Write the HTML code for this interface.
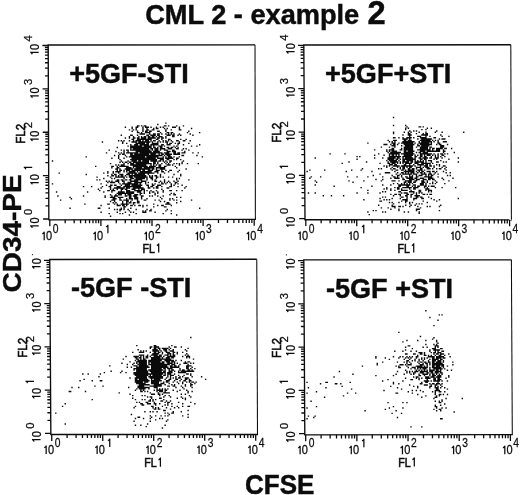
<!DOCTYPE html>
<html><head><meta charset="utf-8"><title>CML 2 - example 2</title>
<style>
html,body{margin:0;padding:0;background:#fff;}
body{width:520px;height:495px;overflow:hidden;font-family:"Liberation Sans",sans-serif;}
svg{display:block;filter:grayscale(1);}
text{font-family:"Liberation Sans",sans-serif;fill:#0c0c0c;}
.b{font-weight:bold;stroke:#0c0c0c;stroke-width:0.45px;}
.t{font-size:12px;text-anchor:middle;stroke:#0c0c0c;stroke-width:0.25px;}
.e{font-size:13.2px;text-anchor:middle;stroke:#0c0c0c;stroke-width:0.25px;}
.a{font-size:13px;stroke:#0c0c0c;stroke-width:0.6px;}
.ey{font-size:11.2px;text-anchor:middle;stroke:#0c0c0c;stroke-width:0.25px;}
.one{fill:none;stroke:#0c0c0c;stroke-width:1.25;}
</style></head><body>
<svg width="520" height="495" viewBox="0 0 520 495">
<defs>
<path id="one" class="one" d="M0 0V-8.5M0.3 -8.3C-0.2 -7.3 -1.0 -6.7 -1.9 -6.4"/>
</defs>
<rect width="520" height="495" fill="#fff"/>
<text class="b" x="145.2" y="23.8" font-size="27.2">CML 2 - example <tspan font-size="32.6" dx="0.6">2</tspan></text>
<text class="b" font-size="27.95" transform="translate(21.2,292.4) rotate(-90) scale(1,0.955)">CD34-PE</text>
<text class="b" font-size="26" transform="translate(245.0,493.7) scale(1,1.04)">CFSE</text>
<path d="M48.85 219.8L48.2 45.0L255.0 44.8" fill="none" stroke="#0c0c0c" stroke-width="1.35" stroke-linejoin="miter"/>
<path d="M255.0 44.8L255.4 219.4" fill="none" stroke="#0c0c0c" stroke-width="1.05"/>
<path d="M48.25 219.8L255.9 219.4" fill="none" stroke="#0c0c0c" stroke-width="1.35"/>
<path d="M49.80 219.80v6.4M48.85 219.00h-5.8M65.18 219.77v3.6M48.80 205.94h-3.3M74.18 219.75v3.6M48.77 198.30h-3.3M80.57 219.74v3.6M48.75 192.89h-3.3M85.52 219.73v3.6M48.73 188.68h-3.3M89.56 219.72v3.6M48.72 185.25h-3.3M92.98 219.71v3.6M48.71 182.34h-3.3M95.95 219.71v3.6M48.70 179.83h-3.3M98.56 219.70v3.6M48.69 177.61h-3.3M100.90 219.70v6.4M48.69 175.62h-5.8M116.28 219.67v3.6M48.64 162.57h-3.3M125.28 219.65v3.6M48.61 154.93h-3.3M131.67 219.64v3.6M48.59 149.51h-3.3M136.62 219.63v3.6M48.57 145.31h-3.3M140.66 219.62v3.6M48.56 141.87h-3.3M144.08 219.62v3.6M48.55 138.97h-3.3M147.05 219.61v3.6M48.54 136.45h-3.3M149.66 219.60v3.6M48.53 134.23h-3.3M152.00 219.60v6.4M48.52 132.25h-5.8M167.38 219.57v3.6M48.48 119.19h-3.3M176.38 219.55v3.6M48.45 111.55h-3.3M182.77 219.54v3.6M48.43 106.14h-3.3M187.72 219.53v3.6M48.41 101.93h-3.3M191.76 219.52v3.6M48.40 98.50h-3.3M195.18 219.52v3.6M48.39 95.59h-3.3M198.15 219.51v3.6M48.38 93.08h-3.3M200.76 219.51v3.6M48.37 90.86h-3.3M203.10 219.50v6.4M48.36 88.88h-5.8M218.48 219.47v3.6M48.31 75.82h-3.3M227.48 219.45v3.6M48.29 68.18h-3.3M233.87 219.44v3.6M48.27 62.76h-3.3M238.82 219.43v3.6M48.25 58.56h-3.3M242.86 219.42v3.6M48.24 55.12h-3.3M246.28 219.42v3.6M48.23 52.22h-3.3M249.25 219.41v3.6M48.22 49.70h-3.3M251.86 219.41v3.6M48.21 47.48h-3.3M254.20 219.40v6.4M48.20 45.50h-5.8" stroke="#0c0c0c" stroke-width="1.3" fill="none"/>
<use href="#one" x="44.20" y="240.20"/><g transform="translate(49.00,240.20)"><text class="t" transform="scale(0.92,1)">0</text></g><g transform="translate(55.60,233.30)"><text class="e" transform="scale(0.78,1)">0</text></g>
<g transform="translate(38.73,219.00) rotate(-90)"><use href="#one" x="-6.9"/><g transform="translate(-1.5,0)"><text class="t" transform="scale(0.92,1)">0</text></g><g transform="translate(7.1,-6.5)"><text class="ey" transform="scale(1.0,1)">0</text></g></g>
<use href="#one" x="95.30" y="240.20"/><g transform="translate(100.10,240.20)"><text class="t" transform="scale(0.92,1)">0</text></g><g transform="translate(106.70,233.30)"><use href="#one" x="1.2"/></g>
<g transform="translate(38.73,175.62) rotate(-90)"><use href="#one" x="-6.9"/><g transform="translate(-1.5,0)"><text class="t" transform="scale(0.92,1)">0</text></g><g transform="translate(7.1,-6.5)"><use href="#one" x="1.2"/></g></g>
<use href="#one" x="146.40" y="240.20"/><g transform="translate(151.20,240.20)"><text class="t" transform="scale(0.92,1)">0</text></g><g transform="translate(157.80,233.30)"><text class="e" transform="scale(0.78,1)">2</text></g>
<g transform="translate(38.73,132.25) rotate(-90)"><use href="#one" x="-6.9"/><g transform="translate(-1.5,0)"><text class="t" transform="scale(0.92,1)">0</text></g><g transform="translate(7.1,-6.5)"><text class="ey" transform="scale(1.0,1)">2</text></g></g>
<use href="#one" x="197.50" y="240.20"/><g transform="translate(202.30,240.20)"><text class="t" transform="scale(0.92,1)">0</text></g><g transform="translate(208.90,233.30)"><text class="e" transform="scale(0.78,1)">3</text></g>
<g transform="translate(38.73,88.88) rotate(-90)"><use href="#one" x="-6.9"/><g transform="translate(-1.5,0)"><text class="t" transform="scale(0.92,1)">0</text></g><g transform="translate(7.1,-6.5)"><text class="ey" transform="scale(1.0,1)">3</text></g></g>
<use href="#one" x="248.60" y="240.20"/><g transform="translate(253.40,240.20)"><text class="t" transform="scale(0.92,1)">0</text></g><g transform="translate(260.00,233.30)"><text class="e" transform="scale(0.78,1)">4</text></g>
<g transform="translate(38.73,45.50) rotate(-90)"><use href="#one" x="-6.9"/><g transform="translate(-1.5,0)"><text class="t" transform="scale(0.92,1)">0</text></g><g transform="translate(7.1,-6.5)"><text class="ey" transform="scale(1.0,1)">4</text></g></g>
<g transform="translate(142.6,252.6)"><text class="a" transform="scale(0.82,1)">FL</text><use href="#one" x="16.1" y="0" transform="scale(1,1.08)" style="stroke-width:1.5"/></g>
<g transform="translate(24.9,143.7) rotate(-90)"><text class="a" style="font-size:12.2px" transform="scale(0.95,1)">FL2</text></g>
<text class="b" font-size="27.2" transform="translate(69.19999999999999,83.2) scale(0.995,1.03)" xml:space="preserve">+5GF-STI</text>
<path d="M51.80 160.25h1.4v1.4h-1.4zM51.80 183.20h1.4v1.4h-1.4zM55.85 191.30h1.4v1.4h-1.4zM57.20 195.35h1.4v1.4h-1.4zM58.55 172.40h1.4v1.4h-1.4zM59.90 199.40h1.4v1.4h-1.4zM69.35 196.70h1.4v1.4h-1.4zM69.35 207.50h1.4v1.4h-1.4zM70.70 198.05h1.4v1.4h-1.4zM82.85 185.90h1.4v1.4h-1.4zM82.85 195.35h1.4v1.4h-1.4zM84.20 203.45h1.4v1.4h-1.4zM85.55 156.20h1.4v1.4h-1.4zM85.55 173.75h1.4v1.4h-1.4zM86.90 191.30h1.4v1.4h-1.4zM90.95 185.90h1.4v1.4h-1.4zM95.00 165.65h1.4v1.4h-1.4zM96.35 176.45h1.4v1.4h-1.4zM96.35 179.15h1.4v1.4h-1.4zM97.70 188.60h1.4v1.4h-1.4zM97.70 207.50h1.4v1.4h-1.4zM99.05 179.15h1.4v1.4h-1.4zM99.05 189.95h1.4v1.4h-1.4zM99.05 207.50h1.4v1.4h-1.4zM100.40 183.20h1.4v1.4h-1.4zM100.40 187.25h1.4v1.4h-1.4zM100.40 204.80h1.4v1.4h-1.4zM100.40 211.55h1.4v1.4h-1.4zM101.75 141.35h1.4v1.4h-1.4zM101.75 185.90h1.4v1.4h-1.4zM103.10 172.40h1.4v1.4h-1.4zM103.10 177.80h1.4v1.4h-1.4zM103.10 191.30h1.4v1.4h-1.4zM104.45 195.35h1.4v1.4h-1.4zM104.45 196.70h1.4v1.4h-1.4zM105.80 152.15h1.4v1.4h-1.4zM105.80 180.50h1.4v1.4h-1.4zM105.80 184.55h1.4v1.4h-1.4zM107.15 171.05h1.4v1.4h-1.4zM107.15 172.40h1.4v1.4h-1.4zM107.15 175.10h1.4v1.4h-1.4zM107.15 181.85h1.4v1.4h-1.4zM107.15 189.95h1.4v1.4h-1.4zM107.15 203.45h1.4v1.4h-1.4zM108.50 149.45h1.4v1.4h-1.4zM108.50 180.50h1.4v1.4h-1.4zM108.50 185.90h1.4v1.4h-1.4zM108.50 189.95h1.4v1.4h-1.4zM108.50 203.45h1.4v1.4h-1.4zM108.50 207.50h1.4v1.4h-1.4zM108.50 212.90h1.4v1.4h-1.4zM109.85 162.95h1.4v1.4h-1.4zM109.85 176.45h1.4v1.4h-1.4zM109.85 181.85h1.4v1.4h-1.4zM109.85 184.55h1.4v1.4h-1.4zM109.85 185.90h1.4v1.4h-1.4zM109.85 187.25h1.4v1.4h-1.4zM109.85 188.60h1.4v1.4h-1.4zM109.85 194.00h1.4v1.4h-1.4zM109.85 196.70h1.4v1.4h-1.4zM109.85 200.75h1.4v1.4h-1.4zM109.85 215.60h1.4v1.4h-1.4zM111.20 157.55h1.4v1.4h-1.4zM111.20 165.65h1.4v1.4h-1.4zM111.20 167.00h1.4v1.4h-1.4zM111.20 173.75h1.4v1.4h-1.4zM111.20 175.10h1.4v1.4h-1.4zM111.20 177.80h1.4v1.4h-1.4zM111.20 180.50h1.4v1.4h-1.4zM111.20 181.85h1.4v1.4h-1.4zM111.20 184.55h1.4v1.4h-1.4zM111.20 189.95h1.4v1.4h-1.4zM111.20 191.30h1.4v1.4h-1.4zM111.20 195.35h1.4v1.4h-1.4zM111.20 196.70h1.4v1.4h-1.4zM111.20 199.40h1.4v1.4h-1.4zM112.55 165.65h1.4v1.4h-1.4zM112.55 171.05h1.4v1.4h-1.4zM112.55 172.40h1.4v1.4h-1.4zM112.55 175.10h1.4v1.4h-1.4zM112.55 181.85h1.4v1.4h-1.4zM112.55 188.60h1.4v1.4h-1.4zM112.55 189.95h1.4v1.4h-1.4zM112.55 196.70h1.4v1.4h-1.4zM112.55 198.05h1.4v1.4h-1.4zM112.55 199.40h1.4v1.4h-1.4zM112.55 202.10h1.4v1.4h-1.4zM113.90 154.85h1.4v1.4h-1.4zM113.90 173.75h1.4v1.4h-1.4zM113.90 177.80h1.4v1.4h-1.4zM113.90 181.85h1.4v1.4h-1.4zM113.90 184.55h1.4v1.4h-1.4zM113.90 187.25h1.4v1.4h-1.4zM113.90 189.95h1.4v1.4h-1.4zM113.90 195.35h1.4v1.4h-1.4zM113.90 196.70h1.4v1.4h-1.4zM113.90 198.05h1.4v1.4h-1.4zM113.90 199.40h1.4v1.4h-1.4zM113.90 200.75h1.4v1.4h-1.4zM113.90 203.45h1.4v1.4h-1.4zM113.90 208.85h1.4v1.4h-1.4zM115.25 150.80h1.4v1.4h-1.4zM115.25 164.30h1.4v1.4h-1.4zM115.25 168.35h1.4v1.4h-1.4zM115.25 171.05h1.4v1.4h-1.4zM115.25 173.75h1.4v1.4h-1.4zM115.25 175.10h1.4v1.4h-1.4zM115.25 176.45h1.4v1.4h-1.4zM115.25 180.50h1.4v1.4h-1.4zM115.25 184.55h1.4v1.4h-1.4zM115.25 187.25h1.4v1.4h-1.4zM115.25 194.00h1.4v1.4h-1.4zM115.25 195.35h1.4v1.4h-1.4zM115.25 198.05h1.4v1.4h-1.4zM115.25 202.10h1.4v1.4h-1.4zM116.60 146.75h1.4v1.4h-1.4zM116.60 165.65h1.4v1.4h-1.4zM116.60 167.00h1.4v1.4h-1.4zM116.60 168.35h1.4v1.4h-1.4zM116.60 169.70h1.4v1.4h-1.4zM116.60 171.05h1.4v1.4h-1.4zM116.60 176.45h1.4v1.4h-1.4zM116.60 179.15h1.4v1.4h-1.4zM116.60 180.50h1.4v1.4h-1.4zM116.60 185.90h1.4v1.4h-1.4zM116.60 187.25h1.4v1.4h-1.4zM116.60 188.60h1.4v1.4h-1.4zM116.60 192.65h1.4v1.4h-1.4zM116.60 195.35h1.4v1.4h-1.4zM116.60 203.45h1.4v1.4h-1.4zM116.60 204.80h1.4v1.4h-1.4zM116.60 208.85h1.4v1.4h-1.4zM116.60 211.55h1.4v1.4h-1.4zM117.95 140.00h1.4v1.4h-1.4zM117.95 152.15h1.4v1.4h-1.4zM117.95 154.85h1.4v1.4h-1.4zM117.95 156.20h1.4v1.4h-1.4zM117.95 157.55h1.4v1.4h-1.4zM117.95 164.30h1.4v1.4h-1.4zM117.95 167.00h1.4v1.4h-1.4zM117.95 171.05h1.4v1.4h-1.4zM117.95 172.40h1.4v1.4h-1.4zM117.95 175.10h1.4v1.4h-1.4zM117.95 176.45h1.4v1.4h-1.4zM117.95 179.15h1.4v1.4h-1.4zM117.95 180.50h1.4v1.4h-1.4zM117.95 181.85h1.4v1.4h-1.4zM117.95 185.90h1.4v1.4h-1.4zM117.95 187.25h1.4v1.4h-1.4zM117.95 191.30h1.4v1.4h-1.4zM117.95 192.65h1.4v1.4h-1.4zM117.95 194.00h1.4v1.4h-1.4zM117.95 196.70h1.4v1.4h-1.4zM117.95 204.80h1.4v1.4h-1.4zM119.30 153.50h1.4v1.4h-1.4zM119.30 158.90h1.4v1.4h-1.4zM119.30 161.60h1.4v1.4h-1.4zM119.30 165.65h1.4v1.4h-1.4zM119.30 168.35h1.4v1.4h-1.4zM119.30 169.70h1.4v1.4h-1.4zM119.30 171.05h1.4v1.4h-1.4zM119.30 173.75h1.4v1.4h-1.4zM119.30 176.45h1.4v1.4h-1.4zM119.30 183.20h1.4v1.4h-1.4zM119.30 185.90h1.4v1.4h-1.4zM119.30 187.25h1.4v1.4h-1.4zM119.30 191.30h1.4v1.4h-1.4zM119.30 192.65h1.4v1.4h-1.4zM119.30 194.00h1.4v1.4h-1.4zM119.30 196.70h1.4v1.4h-1.4zM119.30 198.05h1.4v1.4h-1.4zM119.30 199.40h1.4v1.4h-1.4zM119.30 204.80h1.4v1.4h-1.4zM119.30 208.85h1.4v1.4h-1.4zM119.30 210.20h1.4v1.4h-1.4zM119.30 212.90h1.4v1.4h-1.4zM120.65 134.60h1.4v1.4h-1.4zM120.65 140.00h1.4v1.4h-1.4zM120.65 149.45h1.4v1.4h-1.4zM120.65 152.15h1.4v1.4h-1.4zM120.65 160.25h1.4v1.4h-1.4zM120.65 164.30h1.4v1.4h-1.4zM120.65 165.65h1.4v1.4h-1.4zM120.65 169.70h1.4v1.4h-1.4zM120.65 173.75h1.4v1.4h-1.4zM120.65 175.10h1.4v1.4h-1.4zM120.65 176.45h1.4v1.4h-1.4zM120.65 179.15h1.4v1.4h-1.4zM120.65 184.55h1.4v1.4h-1.4zM120.65 187.25h1.4v1.4h-1.4zM120.65 188.60h1.4v1.4h-1.4zM120.65 189.95h1.4v1.4h-1.4zM120.65 191.30h1.4v1.4h-1.4zM120.65 192.65h1.4v1.4h-1.4zM120.65 194.00h1.4v1.4h-1.4zM120.65 196.70h1.4v1.4h-1.4zM120.65 199.40h1.4v1.4h-1.4zM120.65 203.45h1.4v1.4h-1.4zM120.65 207.50h1.4v1.4h-1.4zM120.65 208.85h1.4v1.4h-1.4zM122.00 141.35h1.4v1.4h-1.4zM122.00 142.70h1.4v1.4h-1.4zM122.00 153.50h1.4v1.4h-1.4zM122.00 161.60h1.4v1.4h-1.4zM122.00 164.30h1.4v1.4h-1.4zM122.00 165.65h1.4v1.4h-1.4zM122.00 173.75h1.4v1.4h-1.4zM122.00 175.10h1.4v1.4h-1.4zM122.00 176.45h1.4v1.4h-1.4zM122.00 179.15h1.4v1.4h-1.4zM122.00 180.50h1.4v1.4h-1.4zM122.00 183.20h1.4v1.4h-1.4zM122.00 187.25h1.4v1.4h-1.4zM122.00 188.60h1.4v1.4h-1.4zM122.00 191.30h1.4v1.4h-1.4zM122.00 192.65h1.4v1.4h-1.4zM122.00 196.70h1.4v1.4h-1.4zM122.00 200.75h1.4v1.4h-1.4zM122.00 202.10h1.4v1.4h-1.4zM122.00 203.45h1.4v1.4h-1.4zM122.00 204.80h1.4v1.4h-1.4zM122.00 212.90h1.4v1.4h-1.4zM123.35 140.00h1.4v1.4h-1.4zM123.35 149.45h1.4v1.4h-1.4zM123.35 150.80h1.4v1.4h-1.4zM123.35 152.15h1.4v1.4h-1.4zM123.35 153.50h1.4v1.4h-1.4zM123.35 157.55h1.4v1.4h-1.4zM123.35 162.95h1.4v1.4h-1.4zM123.35 164.30h1.4v1.4h-1.4zM123.35 165.65h1.4v1.4h-1.4zM123.35 169.70h1.4v1.4h-1.4zM123.35 171.05h1.4v1.4h-1.4zM123.35 176.45h1.4v1.4h-1.4zM123.35 177.80h1.4v1.4h-1.4zM123.35 180.50h1.4v1.4h-1.4zM123.35 181.85h1.4v1.4h-1.4zM123.35 183.20h1.4v1.4h-1.4zM123.35 185.90h1.4v1.4h-1.4zM123.35 187.25h1.4v1.4h-1.4zM123.35 191.30h1.4v1.4h-1.4zM123.35 192.65h1.4v1.4h-1.4zM123.35 199.40h1.4v1.4h-1.4zM123.35 203.45h1.4v1.4h-1.4zM123.35 204.80h1.4v1.4h-1.4zM123.35 206.15h1.4v1.4h-1.4zM123.35 207.50h1.4v1.4h-1.4zM123.35 208.85h1.4v1.4h-1.4zM124.70 126.50h1.4v1.4h-1.4zM124.70 137.30h1.4v1.4h-1.4zM124.70 154.85h1.4v1.4h-1.4zM124.70 161.60h1.4v1.4h-1.4zM124.70 165.65h1.4v1.4h-1.4zM124.70 168.35h1.4v1.4h-1.4zM124.70 175.10h1.4v1.4h-1.4zM124.70 179.15h1.4v1.4h-1.4zM124.70 183.20h1.4v1.4h-1.4zM124.70 184.55h1.4v1.4h-1.4zM124.70 185.90h1.4v1.4h-1.4zM124.70 188.60h1.4v1.4h-1.4zM124.70 192.65h1.4v1.4h-1.4zM124.70 194.00h1.4v1.4h-1.4zM124.70 195.35h1.4v1.4h-1.4zM124.70 199.40h1.4v1.4h-1.4zM124.70 203.45h1.4v1.4h-1.4zM124.70 206.15h1.4v1.4h-1.4zM124.70 211.55h1.4v1.4h-1.4zM126.05 142.70h1.4v1.4h-1.4zM126.05 149.45h1.4v1.4h-1.4zM126.05 152.15h1.4v1.4h-1.4zM126.05 156.20h1.4v1.4h-1.4zM126.05 161.60h1.4v1.4h-1.4zM126.05 165.65h1.4v1.4h-1.4zM126.05 167.00h1.4v1.4h-1.4zM126.05 168.35h1.4v1.4h-1.4zM126.05 169.70h1.4v1.4h-1.4zM126.05 171.05h1.4v1.4h-1.4zM126.05 173.75h1.4v1.4h-1.4zM126.05 176.45h1.4v1.4h-1.4zM126.05 179.15h1.4v1.4h-1.4zM126.05 183.20h1.4v1.4h-1.4zM126.05 184.55h1.4v1.4h-1.4zM126.05 185.90h1.4v1.4h-1.4zM126.05 187.25h1.4v1.4h-1.4zM126.05 188.60h1.4v1.4h-1.4zM126.05 189.95h1.4v1.4h-1.4zM126.05 191.30h1.4v1.4h-1.4zM126.05 192.65h1.4v1.4h-1.4zM126.05 195.35h1.4v1.4h-1.4zM126.05 198.05h1.4v1.4h-1.4zM126.05 199.40h1.4v1.4h-1.4zM126.05 200.75h1.4v1.4h-1.4zM126.05 202.10h1.4v1.4h-1.4zM126.05 203.45h1.4v1.4h-1.4zM126.05 204.80h1.4v1.4h-1.4zM127.40 145.40h1.4v1.4h-1.4zM127.40 149.45h1.4v1.4h-1.4zM127.40 150.80h1.4v1.4h-1.4zM127.40 152.15h1.4v1.4h-1.4zM127.40 160.25h1.4v1.4h-1.4zM127.40 162.95h1.4v1.4h-1.4zM127.40 165.65h1.4v1.4h-1.4zM127.40 167.00h1.4v1.4h-1.4zM127.40 168.35h1.4v1.4h-1.4zM127.40 169.70h1.4v1.4h-1.4zM127.40 172.40h1.4v1.4h-1.4zM127.40 173.75h1.4v1.4h-1.4zM127.40 181.85h1.4v1.4h-1.4zM127.40 183.20h1.4v1.4h-1.4zM127.40 184.55h1.4v1.4h-1.4zM127.40 185.90h1.4v1.4h-1.4zM127.40 187.25h1.4v1.4h-1.4zM127.40 189.95h1.4v1.4h-1.4zM127.40 191.30h1.4v1.4h-1.4zM127.40 192.65h1.4v1.4h-1.4zM127.40 194.00h1.4v1.4h-1.4zM127.40 199.40h1.4v1.4h-1.4zM127.40 200.75h1.4v1.4h-1.4zM127.40 203.45h1.4v1.4h-1.4zM127.40 208.85h1.4v1.4h-1.4zM128.75 129.20h1.4v1.4h-1.4zM128.75 135.95h1.4v1.4h-1.4zM128.75 137.30h1.4v1.4h-1.4zM128.75 140.00h1.4v1.4h-1.4zM128.75 152.15h1.4v1.4h-1.4zM128.75 156.20h1.4v1.4h-1.4zM128.75 161.60h1.4v1.4h-1.4zM128.75 167.00h1.4v1.4h-1.4zM128.75 168.35h1.4v1.4h-1.4zM128.75 169.70h1.4v1.4h-1.4zM128.75 171.05h1.4v1.4h-1.4zM128.75 172.40h1.4v1.4h-1.4zM128.75 173.75h1.4v1.4h-1.4zM128.75 175.10h1.4v1.4h-1.4zM128.75 176.45h1.4v1.4h-1.4zM128.75 179.15h1.4v1.4h-1.4zM128.75 181.85h1.4v1.4h-1.4zM128.75 183.20h1.4v1.4h-1.4zM128.75 184.55h1.4v1.4h-1.4zM128.75 185.90h1.4v1.4h-1.4zM128.75 187.25h1.4v1.4h-1.4zM128.75 189.95h1.4v1.4h-1.4zM128.75 191.30h1.4v1.4h-1.4zM128.75 192.65h1.4v1.4h-1.4zM128.75 194.00h1.4v1.4h-1.4zM128.75 195.35h1.4v1.4h-1.4zM128.75 196.70h1.4v1.4h-1.4zM128.75 198.05h1.4v1.4h-1.4zM128.75 202.10h1.4v1.4h-1.4zM128.75 210.20h1.4v1.4h-1.4zM128.75 214.25h1.4v1.4h-1.4zM130.10 134.60h1.4v1.4h-1.4zM130.10 144.05h1.4v1.4h-1.4zM130.10 145.40h1.4v1.4h-1.4zM130.10 146.75h1.4v1.4h-1.4zM130.10 148.10h1.4v1.4h-1.4zM130.10 149.45h1.4v1.4h-1.4zM130.10 152.15h1.4v1.4h-1.4zM130.10 153.50h1.4v1.4h-1.4zM130.10 154.85h1.4v1.4h-1.4zM130.10 156.20h1.4v1.4h-1.4zM130.10 158.90h1.4v1.4h-1.4zM130.10 161.60h1.4v1.4h-1.4zM130.10 162.95h1.4v1.4h-1.4zM130.10 164.30h1.4v1.4h-1.4zM130.10 167.00h1.4v1.4h-1.4zM130.10 168.35h1.4v1.4h-1.4zM130.10 171.05h1.4v1.4h-1.4zM130.10 172.40h1.4v1.4h-1.4zM130.10 175.10h1.4v1.4h-1.4zM130.10 176.45h1.4v1.4h-1.4zM130.10 177.80h1.4v1.4h-1.4zM130.10 179.15h1.4v1.4h-1.4zM130.10 180.50h1.4v1.4h-1.4zM130.10 181.85h1.4v1.4h-1.4zM130.10 183.20h1.4v1.4h-1.4zM130.10 185.90h1.4v1.4h-1.4zM130.10 191.30h1.4v1.4h-1.4zM130.10 192.65h1.4v1.4h-1.4zM130.10 194.00h1.4v1.4h-1.4zM130.10 195.35h1.4v1.4h-1.4zM130.10 196.70h1.4v1.4h-1.4zM130.10 198.05h1.4v1.4h-1.4zM130.10 200.75h1.4v1.4h-1.4zM130.10 202.10h1.4v1.4h-1.4zM130.10 204.80h1.4v1.4h-1.4zM130.10 207.50h1.4v1.4h-1.4zM130.10 211.55h1.4v1.4h-1.4zM131.45 126.50h1.4v1.4h-1.4zM131.45 127.85h1.4v1.4h-1.4zM131.45 130.55h1.4v1.4h-1.4zM131.45 134.60h1.4v1.4h-1.4zM131.45 138.65h1.4v1.4h-1.4zM131.45 141.35h1.4v1.4h-1.4zM131.45 145.40h1.4v1.4h-1.4zM131.45 146.75h1.4v1.4h-1.4zM131.45 149.45h1.4v1.4h-1.4zM131.45 152.15h1.4v1.4h-1.4zM131.45 153.50h1.4v1.4h-1.4zM131.45 154.85h1.4v1.4h-1.4zM131.45 156.20h1.4v1.4h-1.4zM131.45 157.55h1.4v1.4h-1.4zM131.45 158.90h1.4v1.4h-1.4zM131.45 160.25h1.4v1.4h-1.4zM131.45 162.95h1.4v1.4h-1.4zM131.45 164.30h1.4v1.4h-1.4zM131.45 168.35h1.4v1.4h-1.4zM131.45 169.70h1.4v1.4h-1.4zM131.45 171.05h1.4v1.4h-1.4zM131.45 172.40h1.4v1.4h-1.4zM131.45 173.75h1.4v1.4h-1.4zM131.45 175.10h1.4v1.4h-1.4zM131.45 176.45h1.4v1.4h-1.4zM131.45 177.80h1.4v1.4h-1.4zM131.45 180.50h1.4v1.4h-1.4zM131.45 183.20h1.4v1.4h-1.4zM131.45 184.55h1.4v1.4h-1.4zM131.45 185.90h1.4v1.4h-1.4zM131.45 188.60h1.4v1.4h-1.4zM131.45 191.30h1.4v1.4h-1.4zM131.45 192.65h1.4v1.4h-1.4zM131.45 198.05h1.4v1.4h-1.4zM131.45 199.40h1.4v1.4h-1.4zM131.45 204.80h1.4v1.4h-1.4zM132.80 129.20h1.4v1.4h-1.4zM132.80 135.95h1.4v1.4h-1.4zM132.80 137.30h1.4v1.4h-1.4zM132.80 138.65h1.4v1.4h-1.4zM132.80 140.00h1.4v1.4h-1.4zM132.80 141.35h1.4v1.4h-1.4zM132.80 145.40h1.4v1.4h-1.4zM132.80 146.75h1.4v1.4h-1.4zM132.80 148.10h1.4v1.4h-1.4zM132.80 149.45h1.4v1.4h-1.4zM132.80 152.15h1.4v1.4h-1.4zM132.80 154.85h1.4v1.4h-1.4zM132.80 156.20h1.4v1.4h-1.4zM132.80 157.55h1.4v1.4h-1.4zM132.80 158.90h1.4v1.4h-1.4zM132.80 160.25h1.4v1.4h-1.4zM132.80 161.60h1.4v1.4h-1.4zM132.80 162.95h1.4v1.4h-1.4zM132.80 164.30h1.4v1.4h-1.4zM132.80 165.65h1.4v1.4h-1.4zM132.80 167.00h1.4v1.4h-1.4zM132.80 169.70h1.4v1.4h-1.4zM132.80 171.05h1.4v1.4h-1.4zM132.80 172.40h1.4v1.4h-1.4zM132.80 175.10h1.4v1.4h-1.4zM132.80 177.80h1.4v1.4h-1.4zM132.80 180.50h1.4v1.4h-1.4zM132.80 183.20h1.4v1.4h-1.4zM132.80 184.55h1.4v1.4h-1.4zM132.80 185.90h1.4v1.4h-1.4zM132.80 187.25h1.4v1.4h-1.4zM132.80 188.60h1.4v1.4h-1.4zM132.80 191.30h1.4v1.4h-1.4zM132.80 192.65h1.4v1.4h-1.4zM132.80 195.35h1.4v1.4h-1.4zM132.80 202.10h1.4v1.4h-1.4zM132.80 203.45h1.4v1.4h-1.4zM132.80 211.55h1.4v1.4h-1.4zM134.15 137.30h1.4v1.4h-1.4zM134.15 141.35h1.4v1.4h-1.4zM134.15 144.05h1.4v1.4h-1.4zM134.15 145.40h1.4v1.4h-1.4zM134.15 146.75h1.4v1.4h-1.4zM134.15 148.10h1.4v1.4h-1.4zM134.15 149.45h1.4v1.4h-1.4zM134.15 152.15h1.4v1.4h-1.4zM134.15 153.50h1.4v1.4h-1.4zM134.15 154.85h1.4v1.4h-1.4zM134.15 156.20h1.4v1.4h-1.4zM134.15 157.55h1.4v1.4h-1.4zM134.15 158.90h1.4v1.4h-1.4zM134.15 160.25h1.4v1.4h-1.4zM134.15 161.60h1.4v1.4h-1.4zM134.15 164.30h1.4v1.4h-1.4zM134.15 165.65h1.4v1.4h-1.4zM134.15 168.35h1.4v1.4h-1.4zM134.15 169.70h1.4v1.4h-1.4zM134.15 171.05h1.4v1.4h-1.4zM134.15 172.40h1.4v1.4h-1.4zM134.15 173.75h1.4v1.4h-1.4zM134.15 175.10h1.4v1.4h-1.4zM134.15 176.45h1.4v1.4h-1.4zM134.15 179.15h1.4v1.4h-1.4zM134.15 180.50h1.4v1.4h-1.4zM134.15 181.85h1.4v1.4h-1.4zM134.15 183.20h1.4v1.4h-1.4zM134.15 184.55h1.4v1.4h-1.4zM134.15 185.90h1.4v1.4h-1.4zM134.15 187.25h1.4v1.4h-1.4zM134.15 188.60h1.4v1.4h-1.4zM134.15 189.95h1.4v1.4h-1.4zM134.15 194.00h1.4v1.4h-1.4zM134.15 195.35h1.4v1.4h-1.4zM134.15 196.70h1.4v1.4h-1.4zM134.15 198.05h1.4v1.4h-1.4zM134.15 202.10h1.4v1.4h-1.4zM134.15 204.80h1.4v1.4h-1.4zM135.50 126.50h1.4v1.4h-1.4zM135.50 127.85h1.4v1.4h-1.4zM135.50 129.20h1.4v1.4h-1.4zM135.50 140.00h1.4v1.4h-1.4zM135.50 141.35h1.4v1.4h-1.4zM135.50 142.70h1.4v1.4h-1.4zM135.50 144.05h1.4v1.4h-1.4zM135.50 145.40h1.4v1.4h-1.4zM135.50 146.75h1.4v1.4h-1.4zM135.50 148.10h1.4v1.4h-1.4zM135.50 149.45h1.4v1.4h-1.4zM135.50 150.80h1.4v1.4h-1.4zM135.50 152.15h1.4v1.4h-1.4zM135.50 153.50h1.4v1.4h-1.4zM135.50 154.85h1.4v1.4h-1.4zM135.50 156.20h1.4v1.4h-1.4zM135.50 157.55h1.4v1.4h-1.4zM135.50 158.90h1.4v1.4h-1.4zM135.50 160.25h1.4v1.4h-1.4zM135.50 161.60h1.4v1.4h-1.4zM135.50 162.95h1.4v1.4h-1.4zM135.50 164.30h1.4v1.4h-1.4zM135.50 165.65h1.4v1.4h-1.4zM135.50 167.00h1.4v1.4h-1.4zM135.50 168.35h1.4v1.4h-1.4zM135.50 169.70h1.4v1.4h-1.4zM135.50 172.40h1.4v1.4h-1.4zM135.50 173.75h1.4v1.4h-1.4zM135.50 175.10h1.4v1.4h-1.4zM135.50 176.45h1.4v1.4h-1.4zM135.50 177.80h1.4v1.4h-1.4zM135.50 179.15h1.4v1.4h-1.4zM135.50 180.50h1.4v1.4h-1.4zM135.50 181.85h1.4v1.4h-1.4zM135.50 183.20h1.4v1.4h-1.4zM135.50 184.55h1.4v1.4h-1.4zM135.50 185.90h1.4v1.4h-1.4zM135.50 187.25h1.4v1.4h-1.4zM135.50 189.95h1.4v1.4h-1.4zM135.50 194.00h1.4v1.4h-1.4zM135.50 195.35h1.4v1.4h-1.4zM135.50 196.70h1.4v1.4h-1.4zM135.50 198.05h1.4v1.4h-1.4zM135.50 208.85h1.4v1.4h-1.4zM135.50 212.90h1.4v1.4h-1.4zM136.85 125.15h1.4v1.4h-1.4zM136.85 126.50h1.4v1.4h-1.4zM136.85 130.55h1.4v1.4h-1.4zM136.85 131.90h1.4v1.4h-1.4zM136.85 134.60h1.4v1.4h-1.4zM136.85 137.30h1.4v1.4h-1.4zM136.85 138.65h1.4v1.4h-1.4zM136.85 140.00h1.4v1.4h-1.4zM136.85 142.70h1.4v1.4h-1.4zM136.85 144.05h1.4v1.4h-1.4zM136.85 145.40h1.4v1.4h-1.4zM136.85 146.75h1.4v1.4h-1.4zM136.85 148.10h1.4v1.4h-1.4zM136.85 149.45h1.4v1.4h-1.4zM136.85 150.80h1.4v1.4h-1.4zM136.85 152.15h1.4v1.4h-1.4zM136.85 153.50h1.4v1.4h-1.4zM136.85 154.85h1.4v1.4h-1.4zM136.85 156.20h1.4v1.4h-1.4zM136.85 157.55h1.4v1.4h-1.4zM136.85 158.90h1.4v1.4h-1.4zM136.85 161.60h1.4v1.4h-1.4zM136.85 162.95h1.4v1.4h-1.4zM136.85 164.30h1.4v1.4h-1.4zM136.85 165.65h1.4v1.4h-1.4zM136.85 167.00h1.4v1.4h-1.4zM136.85 168.35h1.4v1.4h-1.4zM136.85 169.70h1.4v1.4h-1.4zM136.85 171.05h1.4v1.4h-1.4zM136.85 173.75h1.4v1.4h-1.4zM136.85 175.10h1.4v1.4h-1.4zM136.85 176.45h1.4v1.4h-1.4zM136.85 177.80h1.4v1.4h-1.4zM136.85 179.15h1.4v1.4h-1.4zM136.85 180.50h1.4v1.4h-1.4zM136.85 181.85h1.4v1.4h-1.4zM136.85 183.20h1.4v1.4h-1.4zM136.85 184.55h1.4v1.4h-1.4zM136.85 185.90h1.4v1.4h-1.4zM136.85 187.25h1.4v1.4h-1.4zM136.85 189.95h1.4v1.4h-1.4zM136.85 191.30h1.4v1.4h-1.4zM136.85 194.00h1.4v1.4h-1.4zM136.85 196.70h1.4v1.4h-1.4zM136.85 198.05h1.4v1.4h-1.4zM136.85 199.40h1.4v1.4h-1.4zM136.85 200.75h1.4v1.4h-1.4zM136.85 202.10h1.4v1.4h-1.4zM138.20 125.15h1.4v1.4h-1.4zM138.20 131.90h1.4v1.4h-1.4zM138.20 135.95h1.4v1.4h-1.4zM138.20 137.30h1.4v1.4h-1.4zM138.20 138.65h1.4v1.4h-1.4zM138.20 140.00h1.4v1.4h-1.4zM138.20 141.35h1.4v1.4h-1.4zM138.20 142.70h1.4v1.4h-1.4zM138.20 145.40h1.4v1.4h-1.4zM138.20 146.75h1.4v1.4h-1.4zM138.20 148.10h1.4v1.4h-1.4zM138.20 149.45h1.4v1.4h-1.4zM138.20 150.80h1.4v1.4h-1.4zM138.20 153.50h1.4v1.4h-1.4zM138.20 154.85h1.4v1.4h-1.4zM138.20 156.20h1.4v1.4h-1.4zM138.20 157.55h1.4v1.4h-1.4zM138.20 158.90h1.4v1.4h-1.4zM138.20 160.25h1.4v1.4h-1.4zM138.20 161.60h1.4v1.4h-1.4zM138.20 162.95h1.4v1.4h-1.4zM138.20 164.30h1.4v1.4h-1.4zM138.20 165.65h1.4v1.4h-1.4zM138.20 167.00h1.4v1.4h-1.4zM138.20 168.35h1.4v1.4h-1.4zM138.20 169.70h1.4v1.4h-1.4zM138.20 172.40h1.4v1.4h-1.4zM138.20 173.75h1.4v1.4h-1.4zM138.20 175.10h1.4v1.4h-1.4zM138.20 176.45h1.4v1.4h-1.4zM138.20 177.80h1.4v1.4h-1.4zM138.20 179.15h1.4v1.4h-1.4zM138.20 181.85h1.4v1.4h-1.4zM138.20 184.55h1.4v1.4h-1.4zM138.20 185.90h1.4v1.4h-1.4zM138.20 187.25h1.4v1.4h-1.4zM138.20 188.60h1.4v1.4h-1.4zM138.20 189.95h1.4v1.4h-1.4zM138.20 191.30h1.4v1.4h-1.4zM138.20 200.75h1.4v1.4h-1.4zM138.20 202.10h1.4v1.4h-1.4zM138.20 204.80h1.4v1.4h-1.4zM139.55 133.25h1.4v1.4h-1.4zM139.55 138.65h1.4v1.4h-1.4zM139.55 140.00h1.4v1.4h-1.4zM139.55 141.35h1.4v1.4h-1.4zM139.55 142.70h1.4v1.4h-1.4zM139.55 144.05h1.4v1.4h-1.4zM139.55 145.40h1.4v1.4h-1.4zM139.55 146.75h1.4v1.4h-1.4zM139.55 148.10h1.4v1.4h-1.4zM139.55 149.45h1.4v1.4h-1.4zM139.55 150.80h1.4v1.4h-1.4zM139.55 152.15h1.4v1.4h-1.4zM139.55 153.50h1.4v1.4h-1.4zM139.55 154.85h1.4v1.4h-1.4zM139.55 156.20h1.4v1.4h-1.4zM139.55 157.55h1.4v1.4h-1.4zM139.55 158.90h1.4v1.4h-1.4zM139.55 160.25h1.4v1.4h-1.4zM139.55 161.60h1.4v1.4h-1.4zM139.55 162.95h1.4v1.4h-1.4zM139.55 164.30h1.4v1.4h-1.4zM139.55 165.65h1.4v1.4h-1.4zM139.55 167.00h1.4v1.4h-1.4zM139.55 168.35h1.4v1.4h-1.4zM139.55 169.70h1.4v1.4h-1.4zM139.55 171.05h1.4v1.4h-1.4zM139.55 172.40h1.4v1.4h-1.4zM139.55 173.75h1.4v1.4h-1.4zM139.55 175.10h1.4v1.4h-1.4zM139.55 176.45h1.4v1.4h-1.4zM139.55 177.80h1.4v1.4h-1.4zM139.55 179.15h1.4v1.4h-1.4zM139.55 181.85h1.4v1.4h-1.4zM139.55 183.20h1.4v1.4h-1.4zM139.55 184.55h1.4v1.4h-1.4zM139.55 185.90h1.4v1.4h-1.4zM139.55 187.25h1.4v1.4h-1.4zM139.55 189.95h1.4v1.4h-1.4zM139.55 191.30h1.4v1.4h-1.4zM139.55 192.65h1.4v1.4h-1.4zM139.55 194.00h1.4v1.4h-1.4zM139.55 204.80h1.4v1.4h-1.4zM140.90 125.15h1.4v1.4h-1.4zM140.90 131.90h1.4v1.4h-1.4zM140.90 133.25h1.4v1.4h-1.4zM140.90 135.95h1.4v1.4h-1.4zM140.90 137.30h1.4v1.4h-1.4zM140.90 138.65h1.4v1.4h-1.4zM140.90 141.35h1.4v1.4h-1.4zM140.90 142.70h1.4v1.4h-1.4zM140.90 144.05h1.4v1.4h-1.4zM140.90 145.40h1.4v1.4h-1.4zM140.90 146.75h1.4v1.4h-1.4zM140.90 148.10h1.4v1.4h-1.4zM140.90 149.45h1.4v1.4h-1.4zM140.90 150.80h1.4v1.4h-1.4zM140.90 152.15h1.4v1.4h-1.4zM140.90 153.50h1.4v1.4h-1.4zM140.90 154.85h1.4v1.4h-1.4zM140.90 156.20h1.4v1.4h-1.4zM140.90 157.55h1.4v1.4h-1.4zM140.90 158.90h1.4v1.4h-1.4zM140.90 161.60h1.4v1.4h-1.4zM140.90 162.95h1.4v1.4h-1.4zM140.90 164.30h1.4v1.4h-1.4zM140.90 165.65h1.4v1.4h-1.4zM140.90 167.00h1.4v1.4h-1.4zM140.90 168.35h1.4v1.4h-1.4zM140.90 171.05h1.4v1.4h-1.4zM140.90 172.40h1.4v1.4h-1.4zM140.90 173.75h1.4v1.4h-1.4zM140.90 175.10h1.4v1.4h-1.4zM140.90 176.45h1.4v1.4h-1.4zM140.90 177.80h1.4v1.4h-1.4zM140.90 179.15h1.4v1.4h-1.4zM140.90 180.50h1.4v1.4h-1.4zM140.90 181.85h1.4v1.4h-1.4zM140.90 184.55h1.4v1.4h-1.4zM140.90 187.25h1.4v1.4h-1.4zM140.90 188.60h1.4v1.4h-1.4zM140.90 189.95h1.4v1.4h-1.4zM140.90 192.65h1.4v1.4h-1.4zM140.90 195.35h1.4v1.4h-1.4zM140.90 196.70h1.4v1.4h-1.4zM140.90 198.05h1.4v1.4h-1.4zM142.25 126.50h1.4v1.4h-1.4zM142.25 127.85h1.4v1.4h-1.4zM142.25 129.20h1.4v1.4h-1.4zM142.25 130.55h1.4v1.4h-1.4zM142.25 133.25h1.4v1.4h-1.4zM142.25 137.30h1.4v1.4h-1.4zM142.25 138.65h1.4v1.4h-1.4zM142.25 140.00h1.4v1.4h-1.4zM142.25 141.35h1.4v1.4h-1.4zM142.25 142.70h1.4v1.4h-1.4zM142.25 144.05h1.4v1.4h-1.4zM142.25 146.75h1.4v1.4h-1.4zM142.25 148.10h1.4v1.4h-1.4zM142.25 149.45h1.4v1.4h-1.4zM142.25 150.80h1.4v1.4h-1.4zM142.25 152.15h1.4v1.4h-1.4zM142.25 153.50h1.4v1.4h-1.4zM142.25 154.85h1.4v1.4h-1.4zM142.25 156.20h1.4v1.4h-1.4zM142.25 157.55h1.4v1.4h-1.4zM142.25 158.90h1.4v1.4h-1.4zM142.25 160.25h1.4v1.4h-1.4zM142.25 161.60h1.4v1.4h-1.4zM142.25 162.95h1.4v1.4h-1.4zM142.25 164.30h1.4v1.4h-1.4zM142.25 165.65h1.4v1.4h-1.4zM142.25 168.35h1.4v1.4h-1.4zM142.25 169.70h1.4v1.4h-1.4zM142.25 171.05h1.4v1.4h-1.4zM142.25 172.40h1.4v1.4h-1.4zM142.25 173.75h1.4v1.4h-1.4zM142.25 175.10h1.4v1.4h-1.4zM142.25 176.45h1.4v1.4h-1.4zM142.25 177.80h1.4v1.4h-1.4zM142.25 180.50h1.4v1.4h-1.4zM142.25 187.25h1.4v1.4h-1.4zM142.25 188.60h1.4v1.4h-1.4zM142.25 195.35h1.4v1.4h-1.4zM142.25 204.80h1.4v1.4h-1.4zM142.25 206.15h1.4v1.4h-1.4zM142.25 210.20h1.4v1.4h-1.4zM142.25 211.55h1.4v1.4h-1.4zM143.60 125.15h1.4v1.4h-1.4zM143.60 133.25h1.4v1.4h-1.4zM143.60 135.95h1.4v1.4h-1.4zM143.60 137.30h1.4v1.4h-1.4zM143.60 138.65h1.4v1.4h-1.4zM143.60 141.35h1.4v1.4h-1.4zM143.60 142.70h1.4v1.4h-1.4zM143.60 144.05h1.4v1.4h-1.4zM143.60 145.40h1.4v1.4h-1.4zM143.60 146.75h1.4v1.4h-1.4zM143.60 148.10h1.4v1.4h-1.4zM143.60 149.45h1.4v1.4h-1.4zM143.60 150.80h1.4v1.4h-1.4zM143.60 152.15h1.4v1.4h-1.4zM143.60 153.50h1.4v1.4h-1.4zM143.60 154.85h1.4v1.4h-1.4zM143.60 156.20h1.4v1.4h-1.4zM143.60 157.55h1.4v1.4h-1.4zM143.60 158.90h1.4v1.4h-1.4zM143.60 160.25h1.4v1.4h-1.4zM143.60 161.60h1.4v1.4h-1.4zM143.60 162.95h1.4v1.4h-1.4zM143.60 164.30h1.4v1.4h-1.4zM143.60 165.65h1.4v1.4h-1.4zM143.60 167.00h1.4v1.4h-1.4zM143.60 168.35h1.4v1.4h-1.4zM143.60 169.70h1.4v1.4h-1.4zM143.60 171.05h1.4v1.4h-1.4zM143.60 172.40h1.4v1.4h-1.4zM143.60 173.75h1.4v1.4h-1.4zM143.60 175.10h1.4v1.4h-1.4zM143.60 176.45h1.4v1.4h-1.4zM143.60 177.80h1.4v1.4h-1.4zM143.60 180.50h1.4v1.4h-1.4zM143.60 188.60h1.4v1.4h-1.4zM143.60 189.95h1.4v1.4h-1.4zM143.60 191.30h1.4v1.4h-1.4zM143.60 192.65h1.4v1.4h-1.4zM143.60 199.40h1.4v1.4h-1.4zM143.60 211.55h1.4v1.4h-1.4zM144.95 125.15h1.4v1.4h-1.4zM144.95 126.50h1.4v1.4h-1.4zM144.95 130.55h1.4v1.4h-1.4zM144.95 131.90h1.4v1.4h-1.4zM144.95 135.95h1.4v1.4h-1.4zM144.95 137.30h1.4v1.4h-1.4zM144.95 138.65h1.4v1.4h-1.4zM144.95 140.00h1.4v1.4h-1.4zM144.95 141.35h1.4v1.4h-1.4zM144.95 144.05h1.4v1.4h-1.4zM144.95 145.40h1.4v1.4h-1.4zM144.95 146.75h1.4v1.4h-1.4zM144.95 148.10h1.4v1.4h-1.4zM144.95 149.45h1.4v1.4h-1.4zM144.95 150.80h1.4v1.4h-1.4zM144.95 152.15h1.4v1.4h-1.4zM144.95 153.50h1.4v1.4h-1.4zM144.95 154.85h1.4v1.4h-1.4zM144.95 157.55h1.4v1.4h-1.4zM144.95 158.90h1.4v1.4h-1.4zM144.95 160.25h1.4v1.4h-1.4zM144.95 161.60h1.4v1.4h-1.4zM144.95 162.95h1.4v1.4h-1.4zM144.95 164.30h1.4v1.4h-1.4zM144.95 165.65h1.4v1.4h-1.4zM144.95 167.00h1.4v1.4h-1.4zM144.95 168.35h1.4v1.4h-1.4zM144.95 171.05h1.4v1.4h-1.4zM144.95 172.40h1.4v1.4h-1.4zM144.95 175.10h1.4v1.4h-1.4zM144.95 176.45h1.4v1.4h-1.4zM144.95 180.50h1.4v1.4h-1.4zM144.95 181.85h1.4v1.4h-1.4zM144.95 183.20h1.4v1.4h-1.4zM144.95 199.40h1.4v1.4h-1.4zM144.95 210.20h1.4v1.4h-1.4zM144.95 211.55h1.4v1.4h-1.4zM146.30 126.50h1.4v1.4h-1.4zM146.30 127.85h1.4v1.4h-1.4zM146.30 129.20h1.4v1.4h-1.4zM146.30 130.55h1.4v1.4h-1.4zM146.30 131.90h1.4v1.4h-1.4zM146.30 134.60h1.4v1.4h-1.4zM146.30 138.65h1.4v1.4h-1.4zM146.30 140.00h1.4v1.4h-1.4zM146.30 141.35h1.4v1.4h-1.4zM146.30 142.70h1.4v1.4h-1.4zM146.30 144.05h1.4v1.4h-1.4zM146.30 145.40h1.4v1.4h-1.4zM146.30 146.75h1.4v1.4h-1.4zM146.30 148.10h1.4v1.4h-1.4zM146.30 149.45h1.4v1.4h-1.4zM146.30 150.80h1.4v1.4h-1.4zM146.30 152.15h1.4v1.4h-1.4zM146.30 153.50h1.4v1.4h-1.4zM146.30 154.85h1.4v1.4h-1.4zM146.30 156.20h1.4v1.4h-1.4zM146.30 157.55h1.4v1.4h-1.4zM146.30 158.90h1.4v1.4h-1.4zM146.30 160.25h1.4v1.4h-1.4zM146.30 161.60h1.4v1.4h-1.4zM146.30 162.95h1.4v1.4h-1.4zM146.30 165.65h1.4v1.4h-1.4zM146.30 167.00h1.4v1.4h-1.4zM146.30 168.35h1.4v1.4h-1.4zM146.30 171.05h1.4v1.4h-1.4zM146.30 172.40h1.4v1.4h-1.4zM146.30 176.45h1.4v1.4h-1.4zM146.30 177.80h1.4v1.4h-1.4zM146.30 179.15h1.4v1.4h-1.4zM146.30 184.55h1.4v1.4h-1.4zM146.30 189.95h1.4v1.4h-1.4zM146.30 198.05h1.4v1.4h-1.4zM146.30 204.80h1.4v1.4h-1.4zM146.30 208.85h1.4v1.4h-1.4zM147.65 126.50h1.4v1.4h-1.4zM147.65 129.20h1.4v1.4h-1.4zM147.65 131.90h1.4v1.4h-1.4zM147.65 134.60h1.4v1.4h-1.4zM147.65 135.95h1.4v1.4h-1.4zM147.65 137.30h1.4v1.4h-1.4zM147.65 138.65h1.4v1.4h-1.4zM147.65 140.00h1.4v1.4h-1.4zM147.65 141.35h1.4v1.4h-1.4zM147.65 142.70h1.4v1.4h-1.4zM147.65 144.05h1.4v1.4h-1.4zM147.65 145.40h1.4v1.4h-1.4zM147.65 146.75h1.4v1.4h-1.4zM147.65 148.10h1.4v1.4h-1.4zM147.65 149.45h1.4v1.4h-1.4zM147.65 150.80h1.4v1.4h-1.4zM147.65 152.15h1.4v1.4h-1.4zM147.65 153.50h1.4v1.4h-1.4zM147.65 154.85h1.4v1.4h-1.4zM147.65 156.20h1.4v1.4h-1.4zM147.65 157.55h1.4v1.4h-1.4zM147.65 158.90h1.4v1.4h-1.4zM147.65 160.25h1.4v1.4h-1.4zM147.65 161.60h1.4v1.4h-1.4zM147.65 162.95h1.4v1.4h-1.4zM147.65 167.00h1.4v1.4h-1.4zM147.65 168.35h1.4v1.4h-1.4zM147.65 169.70h1.4v1.4h-1.4zM147.65 171.05h1.4v1.4h-1.4zM147.65 172.40h1.4v1.4h-1.4zM147.65 173.75h1.4v1.4h-1.4zM147.65 181.85h1.4v1.4h-1.4zM147.65 184.55h1.4v1.4h-1.4zM147.65 185.90h1.4v1.4h-1.4zM147.65 187.25h1.4v1.4h-1.4zM149.00 130.55h1.4v1.4h-1.4zM149.00 131.90h1.4v1.4h-1.4zM149.00 133.25h1.4v1.4h-1.4zM149.00 135.95h1.4v1.4h-1.4zM149.00 137.30h1.4v1.4h-1.4zM149.00 138.65h1.4v1.4h-1.4zM149.00 141.35h1.4v1.4h-1.4zM149.00 145.40h1.4v1.4h-1.4zM149.00 146.75h1.4v1.4h-1.4zM149.00 149.45h1.4v1.4h-1.4zM149.00 150.80h1.4v1.4h-1.4zM149.00 152.15h1.4v1.4h-1.4zM149.00 154.85h1.4v1.4h-1.4zM149.00 156.20h1.4v1.4h-1.4zM149.00 157.55h1.4v1.4h-1.4zM149.00 158.90h1.4v1.4h-1.4zM149.00 162.95h1.4v1.4h-1.4zM149.00 165.65h1.4v1.4h-1.4zM149.00 167.00h1.4v1.4h-1.4zM149.00 168.35h1.4v1.4h-1.4zM149.00 169.70h1.4v1.4h-1.4zM149.00 171.05h1.4v1.4h-1.4zM149.00 172.40h1.4v1.4h-1.4zM149.00 175.10h1.4v1.4h-1.4zM149.00 176.45h1.4v1.4h-1.4zM149.00 187.25h1.4v1.4h-1.4zM149.00 191.30h1.4v1.4h-1.4zM149.00 192.65h1.4v1.4h-1.4zM149.00 195.35h1.4v1.4h-1.4zM149.00 210.20h1.4v1.4h-1.4zM150.35 126.50h1.4v1.4h-1.4zM150.35 130.55h1.4v1.4h-1.4zM150.35 134.60h1.4v1.4h-1.4zM150.35 137.30h1.4v1.4h-1.4zM150.35 138.65h1.4v1.4h-1.4zM150.35 140.00h1.4v1.4h-1.4zM150.35 144.05h1.4v1.4h-1.4zM150.35 145.40h1.4v1.4h-1.4zM150.35 146.75h1.4v1.4h-1.4zM150.35 148.10h1.4v1.4h-1.4zM150.35 150.80h1.4v1.4h-1.4zM150.35 152.15h1.4v1.4h-1.4zM150.35 153.50h1.4v1.4h-1.4zM150.35 154.85h1.4v1.4h-1.4zM150.35 156.20h1.4v1.4h-1.4zM150.35 157.55h1.4v1.4h-1.4zM150.35 158.90h1.4v1.4h-1.4zM150.35 160.25h1.4v1.4h-1.4zM150.35 162.95h1.4v1.4h-1.4zM150.35 164.30h1.4v1.4h-1.4zM150.35 165.65h1.4v1.4h-1.4zM150.35 167.00h1.4v1.4h-1.4zM150.35 169.70h1.4v1.4h-1.4zM150.35 171.05h1.4v1.4h-1.4zM150.35 172.40h1.4v1.4h-1.4zM150.35 176.45h1.4v1.4h-1.4zM150.35 177.80h1.4v1.4h-1.4zM150.35 185.90h1.4v1.4h-1.4zM150.35 189.95h1.4v1.4h-1.4zM150.35 208.85h1.4v1.4h-1.4zM150.35 210.20h1.4v1.4h-1.4zM151.70 129.20h1.4v1.4h-1.4zM151.70 134.60h1.4v1.4h-1.4zM151.70 135.95h1.4v1.4h-1.4zM151.70 137.30h1.4v1.4h-1.4zM151.70 141.35h1.4v1.4h-1.4zM151.70 142.70h1.4v1.4h-1.4zM151.70 144.05h1.4v1.4h-1.4zM151.70 148.10h1.4v1.4h-1.4zM151.70 149.45h1.4v1.4h-1.4zM151.70 152.15h1.4v1.4h-1.4zM151.70 153.50h1.4v1.4h-1.4zM151.70 154.85h1.4v1.4h-1.4zM151.70 156.20h1.4v1.4h-1.4zM151.70 157.55h1.4v1.4h-1.4zM151.70 158.90h1.4v1.4h-1.4zM151.70 160.25h1.4v1.4h-1.4zM151.70 165.65h1.4v1.4h-1.4zM151.70 167.00h1.4v1.4h-1.4zM151.70 168.35h1.4v1.4h-1.4zM151.70 169.70h1.4v1.4h-1.4zM151.70 172.40h1.4v1.4h-1.4zM151.70 175.10h1.4v1.4h-1.4zM151.70 176.45h1.4v1.4h-1.4zM151.70 177.80h1.4v1.4h-1.4zM151.70 179.15h1.4v1.4h-1.4zM151.70 183.20h1.4v1.4h-1.4zM151.70 184.55h1.4v1.4h-1.4zM151.70 185.90h1.4v1.4h-1.4zM151.70 191.30h1.4v1.4h-1.4zM151.70 195.35h1.4v1.4h-1.4zM153.05 127.85h1.4v1.4h-1.4zM153.05 129.20h1.4v1.4h-1.4zM153.05 133.25h1.4v1.4h-1.4zM153.05 134.60h1.4v1.4h-1.4zM153.05 135.95h1.4v1.4h-1.4zM153.05 137.30h1.4v1.4h-1.4zM153.05 140.00h1.4v1.4h-1.4zM153.05 142.70h1.4v1.4h-1.4zM153.05 144.05h1.4v1.4h-1.4zM153.05 145.40h1.4v1.4h-1.4zM153.05 146.75h1.4v1.4h-1.4zM153.05 150.80h1.4v1.4h-1.4zM153.05 152.15h1.4v1.4h-1.4zM153.05 153.50h1.4v1.4h-1.4zM153.05 154.85h1.4v1.4h-1.4zM153.05 156.20h1.4v1.4h-1.4zM153.05 157.55h1.4v1.4h-1.4zM153.05 158.90h1.4v1.4h-1.4zM153.05 160.25h1.4v1.4h-1.4zM153.05 161.60h1.4v1.4h-1.4zM153.05 162.95h1.4v1.4h-1.4zM153.05 164.30h1.4v1.4h-1.4zM153.05 165.65h1.4v1.4h-1.4zM153.05 167.00h1.4v1.4h-1.4zM153.05 168.35h1.4v1.4h-1.4zM153.05 172.40h1.4v1.4h-1.4zM153.05 184.55h1.4v1.4h-1.4zM153.05 187.25h1.4v1.4h-1.4zM153.05 191.30h1.4v1.4h-1.4zM153.05 203.45h1.4v1.4h-1.4zM153.05 206.15h1.4v1.4h-1.4zM154.40 133.25h1.4v1.4h-1.4zM154.40 134.60h1.4v1.4h-1.4zM154.40 137.30h1.4v1.4h-1.4zM154.40 140.00h1.4v1.4h-1.4zM154.40 142.70h1.4v1.4h-1.4zM154.40 144.05h1.4v1.4h-1.4zM154.40 146.75h1.4v1.4h-1.4zM154.40 148.10h1.4v1.4h-1.4zM154.40 149.45h1.4v1.4h-1.4zM154.40 150.80h1.4v1.4h-1.4zM154.40 152.15h1.4v1.4h-1.4zM154.40 153.50h1.4v1.4h-1.4zM154.40 154.85h1.4v1.4h-1.4zM154.40 156.20h1.4v1.4h-1.4zM154.40 157.55h1.4v1.4h-1.4zM154.40 158.90h1.4v1.4h-1.4zM154.40 160.25h1.4v1.4h-1.4zM154.40 161.60h1.4v1.4h-1.4zM154.40 162.95h1.4v1.4h-1.4zM154.40 165.65h1.4v1.4h-1.4zM154.40 171.05h1.4v1.4h-1.4zM154.40 175.10h1.4v1.4h-1.4zM154.40 179.15h1.4v1.4h-1.4zM154.40 180.50h1.4v1.4h-1.4zM154.40 183.20h1.4v1.4h-1.4zM154.40 192.65h1.4v1.4h-1.4zM154.40 194.00h1.4v1.4h-1.4zM154.40 199.40h1.4v1.4h-1.4zM154.40 211.55h1.4v1.4h-1.4zM155.75 126.50h1.4v1.4h-1.4zM155.75 127.85h1.4v1.4h-1.4zM155.75 135.95h1.4v1.4h-1.4zM155.75 138.65h1.4v1.4h-1.4zM155.75 142.70h1.4v1.4h-1.4zM155.75 144.05h1.4v1.4h-1.4zM155.75 148.10h1.4v1.4h-1.4zM155.75 149.45h1.4v1.4h-1.4zM155.75 150.80h1.4v1.4h-1.4zM155.75 152.15h1.4v1.4h-1.4zM155.75 154.85h1.4v1.4h-1.4zM155.75 156.20h1.4v1.4h-1.4zM155.75 158.90h1.4v1.4h-1.4zM155.75 160.25h1.4v1.4h-1.4zM155.75 164.30h1.4v1.4h-1.4zM155.75 167.00h1.4v1.4h-1.4zM155.75 168.35h1.4v1.4h-1.4zM155.75 169.70h1.4v1.4h-1.4zM155.75 171.05h1.4v1.4h-1.4zM155.75 175.10h1.4v1.4h-1.4zM155.75 176.45h1.4v1.4h-1.4zM155.75 177.80h1.4v1.4h-1.4zM155.75 180.50h1.4v1.4h-1.4zM155.75 185.90h1.4v1.4h-1.4zM155.75 187.25h1.4v1.4h-1.4zM155.75 189.95h1.4v1.4h-1.4zM157.10 123.80h1.4v1.4h-1.4zM157.10 127.85h1.4v1.4h-1.4zM157.10 130.55h1.4v1.4h-1.4zM157.10 133.25h1.4v1.4h-1.4zM157.10 134.60h1.4v1.4h-1.4zM157.10 137.30h1.4v1.4h-1.4zM157.10 138.65h1.4v1.4h-1.4zM157.10 141.35h1.4v1.4h-1.4zM157.10 142.70h1.4v1.4h-1.4zM157.10 144.05h1.4v1.4h-1.4zM157.10 146.75h1.4v1.4h-1.4zM157.10 148.10h1.4v1.4h-1.4zM157.10 149.45h1.4v1.4h-1.4zM157.10 150.80h1.4v1.4h-1.4zM157.10 152.15h1.4v1.4h-1.4zM157.10 154.85h1.4v1.4h-1.4zM157.10 156.20h1.4v1.4h-1.4zM157.10 157.55h1.4v1.4h-1.4zM157.10 161.60h1.4v1.4h-1.4zM157.10 162.95h1.4v1.4h-1.4zM157.10 167.00h1.4v1.4h-1.4zM157.10 169.70h1.4v1.4h-1.4zM157.10 171.05h1.4v1.4h-1.4zM157.10 172.40h1.4v1.4h-1.4zM157.10 176.45h1.4v1.4h-1.4zM157.10 184.55h1.4v1.4h-1.4zM157.10 185.90h1.4v1.4h-1.4zM157.10 187.25h1.4v1.4h-1.4zM157.10 191.30h1.4v1.4h-1.4zM157.10 192.65h1.4v1.4h-1.4zM157.10 195.35h1.4v1.4h-1.4zM157.10 204.80h1.4v1.4h-1.4zM158.45 130.55h1.4v1.4h-1.4zM158.45 133.25h1.4v1.4h-1.4zM158.45 134.60h1.4v1.4h-1.4zM158.45 135.95h1.4v1.4h-1.4zM158.45 137.30h1.4v1.4h-1.4zM158.45 140.00h1.4v1.4h-1.4zM158.45 145.40h1.4v1.4h-1.4zM158.45 150.80h1.4v1.4h-1.4zM158.45 152.15h1.4v1.4h-1.4zM158.45 153.50h1.4v1.4h-1.4zM158.45 154.85h1.4v1.4h-1.4zM158.45 157.55h1.4v1.4h-1.4zM158.45 160.25h1.4v1.4h-1.4zM158.45 164.30h1.4v1.4h-1.4zM158.45 165.65h1.4v1.4h-1.4zM158.45 167.00h1.4v1.4h-1.4zM158.45 169.70h1.4v1.4h-1.4zM158.45 181.85h1.4v1.4h-1.4zM158.45 184.55h1.4v1.4h-1.4zM158.45 199.40h1.4v1.4h-1.4zM159.80 126.50h1.4v1.4h-1.4zM159.80 131.90h1.4v1.4h-1.4zM159.80 135.95h1.4v1.4h-1.4zM159.80 141.35h1.4v1.4h-1.4zM159.80 145.40h1.4v1.4h-1.4zM159.80 146.75h1.4v1.4h-1.4zM159.80 148.10h1.4v1.4h-1.4zM159.80 149.45h1.4v1.4h-1.4zM159.80 152.15h1.4v1.4h-1.4zM159.80 154.85h1.4v1.4h-1.4zM159.80 157.55h1.4v1.4h-1.4zM159.80 158.90h1.4v1.4h-1.4zM159.80 160.25h1.4v1.4h-1.4zM159.80 164.30h1.4v1.4h-1.4zM159.80 165.65h1.4v1.4h-1.4zM159.80 167.00h1.4v1.4h-1.4zM159.80 168.35h1.4v1.4h-1.4zM159.80 173.75h1.4v1.4h-1.4zM159.80 175.10h1.4v1.4h-1.4zM159.80 176.45h1.4v1.4h-1.4zM159.80 180.50h1.4v1.4h-1.4zM159.80 184.55h1.4v1.4h-1.4zM159.80 196.70h1.4v1.4h-1.4zM159.80 200.75h1.4v1.4h-1.4zM161.15 133.25h1.4v1.4h-1.4zM161.15 135.95h1.4v1.4h-1.4zM161.15 137.30h1.4v1.4h-1.4zM161.15 138.65h1.4v1.4h-1.4zM161.15 144.05h1.4v1.4h-1.4zM161.15 145.40h1.4v1.4h-1.4zM161.15 146.75h1.4v1.4h-1.4zM161.15 148.10h1.4v1.4h-1.4zM161.15 152.15h1.4v1.4h-1.4zM161.15 153.50h1.4v1.4h-1.4zM161.15 154.85h1.4v1.4h-1.4zM161.15 157.55h1.4v1.4h-1.4zM161.15 158.90h1.4v1.4h-1.4zM161.15 162.95h1.4v1.4h-1.4zM161.15 167.00h1.4v1.4h-1.4zM161.15 168.35h1.4v1.4h-1.4zM161.15 169.70h1.4v1.4h-1.4zM161.15 171.05h1.4v1.4h-1.4zM161.15 181.85h1.4v1.4h-1.4zM161.15 183.20h1.4v1.4h-1.4zM161.15 185.90h1.4v1.4h-1.4zM161.15 188.60h1.4v1.4h-1.4zM161.15 198.05h1.4v1.4h-1.4zM161.15 204.80h1.4v1.4h-1.4zM162.50 126.50h1.4v1.4h-1.4zM162.50 137.30h1.4v1.4h-1.4zM162.50 140.00h1.4v1.4h-1.4zM162.50 141.35h1.4v1.4h-1.4zM162.50 144.05h1.4v1.4h-1.4zM162.50 148.10h1.4v1.4h-1.4zM162.50 153.50h1.4v1.4h-1.4zM162.50 156.20h1.4v1.4h-1.4zM162.50 157.55h1.4v1.4h-1.4zM162.50 158.90h1.4v1.4h-1.4zM162.50 160.25h1.4v1.4h-1.4zM162.50 167.00h1.4v1.4h-1.4zM162.50 168.35h1.4v1.4h-1.4zM162.50 171.05h1.4v1.4h-1.4zM162.50 176.45h1.4v1.4h-1.4zM162.50 183.20h1.4v1.4h-1.4zM162.50 189.95h1.4v1.4h-1.4zM162.50 191.30h1.4v1.4h-1.4zM162.50 195.35h1.4v1.4h-1.4zM162.50 204.80h1.4v1.4h-1.4zM162.50 212.90h1.4v1.4h-1.4zM163.85 125.15h1.4v1.4h-1.4zM163.85 127.85h1.4v1.4h-1.4zM163.85 145.40h1.4v1.4h-1.4zM163.85 148.10h1.4v1.4h-1.4zM163.85 149.45h1.4v1.4h-1.4zM163.85 152.15h1.4v1.4h-1.4zM163.85 154.85h1.4v1.4h-1.4zM163.85 161.60h1.4v1.4h-1.4zM163.85 165.65h1.4v1.4h-1.4zM163.85 167.00h1.4v1.4h-1.4zM163.85 168.35h1.4v1.4h-1.4zM163.85 172.40h1.4v1.4h-1.4zM163.85 179.15h1.4v1.4h-1.4zM163.85 180.50h1.4v1.4h-1.4zM163.85 181.85h1.4v1.4h-1.4zM163.85 200.75h1.4v1.4h-1.4zM163.85 206.15h1.4v1.4h-1.4zM165.20 122.45h1.4v1.4h-1.4zM165.20 125.15h1.4v1.4h-1.4zM165.20 129.20h1.4v1.4h-1.4zM165.20 130.55h1.4v1.4h-1.4zM165.20 133.25h1.4v1.4h-1.4zM165.20 135.95h1.4v1.4h-1.4zM165.20 137.30h1.4v1.4h-1.4zM165.20 140.00h1.4v1.4h-1.4zM165.20 141.35h1.4v1.4h-1.4zM165.20 149.45h1.4v1.4h-1.4zM165.20 152.15h1.4v1.4h-1.4zM165.20 153.50h1.4v1.4h-1.4zM165.20 156.20h1.4v1.4h-1.4zM165.20 157.55h1.4v1.4h-1.4zM165.20 160.25h1.4v1.4h-1.4zM165.20 162.95h1.4v1.4h-1.4zM165.20 165.65h1.4v1.4h-1.4zM165.20 169.70h1.4v1.4h-1.4zM165.20 183.20h1.4v1.4h-1.4zM165.20 203.45h1.4v1.4h-1.4zM165.20 206.15h1.4v1.4h-1.4zM165.20 210.20h1.4v1.4h-1.4zM166.55 127.85h1.4v1.4h-1.4zM166.55 131.90h1.4v1.4h-1.4zM166.55 134.60h1.4v1.4h-1.4zM166.55 141.35h1.4v1.4h-1.4zM166.55 142.70h1.4v1.4h-1.4zM166.55 144.05h1.4v1.4h-1.4zM166.55 146.75h1.4v1.4h-1.4zM166.55 149.45h1.4v1.4h-1.4zM166.55 150.80h1.4v1.4h-1.4zM166.55 152.15h1.4v1.4h-1.4zM166.55 153.50h1.4v1.4h-1.4zM166.55 154.85h1.4v1.4h-1.4zM166.55 157.55h1.4v1.4h-1.4zM166.55 158.90h1.4v1.4h-1.4zM166.55 161.60h1.4v1.4h-1.4zM166.55 164.30h1.4v1.4h-1.4zM166.55 181.85h1.4v1.4h-1.4zM166.55 187.25h1.4v1.4h-1.4zM166.55 202.10h1.4v1.4h-1.4zM166.55 203.45h1.4v1.4h-1.4zM166.55 208.85h1.4v1.4h-1.4zM167.90 125.15h1.4v1.4h-1.4zM167.90 131.90h1.4v1.4h-1.4zM167.90 133.25h1.4v1.4h-1.4zM167.90 134.60h1.4v1.4h-1.4zM167.90 138.65h1.4v1.4h-1.4zM167.90 140.00h1.4v1.4h-1.4zM167.90 144.05h1.4v1.4h-1.4zM167.90 146.75h1.4v1.4h-1.4zM167.90 148.10h1.4v1.4h-1.4zM167.90 150.80h1.4v1.4h-1.4zM167.90 152.15h1.4v1.4h-1.4zM167.90 153.50h1.4v1.4h-1.4zM167.90 154.85h1.4v1.4h-1.4zM167.90 156.20h1.4v1.4h-1.4zM167.90 157.55h1.4v1.4h-1.4zM167.90 158.90h1.4v1.4h-1.4zM167.90 162.95h1.4v1.4h-1.4zM167.90 164.30h1.4v1.4h-1.4zM167.90 171.05h1.4v1.4h-1.4zM167.90 176.45h1.4v1.4h-1.4zM167.90 180.50h1.4v1.4h-1.4zM167.90 187.25h1.4v1.4h-1.4zM167.90 202.10h1.4v1.4h-1.4zM167.90 203.45h1.4v1.4h-1.4zM169.25 134.60h1.4v1.4h-1.4zM169.25 138.65h1.4v1.4h-1.4zM169.25 142.70h1.4v1.4h-1.4zM169.25 144.05h1.4v1.4h-1.4zM169.25 148.10h1.4v1.4h-1.4zM169.25 150.80h1.4v1.4h-1.4zM169.25 153.50h1.4v1.4h-1.4zM169.25 154.85h1.4v1.4h-1.4zM169.25 156.20h1.4v1.4h-1.4zM169.25 157.55h1.4v1.4h-1.4zM169.25 160.25h1.4v1.4h-1.4zM169.25 161.60h1.4v1.4h-1.4zM169.25 164.30h1.4v1.4h-1.4zM169.25 169.70h1.4v1.4h-1.4zM169.25 181.85h1.4v1.4h-1.4zM169.25 185.90h1.4v1.4h-1.4zM169.25 189.95h1.4v1.4h-1.4zM169.25 194.00h1.4v1.4h-1.4zM169.25 198.05h1.4v1.4h-1.4zM169.25 199.40h1.4v1.4h-1.4zM169.25 203.45h1.4v1.4h-1.4zM170.60 129.20h1.4v1.4h-1.4zM170.60 131.90h1.4v1.4h-1.4zM170.60 133.25h1.4v1.4h-1.4zM170.60 140.00h1.4v1.4h-1.4zM170.60 142.70h1.4v1.4h-1.4zM170.60 146.75h1.4v1.4h-1.4zM170.60 148.10h1.4v1.4h-1.4zM170.60 153.50h1.4v1.4h-1.4zM170.60 156.20h1.4v1.4h-1.4zM170.60 157.55h1.4v1.4h-1.4zM170.60 160.25h1.4v1.4h-1.4zM170.60 169.70h1.4v1.4h-1.4zM170.60 183.20h1.4v1.4h-1.4zM170.60 184.55h1.4v1.4h-1.4zM170.60 185.90h1.4v1.4h-1.4zM170.60 189.95h1.4v1.4h-1.4zM170.60 192.65h1.4v1.4h-1.4zM170.60 204.80h1.4v1.4h-1.4zM170.60 210.20h1.4v1.4h-1.4zM170.60 212.90h1.4v1.4h-1.4zM171.95 126.50h1.4v1.4h-1.4zM171.95 131.90h1.4v1.4h-1.4zM171.95 134.60h1.4v1.4h-1.4zM171.95 135.95h1.4v1.4h-1.4zM171.95 141.35h1.4v1.4h-1.4zM171.95 146.75h1.4v1.4h-1.4zM171.95 149.45h1.4v1.4h-1.4zM171.95 150.80h1.4v1.4h-1.4zM171.95 157.55h1.4v1.4h-1.4zM171.95 164.30h1.4v1.4h-1.4zM171.95 176.45h1.4v1.4h-1.4zM171.95 198.05h1.4v1.4h-1.4zM173.30 126.50h1.4v1.4h-1.4zM173.30 133.25h1.4v1.4h-1.4zM173.30 134.60h1.4v1.4h-1.4zM173.30 135.95h1.4v1.4h-1.4zM173.30 145.40h1.4v1.4h-1.4zM173.30 149.45h1.4v1.4h-1.4zM173.30 150.80h1.4v1.4h-1.4zM173.30 152.15h1.4v1.4h-1.4zM173.30 153.50h1.4v1.4h-1.4zM173.30 156.20h1.4v1.4h-1.4zM173.30 158.90h1.4v1.4h-1.4zM173.30 162.95h1.4v1.4h-1.4zM173.30 173.75h1.4v1.4h-1.4zM173.30 180.50h1.4v1.4h-1.4zM173.30 184.55h1.4v1.4h-1.4zM173.30 192.65h1.4v1.4h-1.4zM173.30 194.00h1.4v1.4h-1.4zM173.30 199.40h1.4v1.4h-1.4zM174.65 126.50h1.4v1.4h-1.4zM174.65 142.70h1.4v1.4h-1.4zM174.65 146.75h1.4v1.4h-1.4zM174.65 150.80h1.4v1.4h-1.4zM174.65 152.15h1.4v1.4h-1.4zM174.65 153.50h1.4v1.4h-1.4zM174.65 165.65h1.4v1.4h-1.4zM174.65 181.85h1.4v1.4h-1.4zM174.65 183.20h1.4v1.4h-1.4zM174.65 194.00h1.4v1.4h-1.4zM176.00 125.15h1.4v1.4h-1.4zM176.00 140.00h1.4v1.4h-1.4zM176.00 145.40h1.4v1.4h-1.4zM176.00 148.10h1.4v1.4h-1.4zM176.00 153.50h1.4v1.4h-1.4zM176.00 157.55h1.4v1.4h-1.4zM176.00 158.90h1.4v1.4h-1.4zM176.00 162.95h1.4v1.4h-1.4zM176.00 167.00h1.4v1.4h-1.4zM176.00 177.80h1.4v1.4h-1.4zM176.00 179.15h1.4v1.4h-1.4zM176.00 181.85h1.4v1.4h-1.4zM176.00 189.95h1.4v1.4h-1.4zM176.00 196.70h1.4v1.4h-1.4zM176.00 199.40h1.4v1.4h-1.4zM176.00 202.10h1.4v1.4h-1.4zM176.00 214.25h1.4v1.4h-1.4zM177.35 134.60h1.4v1.4h-1.4zM177.35 140.00h1.4v1.4h-1.4zM177.35 142.70h1.4v1.4h-1.4zM177.35 144.05h1.4v1.4h-1.4zM177.35 146.75h1.4v1.4h-1.4zM177.35 148.10h1.4v1.4h-1.4zM177.35 152.15h1.4v1.4h-1.4zM177.35 153.50h1.4v1.4h-1.4zM177.35 157.55h1.4v1.4h-1.4zM177.35 171.05h1.4v1.4h-1.4zM177.35 180.50h1.4v1.4h-1.4zM177.35 183.20h1.4v1.4h-1.4zM177.35 185.90h1.4v1.4h-1.4zM178.70 126.50h1.4v1.4h-1.4zM178.70 127.85h1.4v1.4h-1.4zM178.70 129.20h1.4v1.4h-1.4zM178.70 133.25h1.4v1.4h-1.4zM178.70 141.35h1.4v1.4h-1.4zM178.70 142.70h1.4v1.4h-1.4zM178.70 152.15h1.4v1.4h-1.4zM178.70 153.50h1.4v1.4h-1.4zM178.70 156.20h1.4v1.4h-1.4zM178.70 162.95h1.4v1.4h-1.4zM178.70 164.30h1.4v1.4h-1.4zM178.70 169.70h1.4v1.4h-1.4zM178.70 177.80h1.4v1.4h-1.4zM180.05 129.20h1.4v1.4h-1.4zM180.05 134.60h1.4v1.4h-1.4zM180.05 138.65h1.4v1.4h-1.4zM180.05 158.90h1.4v1.4h-1.4zM180.05 173.75h1.4v1.4h-1.4zM180.05 175.10h1.4v1.4h-1.4zM180.05 196.70h1.4v1.4h-1.4zM180.05 200.75h1.4v1.4h-1.4zM181.40 149.45h1.4v1.4h-1.4zM181.40 152.15h1.4v1.4h-1.4zM181.40 154.85h1.4v1.4h-1.4zM181.40 161.60h1.4v1.4h-1.4zM181.40 162.95h1.4v1.4h-1.4zM181.40 184.55h1.4v1.4h-1.4zM181.40 189.95h1.4v1.4h-1.4zM182.75 125.15h1.4v1.4h-1.4zM182.75 140.00h1.4v1.4h-1.4zM182.75 144.05h1.4v1.4h-1.4zM182.75 148.10h1.4v1.4h-1.4zM182.75 152.15h1.4v1.4h-1.4zM182.75 154.85h1.4v1.4h-1.4zM182.75 160.25h1.4v1.4h-1.4zM184.10 140.00h1.4v1.4h-1.4zM184.10 150.80h1.4v1.4h-1.4zM184.10 152.15h1.4v1.4h-1.4zM184.10 187.25h1.4v1.4h-1.4zM185.45 138.65h1.4v1.4h-1.4zM185.45 148.10h1.4v1.4h-1.4zM185.45 168.35h1.4v1.4h-1.4zM185.45 185.90h1.4v1.4h-1.4zM186.80 131.90h1.4v1.4h-1.4zM186.80 162.95h1.4v1.4h-1.4zM188.15 130.55h1.4v1.4h-1.4zM188.15 142.70h1.4v1.4h-1.4zM188.15 149.45h1.4v1.4h-1.4zM188.15 179.15h1.4v1.4h-1.4zM189.50 133.25h1.4v1.4h-1.4zM189.50 140.00h1.4v1.4h-1.4zM190.85 127.85h1.4v1.4h-1.4zM190.85 145.40h1.4v1.4h-1.4zM190.85 199.40h1.4v1.4h-1.4zM192.20 134.60h1.4v1.4h-1.4zM192.20 152.15h1.4v1.4h-1.4zM196.25 145.40h1.4v1.4h-1.4zM196.25 154.85h1.4v1.4h-1.4zM197.60 152.15h1.4v1.4h-1.4zM197.60 162.95h1.4v1.4h-1.4zM198.95 131.90h1.4v1.4h-1.4zM198.95 144.05h1.4v1.4h-1.4zM198.95 207.50h1.4v1.4h-1.4zM201.65 156.20h1.4v1.4h-1.4z" fill="#0a0a0a"/>
<path d="M305.0 219.7L303.8 45.0L510.8 44.7" fill="none" stroke="#0c0c0c" stroke-width="1.35" stroke-linejoin="miter"/>
<path d="M510.8 44.7L511.4 219.85" fill="none" stroke="#0c0c0c" stroke-width="1.05"/>
<path d="M304.4 219.7L511.9 219.85" fill="none" stroke="#0c0c0c" stroke-width="1.35"/>
<path d="M305.80 219.70v6.4M304.99 218.70h-5.8M321.14 219.71v3.6M304.90 205.66h-3.3M330.11 219.72v3.6M304.85 198.03h-3.3M336.47 219.72v3.6M304.81 192.62h-3.3M341.41 219.73v3.6M304.79 188.42h-3.3M345.45 219.73v3.6M304.76 184.99h-3.3M348.86 219.73v3.6M304.74 182.09h-3.3M351.81 219.73v3.6M304.72 179.57h-3.3M354.42 219.74v3.6M304.71 177.36h-3.3M356.75 219.74v6.4M304.70 175.38h-5.8M372.09 219.75v3.6M304.61 162.33h-3.3M381.06 219.76v3.6M304.55 154.70h-3.3M387.42 219.76v3.6M304.52 149.29h-3.3M392.36 219.76v3.6M304.49 145.09h-3.3M396.40 219.77v3.6M304.46 141.66h-3.3M399.81 219.77v3.6M304.44 138.76h-3.3M402.76 219.77v3.6M304.43 136.25h-3.3M405.37 219.77v3.6M304.41 134.03h-3.3M407.70 219.77v6.4M304.40 132.05h-5.8M423.04 219.79v3.6M304.31 119.01h-3.3M432.01 219.79v3.6M304.26 111.38h-3.3M438.37 219.80v3.6M304.22 105.97h-3.3M443.31 219.80v3.6M304.19 101.77h-3.3M447.35 219.80v3.6M304.17 98.34h-3.3M450.76 219.81v3.6M304.15 95.44h-3.3M453.71 219.81v3.6M304.13 92.92h-3.3M456.32 219.81v3.6M304.11 90.71h-3.3M458.65 219.81v6.4M304.10 88.72h-5.8M473.99 219.82v3.6M304.01 75.68h-3.3M482.96 219.83v3.6M303.96 68.05h-3.3M489.32 219.83v3.6M303.92 62.64h-3.3M494.26 219.84v3.6M303.89 58.44h-3.3M498.30 219.84v3.6M303.87 55.01h-3.3M501.71 219.84v3.6M303.85 52.11h-3.3M504.66 219.85v3.6M303.83 49.60h-3.3M507.27 219.85v3.6M303.82 47.38h-3.3M509.60 219.85v6.4M303.80 45.40h-5.8" stroke="#0c0c0c" stroke-width="1.3" fill="none"/>
<use href="#one" x="300.20" y="240.10"/><g transform="translate(305.00,240.10)"><text class="t" transform="scale(0.92,1)">0</text></g><g transform="translate(311.60,233.20)"><text class="e" transform="scale(0.78,1)">0</text></g>
<g transform="translate(294.60,218.10) rotate(-90)"><use href="#one" x="-6.9"/><g transform="translate(-1.5,0)"><text class="t" transform="scale(0.92,1)">0</text></g><g transform="translate(7.1,-6.5)"><text class="ey" transform="scale(1.0,1)">0</text></g></g>
<use href="#one" x="351.15" y="240.10"/><g transform="translate(355.95,240.10)"><text class="t" transform="scale(0.92,1)">0</text></g><g transform="translate(362.55,233.20)"><use href="#one" x="1.2"/></g>
<g transform="translate(294.60,174.78) rotate(-90)"><use href="#one" x="-6.9"/><g transform="translate(-1.5,0)"><text class="t" transform="scale(0.92,1)">0</text></g><g transform="translate(7.1,-6.5)"><use href="#one" x="1.2"/></g></g>
<use href="#one" x="402.10" y="240.10"/><g transform="translate(406.90,240.10)"><text class="t" transform="scale(0.92,1)">0</text></g><g transform="translate(413.50,233.20)"><text class="e" transform="scale(0.78,1)">2</text></g>
<g transform="translate(294.60,131.45) rotate(-90)"><use href="#one" x="-6.9"/><g transform="translate(-1.5,0)"><text class="t" transform="scale(0.92,1)">0</text></g><g transform="translate(7.1,-6.5)"><text class="ey" transform="scale(1.0,1)">2</text></g></g>
<use href="#one" x="453.05" y="240.10"/><g transform="translate(457.85,240.10)"><text class="t" transform="scale(0.92,1)">0</text></g><g transform="translate(464.45,233.20)"><text class="e" transform="scale(0.78,1)">3</text></g>
<g transform="translate(294.60,88.12) rotate(-90)"><use href="#one" x="-6.9"/><g transform="translate(-1.5,0)"><text class="t" transform="scale(0.92,1)">0</text></g><g transform="translate(7.1,-6.5)"><text class="ey" transform="scale(1.0,1)">3</text></g></g>
<use href="#one" x="504.00" y="240.10"/><g transform="translate(508.80,240.10)"><text class="t" transform="scale(0.92,1)">0</text></g><g transform="translate(515.40,233.20)"><text class="e" transform="scale(0.78,1)">4</text></g>
<g transform="translate(294.60,44.80) rotate(-90)"><use href="#one" x="-6.9"/><g transform="translate(-1.5,0)"><text class="t" transform="scale(0.92,1)">0</text></g><g transform="translate(7.1,-6.5)"><text class="ey" transform="scale(1.0,1)">4</text></g></g>
<g transform="translate(397.6,252.5)"><text class="a" transform="scale(0.82,1)">FL</text><use href="#one" x="16.1" y="0" transform="scale(1,1.08)" style="stroke-width:1.5"/></g>
<g transform="translate(280.8,142.8) rotate(-90)"><text class="a" style="font-size:12.2px" transform="scale(0.95,1)">FL2</text></g>
<text class="b" font-size="27.2" transform="translate(325.0,83.2) scale(0.995,1.03)" xml:space="preserve">+5GF+STI</text>
<path d="M306.45 170.75h1.4v1.4h-1.4zM307.80 192.35h1.4v1.4h-1.4zM309.15 169.40h1.4v1.4h-1.4zM309.15 177.50h1.4v1.4h-1.4zM310.50 176.15h1.4v1.4h-1.4zM314.55 157.25h1.4v1.4h-1.4zM314.55 180.20h1.4v1.4h-1.4zM314.55 184.25h1.4v1.4h-1.4zM314.55 192.35h1.4v1.4h-1.4zM315.90 181.55h1.4v1.4h-1.4zM319.95 176.15h1.4v1.4h-1.4zM322.65 195.05h1.4v1.4h-1.4zM324.00 169.40h1.4v1.4h-1.4zM329.40 153.20h1.4v1.4h-1.4zM330.75 195.05h1.4v1.4h-1.4zM333.45 185.60h1.4v1.4h-1.4zM341.55 162.65h1.4v1.4h-1.4zM342.90 195.05h1.4v1.4h-1.4zM344.25 153.20h1.4v1.4h-1.4zM345.60 170.75h1.4v1.4h-1.4zM346.95 176.15h1.4v1.4h-1.4zM348.30 161.30h1.4v1.4h-1.4zM348.30 180.20h1.4v1.4h-1.4zM351.00 169.40h1.4v1.4h-1.4zM352.35 181.55h1.4v1.4h-1.4zM356.40 155.90h1.4v1.4h-1.4zM356.40 158.60h1.4v1.4h-1.4zM356.40 176.15h1.4v1.4h-1.4zM356.40 192.35h1.4v1.4h-1.4zM359.10 155.90h1.4v1.4h-1.4zM360.45 169.40h1.4v1.4h-1.4zM360.45 186.95h1.4v1.4h-1.4zM361.80 168.05h1.4v1.4h-1.4zM363.15 180.20h1.4v1.4h-1.4zM363.15 199.10h1.4v1.4h-1.4zM365.85 161.30h1.4v1.4h-1.4zM367.20 142.40h1.4v1.4h-1.4zM367.20 176.15h1.4v1.4h-1.4zM367.20 189.65h1.4v1.4h-1.4zM367.20 192.35h1.4v1.4h-1.4zM367.20 211.25h1.4v1.4h-1.4zM368.55 213.95h1.4v1.4h-1.4zM371.25 170.75h1.4v1.4h-1.4zM371.25 185.60h1.4v1.4h-1.4zM372.60 174.80h1.4v1.4h-1.4zM372.60 209.90h1.4v1.4h-1.4zM373.95 149.15h1.4v1.4h-1.4zM373.95 154.55h1.4v1.4h-1.4zM373.95 157.25h1.4v1.4h-1.4zM375.30 178.85h1.4v1.4h-1.4zM375.30 209.90h1.4v1.4h-1.4zM378.00 153.20h1.4v1.4h-1.4zM378.00 168.05h1.4v1.4h-1.4zM378.00 204.50h1.4v1.4h-1.4zM379.35 162.65h1.4v1.4h-1.4zM379.35 173.45h1.4v1.4h-1.4zM379.35 192.35h1.4v1.4h-1.4zM379.35 197.75h1.4v1.4h-1.4zM379.35 200.45h1.4v1.4h-1.4zM380.70 146.45h1.4v1.4h-1.4zM380.70 168.05h1.4v1.4h-1.4zM380.70 180.20h1.4v1.4h-1.4zM380.70 200.45h1.4v1.4h-1.4zM380.70 207.20h1.4v1.4h-1.4zM382.05 157.25h1.4v1.4h-1.4zM382.05 176.15h1.4v1.4h-1.4zM382.05 178.85h1.4v1.4h-1.4zM382.05 184.25h1.4v1.4h-1.4zM382.05 191.00h1.4v1.4h-1.4zM382.05 196.40h1.4v1.4h-1.4zM382.05 211.25h1.4v1.4h-1.4zM383.40 143.75h1.4v1.4h-1.4zM383.40 154.55h1.4v1.4h-1.4zM383.40 165.35h1.4v1.4h-1.4zM383.40 188.30h1.4v1.4h-1.4zM383.40 199.10h1.4v1.4h-1.4zM384.75 143.75h1.4v1.4h-1.4zM384.75 172.10h1.4v1.4h-1.4zM384.75 191.00h1.4v1.4h-1.4zM384.75 196.40h1.4v1.4h-1.4zM384.75 211.25h1.4v1.4h-1.4zM386.10 143.75h1.4v1.4h-1.4zM386.10 149.15h1.4v1.4h-1.4zM386.10 150.50h1.4v1.4h-1.4zM386.10 159.95h1.4v1.4h-1.4zM386.10 165.35h1.4v1.4h-1.4zM386.10 166.70h1.4v1.4h-1.4zM386.10 172.10h1.4v1.4h-1.4zM386.10 186.95h1.4v1.4h-1.4zM386.10 188.30h1.4v1.4h-1.4zM386.10 199.10h1.4v1.4h-1.4zM387.45 139.70h1.4v1.4h-1.4zM387.45 151.85h1.4v1.4h-1.4zM387.45 157.25h1.4v1.4h-1.4zM387.45 158.60h1.4v1.4h-1.4zM387.45 161.30h1.4v1.4h-1.4zM387.45 162.65h1.4v1.4h-1.4zM387.45 172.10h1.4v1.4h-1.4zM387.45 207.20h1.4v1.4h-1.4zM388.80 141.05h1.4v1.4h-1.4zM388.80 146.45h1.4v1.4h-1.4zM388.80 149.15h1.4v1.4h-1.4zM388.80 150.50h1.4v1.4h-1.4zM388.80 153.20h1.4v1.4h-1.4zM388.80 154.55h1.4v1.4h-1.4zM388.80 155.90h1.4v1.4h-1.4zM388.80 157.25h1.4v1.4h-1.4zM388.80 158.60h1.4v1.4h-1.4zM388.80 159.95h1.4v1.4h-1.4zM388.80 162.65h1.4v1.4h-1.4zM388.80 164.00h1.4v1.4h-1.4zM388.80 165.35h1.4v1.4h-1.4zM388.80 172.10h1.4v1.4h-1.4zM388.80 199.10h1.4v1.4h-1.4zM388.80 201.80h1.4v1.4h-1.4zM390.15 143.75h1.4v1.4h-1.4zM390.15 149.15h1.4v1.4h-1.4zM390.15 151.85h1.4v1.4h-1.4zM390.15 153.20h1.4v1.4h-1.4zM390.15 155.90h1.4v1.4h-1.4zM390.15 157.25h1.4v1.4h-1.4zM390.15 158.60h1.4v1.4h-1.4zM390.15 159.95h1.4v1.4h-1.4zM390.15 161.30h1.4v1.4h-1.4zM390.15 164.00h1.4v1.4h-1.4zM390.15 168.05h1.4v1.4h-1.4zM390.15 177.50h1.4v1.4h-1.4zM390.15 184.25h1.4v1.4h-1.4zM390.15 188.30h1.4v1.4h-1.4zM390.15 189.65h1.4v1.4h-1.4zM390.15 193.70h1.4v1.4h-1.4zM390.15 208.55h1.4v1.4h-1.4zM391.50 141.05h1.4v1.4h-1.4zM391.50 142.40h1.4v1.4h-1.4zM391.50 145.10h1.4v1.4h-1.4zM391.50 147.80h1.4v1.4h-1.4zM391.50 149.15h1.4v1.4h-1.4zM391.50 150.50h1.4v1.4h-1.4zM391.50 151.85h1.4v1.4h-1.4zM391.50 153.20h1.4v1.4h-1.4zM391.50 154.55h1.4v1.4h-1.4zM391.50 155.90h1.4v1.4h-1.4zM391.50 157.25h1.4v1.4h-1.4zM391.50 158.60h1.4v1.4h-1.4zM391.50 159.95h1.4v1.4h-1.4zM391.50 161.30h1.4v1.4h-1.4zM391.50 162.65h1.4v1.4h-1.4zM391.50 164.00h1.4v1.4h-1.4zM391.50 166.70h1.4v1.4h-1.4zM391.50 169.40h1.4v1.4h-1.4zM391.50 174.80h1.4v1.4h-1.4zM391.50 180.20h1.4v1.4h-1.4zM391.50 197.75h1.4v1.4h-1.4zM391.50 201.80h1.4v1.4h-1.4zM391.50 204.50h1.4v1.4h-1.4zM391.50 205.85h1.4v1.4h-1.4zM392.85 116.75h1.4v1.4h-1.4zM392.85 124.85h1.4v1.4h-1.4zM392.85 131.60h1.4v1.4h-1.4zM392.85 132.95h1.4v1.4h-1.4zM392.85 137.00h1.4v1.4h-1.4zM392.85 139.70h1.4v1.4h-1.4zM392.85 142.40h1.4v1.4h-1.4zM392.85 143.75h1.4v1.4h-1.4zM392.85 145.10h1.4v1.4h-1.4zM392.85 147.80h1.4v1.4h-1.4zM392.85 149.15h1.4v1.4h-1.4zM392.85 150.50h1.4v1.4h-1.4zM392.85 151.85h1.4v1.4h-1.4zM392.85 153.20h1.4v1.4h-1.4zM392.85 154.55h1.4v1.4h-1.4zM392.85 155.90h1.4v1.4h-1.4zM392.85 157.25h1.4v1.4h-1.4zM392.85 158.60h1.4v1.4h-1.4zM392.85 159.95h1.4v1.4h-1.4zM392.85 161.30h1.4v1.4h-1.4zM392.85 162.65h1.4v1.4h-1.4zM392.85 165.35h1.4v1.4h-1.4zM392.85 168.05h1.4v1.4h-1.4zM392.85 176.15h1.4v1.4h-1.4zM392.85 180.20h1.4v1.4h-1.4zM392.85 182.90h1.4v1.4h-1.4zM392.85 195.05h1.4v1.4h-1.4zM392.85 203.15h1.4v1.4h-1.4zM392.85 205.85h1.4v1.4h-1.4zM394.20 137.00h1.4v1.4h-1.4zM394.20 139.70h1.4v1.4h-1.4zM394.20 141.05h1.4v1.4h-1.4zM394.20 142.40h1.4v1.4h-1.4zM394.20 143.75h1.4v1.4h-1.4zM394.20 145.10h1.4v1.4h-1.4zM394.20 146.45h1.4v1.4h-1.4zM394.20 150.50h1.4v1.4h-1.4zM394.20 151.85h1.4v1.4h-1.4zM394.20 153.20h1.4v1.4h-1.4zM394.20 155.90h1.4v1.4h-1.4zM394.20 157.25h1.4v1.4h-1.4zM394.20 159.95h1.4v1.4h-1.4zM394.20 161.30h1.4v1.4h-1.4zM394.20 162.65h1.4v1.4h-1.4zM394.20 164.00h1.4v1.4h-1.4zM394.20 165.35h1.4v1.4h-1.4zM394.20 168.05h1.4v1.4h-1.4zM394.20 170.75h1.4v1.4h-1.4zM394.20 176.15h1.4v1.4h-1.4zM394.20 177.50h1.4v1.4h-1.4zM394.20 180.20h1.4v1.4h-1.4zM394.20 186.95h1.4v1.4h-1.4zM394.20 189.65h1.4v1.4h-1.4zM394.20 193.70h1.4v1.4h-1.4zM394.20 205.85h1.4v1.4h-1.4zM394.20 207.20h1.4v1.4h-1.4zM395.55 139.70h1.4v1.4h-1.4zM395.55 150.50h1.4v1.4h-1.4zM395.55 151.85h1.4v1.4h-1.4zM395.55 153.20h1.4v1.4h-1.4zM395.55 154.55h1.4v1.4h-1.4zM395.55 155.90h1.4v1.4h-1.4zM395.55 158.60h1.4v1.4h-1.4zM395.55 159.95h1.4v1.4h-1.4zM395.55 161.30h1.4v1.4h-1.4zM395.55 164.00h1.4v1.4h-1.4zM395.55 165.35h1.4v1.4h-1.4zM395.55 169.40h1.4v1.4h-1.4zM395.55 173.45h1.4v1.4h-1.4zM395.55 177.50h1.4v1.4h-1.4zM395.55 193.70h1.4v1.4h-1.4zM396.90 143.75h1.4v1.4h-1.4zM396.90 151.85h1.4v1.4h-1.4zM396.90 153.20h1.4v1.4h-1.4zM396.90 155.90h1.4v1.4h-1.4zM396.90 157.25h1.4v1.4h-1.4zM396.90 158.60h1.4v1.4h-1.4zM396.90 161.30h1.4v1.4h-1.4zM396.90 162.65h1.4v1.4h-1.4zM396.90 165.35h1.4v1.4h-1.4zM396.90 166.70h1.4v1.4h-1.4zM396.90 169.40h1.4v1.4h-1.4zM396.90 172.10h1.4v1.4h-1.4zM396.90 174.80h1.4v1.4h-1.4zM396.90 176.15h1.4v1.4h-1.4zM396.90 177.50h1.4v1.4h-1.4zM396.90 182.90h1.4v1.4h-1.4zM396.90 186.95h1.4v1.4h-1.4zM396.90 188.30h1.4v1.4h-1.4zM398.25 137.00h1.4v1.4h-1.4zM398.25 142.40h1.4v1.4h-1.4zM398.25 151.85h1.4v1.4h-1.4zM398.25 153.20h1.4v1.4h-1.4zM398.25 154.55h1.4v1.4h-1.4zM398.25 155.90h1.4v1.4h-1.4zM398.25 157.25h1.4v1.4h-1.4zM398.25 159.95h1.4v1.4h-1.4zM398.25 165.35h1.4v1.4h-1.4zM398.25 174.80h1.4v1.4h-1.4zM398.25 177.50h1.4v1.4h-1.4zM398.25 180.20h1.4v1.4h-1.4zM398.25 184.25h1.4v1.4h-1.4zM398.25 185.60h1.4v1.4h-1.4zM398.25 186.95h1.4v1.4h-1.4zM398.25 188.30h1.4v1.4h-1.4zM398.25 191.00h1.4v1.4h-1.4zM398.25 193.70h1.4v1.4h-1.4zM398.25 201.80h1.4v1.4h-1.4zM398.25 205.85h1.4v1.4h-1.4zM398.25 208.55h1.4v1.4h-1.4zM398.25 209.90h1.4v1.4h-1.4zM399.60 149.15h1.4v1.4h-1.4zM399.60 151.85h1.4v1.4h-1.4zM399.60 155.90h1.4v1.4h-1.4zM399.60 158.60h1.4v1.4h-1.4zM399.60 161.30h1.4v1.4h-1.4zM399.60 162.65h1.4v1.4h-1.4zM399.60 166.70h1.4v1.4h-1.4zM399.60 168.05h1.4v1.4h-1.4zM399.60 173.45h1.4v1.4h-1.4zM399.60 184.25h1.4v1.4h-1.4zM399.60 185.60h1.4v1.4h-1.4zM399.60 191.00h1.4v1.4h-1.4zM399.60 193.70h1.4v1.4h-1.4zM399.60 195.05h1.4v1.4h-1.4zM399.60 197.75h1.4v1.4h-1.4zM399.60 205.85h1.4v1.4h-1.4zM400.95 142.40h1.4v1.4h-1.4zM400.95 145.10h1.4v1.4h-1.4zM400.95 147.80h1.4v1.4h-1.4zM400.95 149.15h1.4v1.4h-1.4zM400.95 153.20h1.4v1.4h-1.4zM400.95 165.35h1.4v1.4h-1.4zM400.95 169.40h1.4v1.4h-1.4zM400.95 172.10h1.4v1.4h-1.4zM400.95 174.80h1.4v1.4h-1.4zM400.95 176.15h1.4v1.4h-1.4zM400.95 182.90h1.4v1.4h-1.4zM400.95 184.25h1.4v1.4h-1.4zM400.95 188.30h1.4v1.4h-1.4zM400.95 189.65h1.4v1.4h-1.4zM400.95 192.35h1.4v1.4h-1.4zM400.95 196.40h1.4v1.4h-1.4zM400.95 200.45h1.4v1.4h-1.4zM402.30 134.30h1.4v1.4h-1.4zM402.30 137.00h1.4v1.4h-1.4zM402.30 138.35h1.4v1.4h-1.4zM402.30 141.05h1.4v1.4h-1.4zM402.30 142.40h1.4v1.4h-1.4zM402.30 153.20h1.4v1.4h-1.4zM402.30 155.90h1.4v1.4h-1.4zM402.30 157.25h1.4v1.4h-1.4zM402.30 158.60h1.4v1.4h-1.4zM402.30 159.95h1.4v1.4h-1.4zM402.30 161.30h1.4v1.4h-1.4zM402.30 162.65h1.4v1.4h-1.4zM402.30 165.35h1.4v1.4h-1.4zM402.30 166.70h1.4v1.4h-1.4zM402.30 168.05h1.4v1.4h-1.4zM402.30 169.40h1.4v1.4h-1.4zM402.30 172.10h1.4v1.4h-1.4zM402.30 173.45h1.4v1.4h-1.4zM402.30 177.50h1.4v1.4h-1.4zM402.30 178.85h1.4v1.4h-1.4zM402.30 184.25h1.4v1.4h-1.4zM402.30 186.95h1.4v1.4h-1.4zM402.30 189.65h1.4v1.4h-1.4zM402.30 196.40h1.4v1.4h-1.4zM402.30 199.10h1.4v1.4h-1.4zM402.30 205.85h1.4v1.4h-1.4zM403.65 131.60h1.4v1.4h-1.4zM403.65 138.35h1.4v1.4h-1.4zM403.65 139.70h1.4v1.4h-1.4zM403.65 141.05h1.4v1.4h-1.4zM403.65 142.40h1.4v1.4h-1.4zM403.65 143.75h1.4v1.4h-1.4zM403.65 146.45h1.4v1.4h-1.4zM403.65 147.80h1.4v1.4h-1.4zM403.65 149.15h1.4v1.4h-1.4zM403.65 150.50h1.4v1.4h-1.4zM403.65 151.85h1.4v1.4h-1.4zM403.65 153.20h1.4v1.4h-1.4zM403.65 154.55h1.4v1.4h-1.4zM403.65 155.90h1.4v1.4h-1.4zM403.65 158.60h1.4v1.4h-1.4zM403.65 159.95h1.4v1.4h-1.4zM403.65 161.30h1.4v1.4h-1.4zM403.65 164.00h1.4v1.4h-1.4zM403.65 165.35h1.4v1.4h-1.4zM403.65 166.70h1.4v1.4h-1.4zM403.65 168.05h1.4v1.4h-1.4zM403.65 170.75h1.4v1.4h-1.4zM403.65 173.45h1.4v1.4h-1.4zM403.65 178.85h1.4v1.4h-1.4zM403.65 181.55h1.4v1.4h-1.4zM403.65 182.90h1.4v1.4h-1.4zM403.65 184.25h1.4v1.4h-1.4zM403.65 186.95h1.4v1.4h-1.4zM403.65 189.65h1.4v1.4h-1.4zM403.65 192.35h1.4v1.4h-1.4zM403.65 199.10h1.4v1.4h-1.4zM403.65 211.25h1.4v1.4h-1.4zM405.00 124.85h1.4v1.4h-1.4zM405.00 127.55h1.4v1.4h-1.4zM405.00 128.90h1.4v1.4h-1.4zM405.00 138.35h1.4v1.4h-1.4zM405.00 139.70h1.4v1.4h-1.4zM405.00 141.05h1.4v1.4h-1.4zM405.00 142.40h1.4v1.4h-1.4zM405.00 143.75h1.4v1.4h-1.4zM405.00 145.10h1.4v1.4h-1.4zM405.00 146.45h1.4v1.4h-1.4zM405.00 147.80h1.4v1.4h-1.4zM405.00 149.15h1.4v1.4h-1.4zM405.00 150.50h1.4v1.4h-1.4zM405.00 151.85h1.4v1.4h-1.4zM405.00 153.20h1.4v1.4h-1.4zM405.00 154.55h1.4v1.4h-1.4zM405.00 155.90h1.4v1.4h-1.4zM405.00 157.25h1.4v1.4h-1.4zM405.00 158.60h1.4v1.4h-1.4zM405.00 161.30h1.4v1.4h-1.4zM405.00 162.65h1.4v1.4h-1.4zM405.00 164.00h1.4v1.4h-1.4zM405.00 165.35h1.4v1.4h-1.4zM405.00 169.40h1.4v1.4h-1.4zM405.00 170.75h1.4v1.4h-1.4zM405.00 172.10h1.4v1.4h-1.4zM405.00 173.45h1.4v1.4h-1.4zM405.00 176.15h1.4v1.4h-1.4zM405.00 180.20h1.4v1.4h-1.4zM405.00 181.55h1.4v1.4h-1.4zM405.00 184.25h1.4v1.4h-1.4zM405.00 186.95h1.4v1.4h-1.4zM405.00 189.65h1.4v1.4h-1.4zM405.00 192.35h1.4v1.4h-1.4zM405.00 195.05h1.4v1.4h-1.4zM405.00 199.10h1.4v1.4h-1.4zM405.00 200.45h1.4v1.4h-1.4zM405.00 201.80h1.4v1.4h-1.4zM405.00 204.50h1.4v1.4h-1.4zM406.35 126.20h1.4v1.4h-1.4zM406.35 137.00h1.4v1.4h-1.4zM406.35 138.35h1.4v1.4h-1.4zM406.35 141.05h1.4v1.4h-1.4zM406.35 142.40h1.4v1.4h-1.4zM406.35 143.75h1.4v1.4h-1.4zM406.35 145.10h1.4v1.4h-1.4zM406.35 146.45h1.4v1.4h-1.4zM406.35 147.80h1.4v1.4h-1.4zM406.35 149.15h1.4v1.4h-1.4zM406.35 151.85h1.4v1.4h-1.4zM406.35 153.20h1.4v1.4h-1.4zM406.35 154.55h1.4v1.4h-1.4zM406.35 155.90h1.4v1.4h-1.4zM406.35 157.25h1.4v1.4h-1.4zM406.35 158.60h1.4v1.4h-1.4zM406.35 159.95h1.4v1.4h-1.4zM406.35 161.30h1.4v1.4h-1.4zM406.35 162.65h1.4v1.4h-1.4zM406.35 165.35h1.4v1.4h-1.4zM406.35 166.70h1.4v1.4h-1.4zM406.35 170.75h1.4v1.4h-1.4zM406.35 173.45h1.4v1.4h-1.4zM406.35 176.15h1.4v1.4h-1.4zM406.35 177.50h1.4v1.4h-1.4zM406.35 180.20h1.4v1.4h-1.4zM406.35 182.90h1.4v1.4h-1.4zM406.35 184.25h1.4v1.4h-1.4zM406.35 185.60h1.4v1.4h-1.4zM406.35 186.95h1.4v1.4h-1.4zM406.35 189.65h1.4v1.4h-1.4zM406.35 192.35h1.4v1.4h-1.4zM406.35 193.70h1.4v1.4h-1.4zM406.35 195.05h1.4v1.4h-1.4zM406.35 196.40h1.4v1.4h-1.4zM406.35 197.75h1.4v1.4h-1.4zM406.35 199.10h1.4v1.4h-1.4zM406.35 200.45h1.4v1.4h-1.4zM407.70 127.55h1.4v1.4h-1.4zM407.70 131.60h1.4v1.4h-1.4zM407.70 132.95h1.4v1.4h-1.4zM407.70 134.30h1.4v1.4h-1.4zM407.70 137.00h1.4v1.4h-1.4zM407.70 139.70h1.4v1.4h-1.4zM407.70 141.05h1.4v1.4h-1.4zM407.70 142.40h1.4v1.4h-1.4zM407.70 143.75h1.4v1.4h-1.4zM407.70 145.10h1.4v1.4h-1.4zM407.70 146.45h1.4v1.4h-1.4zM407.70 147.80h1.4v1.4h-1.4zM407.70 149.15h1.4v1.4h-1.4zM407.70 150.50h1.4v1.4h-1.4zM407.70 151.85h1.4v1.4h-1.4zM407.70 153.20h1.4v1.4h-1.4zM407.70 154.55h1.4v1.4h-1.4zM407.70 155.90h1.4v1.4h-1.4zM407.70 157.25h1.4v1.4h-1.4zM407.70 158.60h1.4v1.4h-1.4zM407.70 159.95h1.4v1.4h-1.4zM407.70 161.30h1.4v1.4h-1.4zM407.70 162.65h1.4v1.4h-1.4zM407.70 165.35h1.4v1.4h-1.4zM407.70 168.05h1.4v1.4h-1.4zM407.70 169.40h1.4v1.4h-1.4zM407.70 170.75h1.4v1.4h-1.4zM407.70 172.10h1.4v1.4h-1.4zM407.70 173.45h1.4v1.4h-1.4zM407.70 177.50h1.4v1.4h-1.4zM407.70 180.20h1.4v1.4h-1.4zM407.70 181.55h1.4v1.4h-1.4zM407.70 184.25h1.4v1.4h-1.4zM407.70 185.60h1.4v1.4h-1.4zM407.70 186.95h1.4v1.4h-1.4zM407.70 193.70h1.4v1.4h-1.4zM407.70 211.25h1.4v1.4h-1.4zM409.05 130.25h1.4v1.4h-1.4zM409.05 132.95h1.4v1.4h-1.4zM409.05 134.30h1.4v1.4h-1.4zM409.05 135.65h1.4v1.4h-1.4zM409.05 137.00h1.4v1.4h-1.4zM409.05 138.35h1.4v1.4h-1.4zM409.05 139.70h1.4v1.4h-1.4zM409.05 141.05h1.4v1.4h-1.4zM409.05 142.40h1.4v1.4h-1.4zM409.05 143.75h1.4v1.4h-1.4zM409.05 145.10h1.4v1.4h-1.4zM409.05 146.45h1.4v1.4h-1.4zM409.05 147.80h1.4v1.4h-1.4zM409.05 149.15h1.4v1.4h-1.4zM409.05 150.50h1.4v1.4h-1.4zM409.05 151.85h1.4v1.4h-1.4zM409.05 153.20h1.4v1.4h-1.4zM409.05 154.55h1.4v1.4h-1.4zM409.05 155.90h1.4v1.4h-1.4zM409.05 157.25h1.4v1.4h-1.4zM409.05 158.60h1.4v1.4h-1.4zM409.05 159.95h1.4v1.4h-1.4zM409.05 162.65h1.4v1.4h-1.4zM409.05 164.00h1.4v1.4h-1.4zM409.05 165.35h1.4v1.4h-1.4zM409.05 166.70h1.4v1.4h-1.4zM409.05 168.05h1.4v1.4h-1.4zM409.05 169.40h1.4v1.4h-1.4zM409.05 170.75h1.4v1.4h-1.4zM409.05 173.45h1.4v1.4h-1.4zM409.05 174.80h1.4v1.4h-1.4zM409.05 176.15h1.4v1.4h-1.4zM409.05 177.50h1.4v1.4h-1.4zM409.05 178.85h1.4v1.4h-1.4zM409.05 180.20h1.4v1.4h-1.4zM409.05 181.55h1.4v1.4h-1.4zM409.05 182.90h1.4v1.4h-1.4zM409.05 184.25h1.4v1.4h-1.4zM409.05 186.95h1.4v1.4h-1.4zM409.05 188.30h1.4v1.4h-1.4zM409.05 191.00h1.4v1.4h-1.4zM409.05 201.80h1.4v1.4h-1.4zM409.05 203.15h1.4v1.4h-1.4zM409.05 205.85h1.4v1.4h-1.4zM410.40 131.60h1.4v1.4h-1.4zM410.40 134.30h1.4v1.4h-1.4zM410.40 137.00h1.4v1.4h-1.4zM410.40 139.70h1.4v1.4h-1.4zM410.40 141.05h1.4v1.4h-1.4zM410.40 142.40h1.4v1.4h-1.4zM410.40 143.75h1.4v1.4h-1.4zM410.40 145.10h1.4v1.4h-1.4zM410.40 146.45h1.4v1.4h-1.4zM410.40 147.80h1.4v1.4h-1.4zM410.40 149.15h1.4v1.4h-1.4zM410.40 150.50h1.4v1.4h-1.4zM410.40 151.85h1.4v1.4h-1.4zM410.40 153.20h1.4v1.4h-1.4zM410.40 154.55h1.4v1.4h-1.4zM410.40 155.90h1.4v1.4h-1.4zM410.40 157.25h1.4v1.4h-1.4zM410.40 158.60h1.4v1.4h-1.4zM410.40 159.95h1.4v1.4h-1.4zM410.40 161.30h1.4v1.4h-1.4zM410.40 162.65h1.4v1.4h-1.4zM410.40 165.35h1.4v1.4h-1.4zM410.40 166.70h1.4v1.4h-1.4zM410.40 169.40h1.4v1.4h-1.4zM410.40 170.75h1.4v1.4h-1.4zM410.40 172.10h1.4v1.4h-1.4zM410.40 173.45h1.4v1.4h-1.4zM410.40 176.15h1.4v1.4h-1.4zM410.40 177.50h1.4v1.4h-1.4zM410.40 178.85h1.4v1.4h-1.4zM410.40 180.20h1.4v1.4h-1.4zM410.40 181.55h1.4v1.4h-1.4zM410.40 186.95h1.4v1.4h-1.4zM410.40 189.65h1.4v1.4h-1.4zM410.40 191.00h1.4v1.4h-1.4zM410.40 193.70h1.4v1.4h-1.4zM410.40 195.05h1.4v1.4h-1.4zM410.40 196.40h1.4v1.4h-1.4zM410.40 204.50h1.4v1.4h-1.4zM411.75 141.05h1.4v1.4h-1.4zM411.75 142.40h1.4v1.4h-1.4zM411.75 143.75h1.4v1.4h-1.4zM411.75 145.10h1.4v1.4h-1.4zM411.75 146.45h1.4v1.4h-1.4zM411.75 147.80h1.4v1.4h-1.4zM411.75 149.15h1.4v1.4h-1.4zM411.75 150.50h1.4v1.4h-1.4zM411.75 151.85h1.4v1.4h-1.4zM411.75 153.20h1.4v1.4h-1.4zM411.75 154.55h1.4v1.4h-1.4zM411.75 157.25h1.4v1.4h-1.4zM411.75 158.60h1.4v1.4h-1.4zM411.75 159.95h1.4v1.4h-1.4zM411.75 161.30h1.4v1.4h-1.4zM411.75 165.35h1.4v1.4h-1.4zM411.75 168.05h1.4v1.4h-1.4zM411.75 169.40h1.4v1.4h-1.4zM411.75 170.75h1.4v1.4h-1.4zM411.75 172.10h1.4v1.4h-1.4zM411.75 174.80h1.4v1.4h-1.4zM411.75 176.15h1.4v1.4h-1.4zM411.75 177.50h1.4v1.4h-1.4zM411.75 178.85h1.4v1.4h-1.4zM411.75 182.90h1.4v1.4h-1.4zM411.75 185.60h1.4v1.4h-1.4zM411.75 191.00h1.4v1.4h-1.4zM411.75 193.70h1.4v1.4h-1.4zM411.75 201.80h1.4v1.4h-1.4zM413.10 130.25h1.4v1.4h-1.4zM413.10 137.00h1.4v1.4h-1.4zM413.10 141.05h1.4v1.4h-1.4zM413.10 143.75h1.4v1.4h-1.4zM413.10 150.50h1.4v1.4h-1.4zM413.10 153.20h1.4v1.4h-1.4zM413.10 158.60h1.4v1.4h-1.4zM413.10 164.00h1.4v1.4h-1.4zM413.10 168.05h1.4v1.4h-1.4zM413.10 169.40h1.4v1.4h-1.4zM413.10 170.75h1.4v1.4h-1.4zM413.10 172.10h1.4v1.4h-1.4zM413.10 173.45h1.4v1.4h-1.4zM413.10 178.85h1.4v1.4h-1.4zM413.10 181.55h1.4v1.4h-1.4zM413.10 184.25h1.4v1.4h-1.4zM413.10 186.95h1.4v1.4h-1.4zM413.10 188.30h1.4v1.4h-1.4zM413.10 191.00h1.4v1.4h-1.4zM413.10 192.35h1.4v1.4h-1.4zM413.10 197.75h1.4v1.4h-1.4zM413.10 199.10h1.4v1.4h-1.4zM414.45 142.40h1.4v1.4h-1.4zM414.45 154.55h1.4v1.4h-1.4zM414.45 155.90h1.4v1.4h-1.4zM414.45 157.25h1.4v1.4h-1.4zM414.45 158.60h1.4v1.4h-1.4zM414.45 159.95h1.4v1.4h-1.4zM414.45 161.30h1.4v1.4h-1.4zM414.45 162.65h1.4v1.4h-1.4zM414.45 165.35h1.4v1.4h-1.4zM414.45 173.45h1.4v1.4h-1.4zM414.45 177.50h1.4v1.4h-1.4zM414.45 180.20h1.4v1.4h-1.4zM414.45 181.55h1.4v1.4h-1.4zM414.45 184.25h1.4v1.4h-1.4zM414.45 185.60h1.4v1.4h-1.4zM414.45 186.95h1.4v1.4h-1.4zM414.45 188.30h1.4v1.4h-1.4zM414.45 195.05h1.4v1.4h-1.4zM414.45 197.75h1.4v1.4h-1.4zM414.45 204.50h1.4v1.4h-1.4zM415.80 130.25h1.4v1.4h-1.4zM415.80 132.95h1.4v1.4h-1.4zM415.80 146.45h1.4v1.4h-1.4zM415.80 151.85h1.4v1.4h-1.4zM415.80 155.90h1.4v1.4h-1.4zM415.80 161.30h1.4v1.4h-1.4zM415.80 162.65h1.4v1.4h-1.4zM415.80 166.70h1.4v1.4h-1.4zM415.80 168.05h1.4v1.4h-1.4zM415.80 170.75h1.4v1.4h-1.4zM415.80 173.45h1.4v1.4h-1.4zM415.80 174.80h1.4v1.4h-1.4zM415.80 176.15h1.4v1.4h-1.4zM415.80 177.50h1.4v1.4h-1.4zM415.80 178.85h1.4v1.4h-1.4zM415.80 180.20h1.4v1.4h-1.4zM415.80 186.95h1.4v1.4h-1.4zM415.80 192.35h1.4v1.4h-1.4zM415.80 193.70h1.4v1.4h-1.4zM415.80 195.05h1.4v1.4h-1.4zM415.80 196.40h1.4v1.4h-1.4zM415.80 197.75h1.4v1.4h-1.4zM415.80 203.15h1.4v1.4h-1.4zM415.80 208.55h1.4v1.4h-1.4zM415.80 209.90h1.4v1.4h-1.4zM417.15 135.65h1.4v1.4h-1.4zM417.15 138.35h1.4v1.4h-1.4zM417.15 143.75h1.4v1.4h-1.4zM417.15 145.10h1.4v1.4h-1.4zM417.15 149.15h1.4v1.4h-1.4zM417.15 154.55h1.4v1.4h-1.4zM417.15 159.95h1.4v1.4h-1.4zM417.15 161.30h1.4v1.4h-1.4zM417.15 162.65h1.4v1.4h-1.4zM417.15 164.00h1.4v1.4h-1.4zM417.15 166.70h1.4v1.4h-1.4zM417.15 169.40h1.4v1.4h-1.4zM417.15 172.10h1.4v1.4h-1.4zM417.15 176.15h1.4v1.4h-1.4zM417.15 178.85h1.4v1.4h-1.4zM417.15 185.60h1.4v1.4h-1.4zM417.15 186.95h1.4v1.4h-1.4zM417.15 195.05h1.4v1.4h-1.4zM417.15 196.40h1.4v1.4h-1.4zM417.15 205.85h1.4v1.4h-1.4zM417.15 208.55h1.4v1.4h-1.4zM418.50 126.20h1.4v1.4h-1.4zM418.50 131.60h1.4v1.4h-1.4zM418.50 135.65h1.4v1.4h-1.4zM418.50 141.05h1.4v1.4h-1.4zM418.50 142.40h1.4v1.4h-1.4zM418.50 145.10h1.4v1.4h-1.4zM418.50 149.15h1.4v1.4h-1.4zM418.50 151.85h1.4v1.4h-1.4zM418.50 157.25h1.4v1.4h-1.4zM418.50 161.30h1.4v1.4h-1.4zM418.50 164.00h1.4v1.4h-1.4zM418.50 166.70h1.4v1.4h-1.4zM418.50 169.40h1.4v1.4h-1.4zM418.50 170.75h1.4v1.4h-1.4zM418.50 174.80h1.4v1.4h-1.4zM418.50 178.85h1.4v1.4h-1.4zM418.50 185.60h1.4v1.4h-1.4zM418.50 189.65h1.4v1.4h-1.4zM418.50 191.00h1.4v1.4h-1.4zM418.50 192.35h1.4v1.4h-1.4zM418.50 195.05h1.4v1.4h-1.4zM418.50 203.15h1.4v1.4h-1.4zM418.50 208.55h1.4v1.4h-1.4zM418.50 211.25h1.4v1.4h-1.4zM418.50 212.60h1.4v1.4h-1.4zM419.85 126.20h1.4v1.4h-1.4zM419.85 135.65h1.4v1.4h-1.4zM419.85 137.00h1.4v1.4h-1.4zM419.85 139.70h1.4v1.4h-1.4zM419.85 142.40h1.4v1.4h-1.4zM419.85 143.75h1.4v1.4h-1.4zM419.85 146.45h1.4v1.4h-1.4zM419.85 147.80h1.4v1.4h-1.4zM419.85 149.15h1.4v1.4h-1.4zM419.85 150.50h1.4v1.4h-1.4zM419.85 151.85h1.4v1.4h-1.4zM419.85 153.20h1.4v1.4h-1.4zM419.85 154.55h1.4v1.4h-1.4zM419.85 155.90h1.4v1.4h-1.4zM419.85 157.25h1.4v1.4h-1.4zM419.85 158.60h1.4v1.4h-1.4zM419.85 159.95h1.4v1.4h-1.4zM419.85 161.30h1.4v1.4h-1.4zM419.85 164.00h1.4v1.4h-1.4zM419.85 165.35h1.4v1.4h-1.4zM419.85 166.70h1.4v1.4h-1.4zM419.85 168.05h1.4v1.4h-1.4zM419.85 169.40h1.4v1.4h-1.4zM419.85 172.10h1.4v1.4h-1.4zM419.85 174.80h1.4v1.4h-1.4zM419.85 177.50h1.4v1.4h-1.4zM419.85 182.90h1.4v1.4h-1.4zM419.85 184.25h1.4v1.4h-1.4zM419.85 189.65h1.4v1.4h-1.4zM419.85 191.00h1.4v1.4h-1.4zM419.85 196.40h1.4v1.4h-1.4zM419.85 207.20h1.4v1.4h-1.4zM421.20 128.90h1.4v1.4h-1.4zM421.20 134.30h1.4v1.4h-1.4zM421.20 137.00h1.4v1.4h-1.4zM421.20 138.35h1.4v1.4h-1.4zM421.20 139.70h1.4v1.4h-1.4zM421.20 141.05h1.4v1.4h-1.4zM421.20 142.40h1.4v1.4h-1.4zM421.20 143.75h1.4v1.4h-1.4zM421.20 145.10h1.4v1.4h-1.4zM421.20 146.45h1.4v1.4h-1.4zM421.20 147.80h1.4v1.4h-1.4zM421.20 149.15h1.4v1.4h-1.4zM421.20 150.50h1.4v1.4h-1.4zM421.20 153.20h1.4v1.4h-1.4zM421.20 154.55h1.4v1.4h-1.4zM421.20 155.90h1.4v1.4h-1.4zM421.20 158.60h1.4v1.4h-1.4zM421.20 161.30h1.4v1.4h-1.4zM421.20 162.65h1.4v1.4h-1.4zM421.20 164.00h1.4v1.4h-1.4zM421.20 168.05h1.4v1.4h-1.4zM421.20 169.40h1.4v1.4h-1.4zM421.20 170.75h1.4v1.4h-1.4zM421.20 172.10h1.4v1.4h-1.4zM421.20 173.45h1.4v1.4h-1.4zM421.20 174.80h1.4v1.4h-1.4zM421.20 177.50h1.4v1.4h-1.4zM421.20 180.20h1.4v1.4h-1.4zM421.20 181.55h1.4v1.4h-1.4zM421.20 182.90h1.4v1.4h-1.4zM421.20 184.25h1.4v1.4h-1.4zM421.20 192.35h1.4v1.4h-1.4zM421.20 196.40h1.4v1.4h-1.4zM421.20 197.75h1.4v1.4h-1.4zM421.20 203.15h1.4v1.4h-1.4zM422.55 126.20h1.4v1.4h-1.4zM422.55 132.95h1.4v1.4h-1.4zM422.55 134.30h1.4v1.4h-1.4zM422.55 137.00h1.4v1.4h-1.4zM422.55 138.35h1.4v1.4h-1.4zM422.55 139.70h1.4v1.4h-1.4zM422.55 141.05h1.4v1.4h-1.4zM422.55 142.40h1.4v1.4h-1.4zM422.55 143.75h1.4v1.4h-1.4zM422.55 145.10h1.4v1.4h-1.4zM422.55 146.45h1.4v1.4h-1.4zM422.55 147.80h1.4v1.4h-1.4zM422.55 149.15h1.4v1.4h-1.4zM422.55 150.50h1.4v1.4h-1.4zM422.55 151.85h1.4v1.4h-1.4zM422.55 153.20h1.4v1.4h-1.4zM422.55 157.25h1.4v1.4h-1.4zM422.55 159.95h1.4v1.4h-1.4zM422.55 161.30h1.4v1.4h-1.4zM422.55 162.65h1.4v1.4h-1.4zM422.55 164.00h1.4v1.4h-1.4zM422.55 166.70h1.4v1.4h-1.4zM422.55 170.75h1.4v1.4h-1.4zM422.55 173.45h1.4v1.4h-1.4zM422.55 177.50h1.4v1.4h-1.4zM422.55 178.85h1.4v1.4h-1.4zM422.55 180.20h1.4v1.4h-1.4zM422.55 181.55h1.4v1.4h-1.4zM422.55 182.90h1.4v1.4h-1.4zM422.55 184.25h1.4v1.4h-1.4zM422.55 193.70h1.4v1.4h-1.4zM422.55 197.75h1.4v1.4h-1.4zM422.55 200.45h1.4v1.4h-1.4zM423.90 134.30h1.4v1.4h-1.4zM423.90 137.00h1.4v1.4h-1.4zM423.90 138.35h1.4v1.4h-1.4zM423.90 139.70h1.4v1.4h-1.4zM423.90 141.05h1.4v1.4h-1.4zM423.90 142.40h1.4v1.4h-1.4zM423.90 143.75h1.4v1.4h-1.4zM423.90 145.10h1.4v1.4h-1.4zM423.90 146.45h1.4v1.4h-1.4zM423.90 147.80h1.4v1.4h-1.4zM423.90 149.15h1.4v1.4h-1.4zM423.90 150.50h1.4v1.4h-1.4zM423.90 151.85h1.4v1.4h-1.4zM423.90 153.20h1.4v1.4h-1.4zM423.90 154.55h1.4v1.4h-1.4zM423.90 155.90h1.4v1.4h-1.4zM423.90 157.25h1.4v1.4h-1.4zM423.90 158.60h1.4v1.4h-1.4zM423.90 162.65h1.4v1.4h-1.4zM423.90 165.35h1.4v1.4h-1.4zM423.90 169.40h1.4v1.4h-1.4zM423.90 172.10h1.4v1.4h-1.4zM423.90 173.45h1.4v1.4h-1.4zM423.90 176.15h1.4v1.4h-1.4zM423.90 178.85h1.4v1.4h-1.4zM423.90 181.55h1.4v1.4h-1.4zM423.90 185.60h1.4v1.4h-1.4zM423.90 186.95h1.4v1.4h-1.4zM423.90 193.70h1.4v1.4h-1.4zM425.25 128.90h1.4v1.4h-1.4zM425.25 131.60h1.4v1.4h-1.4zM425.25 132.95h1.4v1.4h-1.4zM425.25 134.30h1.4v1.4h-1.4zM425.25 135.65h1.4v1.4h-1.4zM425.25 137.00h1.4v1.4h-1.4zM425.25 138.35h1.4v1.4h-1.4zM425.25 139.70h1.4v1.4h-1.4zM425.25 141.05h1.4v1.4h-1.4zM425.25 142.40h1.4v1.4h-1.4zM425.25 143.75h1.4v1.4h-1.4zM425.25 145.10h1.4v1.4h-1.4zM425.25 146.45h1.4v1.4h-1.4zM425.25 147.80h1.4v1.4h-1.4zM425.25 149.15h1.4v1.4h-1.4zM425.25 151.85h1.4v1.4h-1.4zM425.25 153.20h1.4v1.4h-1.4zM425.25 155.90h1.4v1.4h-1.4zM425.25 157.25h1.4v1.4h-1.4zM425.25 158.60h1.4v1.4h-1.4zM425.25 159.95h1.4v1.4h-1.4zM425.25 161.30h1.4v1.4h-1.4zM425.25 162.65h1.4v1.4h-1.4zM425.25 164.00h1.4v1.4h-1.4zM425.25 165.35h1.4v1.4h-1.4zM425.25 166.70h1.4v1.4h-1.4zM425.25 173.45h1.4v1.4h-1.4zM425.25 174.80h1.4v1.4h-1.4zM425.25 176.15h1.4v1.4h-1.4zM425.25 178.85h1.4v1.4h-1.4zM425.25 182.90h1.4v1.4h-1.4zM425.25 184.25h1.4v1.4h-1.4zM425.25 185.60h1.4v1.4h-1.4zM425.25 188.30h1.4v1.4h-1.4zM425.25 189.65h1.4v1.4h-1.4zM426.60 127.55h1.4v1.4h-1.4zM426.60 132.95h1.4v1.4h-1.4zM426.60 134.30h1.4v1.4h-1.4zM426.60 138.35h1.4v1.4h-1.4zM426.60 139.70h1.4v1.4h-1.4zM426.60 141.05h1.4v1.4h-1.4zM426.60 142.40h1.4v1.4h-1.4zM426.60 143.75h1.4v1.4h-1.4zM426.60 145.10h1.4v1.4h-1.4zM426.60 146.45h1.4v1.4h-1.4zM426.60 147.80h1.4v1.4h-1.4zM426.60 149.15h1.4v1.4h-1.4zM426.60 150.50h1.4v1.4h-1.4zM426.60 151.85h1.4v1.4h-1.4zM426.60 153.20h1.4v1.4h-1.4zM426.60 154.55h1.4v1.4h-1.4zM426.60 157.25h1.4v1.4h-1.4zM426.60 162.65h1.4v1.4h-1.4zM426.60 164.00h1.4v1.4h-1.4zM426.60 165.35h1.4v1.4h-1.4zM426.60 166.70h1.4v1.4h-1.4zM426.60 168.05h1.4v1.4h-1.4zM426.60 170.75h1.4v1.4h-1.4zM426.60 176.15h1.4v1.4h-1.4zM426.60 180.20h1.4v1.4h-1.4zM426.60 181.55h1.4v1.4h-1.4zM426.60 186.95h1.4v1.4h-1.4zM426.60 188.30h1.4v1.4h-1.4zM426.60 193.70h1.4v1.4h-1.4zM426.60 201.80h1.4v1.4h-1.4zM426.60 205.85h1.4v1.4h-1.4zM427.95 138.35h1.4v1.4h-1.4zM427.95 139.70h1.4v1.4h-1.4zM427.95 141.05h1.4v1.4h-1.4zM427.95 142.40h1.4v1.4h-1.4zM427.95 143.75h1.4v1.4h-1.4zM427.95 145.10h1.4v1.4h-1.4zM427.95 149.15h1.4v1.4h-1.4zM427.95 150.50h1.4v1.4h-1.4zM427.95 153.20h1.4v1.4h-1.4zM427.95 154.55h1.4v1.4h-1.4zM427.95 159.95h1.4v1.4h-1.4zM427.95 162.65h1.4v1.4h-1.4zM427.95 166.70h1.4v1.4h-1.4zM427.95 168.05h1.4v1.4h-1.4zM427.95 170.75h1.4v1.4h-1.4zM427.95 173.45h1.4v1.4h-1.4zM427.95 174.80h1.4v1.4h-1.4zM427.95 176.15h1.4v1.4h-1.4zM427.95 177.50h1.4v1.4h-1.4zM427.95 178.85h1.4v1.4h-1.4zM427.95 185.60h1.4v1.4h-1.4zM427.95 188.30h1.4v1.4h-1.4zM427.95 189.65h1.4v1.4h-1.4zM427.95 191.00h1.4v1.4h-1.4zM427.95 196.40h1.4v1.4h-1.4zM429.30 135.65h1.4v1.4h-1.4zM429.30 138.35h1.4v1.4h-1.4zM429.30 139.70h1.4v1.4h-1.4zM429.30 141.05h1.4v1.4h-1.4zM429.30 143.75h1.4v1.4h-1.4zM429.30 146.45h1.4v1.4h-1.4zM429.30 147.80h1.4v1.4h-1.4zM429.30 149.15h1.4v1.4h-1.4zM429.30 150.50h1.4v1.4h-1.4zM429.30 153.20h1.4v1.4h-1.4zM429.30 154.55h1.4v1.4h-1.4zM429.30 157.25h1.4v1.4h-1.4zM429.30 159.95h1.4v1.4h-1.4zM429.30 162.65h1.4v1.4h-1.4zM429.30 164.00h1.4v1.4h-1.4zM429.30 165.35h1.4v1.4h-1.4zM429.30 168.05h1.4v1.4h-1.4zM429.30 170.75h1.4v1.4h-1.4zM429.30 172.10h1.4v1.4h-1.4zM429.30 173.45h1.4v1.4h-1.4zM429.30 176.15h1.4v1.4h-1.4zM429.30 177.50h1.4v1.4h-1.4zM429.30 178.85h1.4v1.4h-1.4zM429.30 182.90h1.4v1.4h-1.4zM429.30 189.65h1.4v1.4h-1.4zM429.30 193.70h1.4v1.4h-1.4zM429.30 205.85h1.4v1.4h-1.4zM430.65 127.55h1.4v1.4h-1.4zM430.65 138.35h1.4v1.4h-1.4zM430.65 141.05h1.4v1.4h-1.4zM430.65 142.40h1.4v1.4h-1.4zM430.65 143.75h1.4v1.4h-1.4zM430.65 146.45h1.4v1.4h-1.4zM430.65 150.50h1.4v1.4h-1.4zM430.65 153.20h1.4v1.4h-1.4zM430.65 155.90h1.4v1.4h-1.4zM430.65 157.25h1.4v1.4h-1.4zM430.65 159.95h1.4v1.4h-1.4zM430.65 161.30h1.4v1.4h-1.4zM430.65 165.35h1.4v1.4h-1.4zM430.65 173.45h1.4v1.4h-1.4zM430.65 174.80h1.4v1.4h-1.4zM430.65 176.15h1.4v1.4h-1.4zM430.65 177.50h1.4v1.4h-1.4zM430.65 185.60h1.4v1.4h-1.4zM430.65 189.65h1.4v1.4h-1.4zM430.65 191.00h1.4v1.4h-1.4zM430.65 193.70h1.4v1.4h-1.4zM430.65 197.75h1.4v1.4h-1.4zM432.00 139.70h1.4v1.4h-1.4zM432.00 147.80h1.4v1.4h-1.4zM432.00 149.15h1.4v1.4h-1.4zM432.00 150.50h1.4v1.4h-1.4zM432.00 154.55h1.4v1.4h-1.4zM432.00 162.65h1.4v1.4h-1.4zM432.00 168.05h1.4v1.4h-1.4zM432.00 170.75h1.4v1.4h-1.4zM432.00 174.80h1.4v1.4h-1.4zM432.00 177.50h1.4v1.4h-1.4zM432.00 178.85h1.4v1.4h-1.4zM432.00 181.55h1.4v1.4h-1.4zM432.00 182.90h1.4v1.4h-1.4zM432.00 185.60h1.4v1.4h-1.4zM433.35 137.00h1.4v1.4h-1.4zM433.35 141.05h1.4v1.4h-1.4zM433.35 147.80h1.4v1.4h-1.4zM433.35 150.50h1.4v1.4h-1.4zM433.35 153.20h1.4v1.4h-1.4zM433.35 158.60h1.4v1.4h-1.4zM433.35 165.35h1.4v1.4h-1.4zM433.35 166.70h1.4v1.4h-1.4zM433.35 170.75h1.4v1.4h-1.4zM433.35 173.45h1.4v1.4h-1.4zM433.35 178.85h1.4v1.4h-1.4zM433.35 185.60h1.4v1.4h-1.4zM433.35 199.10h1.4v1.4h-1.4zM434.70 131.60h1.4v1.4h-1.4zM434.70 137.00h1.4v1.4h-1.4zM434.70 139.70h1.4v1.4h-1.4zM434.70 150.50h1.4v1.4h-1.4zM434.70 154.55h1.4v1.4h-1.4zM434.70 155.90h1.4v1.4h-1.4zM434.70 157.25h1.4v1.4h-1.4zM434.70 172.10h1.4v1.4h-1.4zM434.70 180.20h1.4v1.4h-1.4zM434.70 182.90h1.4v1.4h-1.4zM434.70 186.95h1.4v1.4h-1.4zM436.05 130.25h1.4v1.4h-1.4zM436.05 143.75h1.4v1.4h-1.4zM436.05 147.80h1.4v1.4h-1.4zM436.05 149.15h1.4v1.4h-1.4zM436.05 150.50h1.4v1.4h-1.4zM436.05 157.25h1.4v1.4h-1.4zM436.05 158.60h1.4v1.4h-1.4zM436.05 161.30h1.4v1.4h-1.4zM436.05 164.00h1.4v1.4h-1.4zM436.05 168.05h1.4v1.4h-1.4zM436.05 170.75h1.4v1.4h-1.4zM436.05 181.55h1.4v1.4h-1.4zM436.05 200.45h1.4v1.4h-1.4zM437.40 139.70h1.4v1.4h-1.4zM437.40 141.05h1.4v1.4h-1.4zM437.40 142.40h1.4v1.4h-1.4zM437.40 147.80h1.4v1.4h-1.4zM437.40 149.15h1.4v1.4h-1.4zM437.40 150.50h1.4v1.4h-1.4zM437.40 153.20h1.4v1.4h-1.4zM437.40 154.55h1.4v1.4h-1.4zM437.40 155.90h1.4v1.4h-1.4zM437.40 157.25h1.4v1.4h-1.4zM437.40 161.30h1.4v1.4h-1.4zM437.40 173.45h1.4v1.4h-1.4zM437.40 176.15h1.4v1.4h-1.4zM438.75 138.35h1.4v1.4h-1.4zM438.75 142.40h1.4v1.4h-1.4zM438.75 143.75h1.4v1.4h-1.4zM438.75 147.80h1.4v1.4h-1.4zM438.75 149.15h1.4v1.4h-1.4zM438.75 150.50h1.4v1.4h-1.4zM438.75 164.00h1.4v1.4h-1.4zM438.75 165.35h1.4v1.4h-1.4zM438.75 168.05h1.4v1.4h-1.4zM438.75 199.10h1.4v1.4h-1.4zM438.75 205.85h1.4v1.4h-1.4zM438.75 209.90h1.4v1.4h-1.4zM440.10 134.30h1.4v1.4h-1.4zM440.10 143.75h1.4v1.4h-1.4zM440.10 145.10h1.4v1.4h-1.4zM440.10 146.45h1.4v1.4h-1.4zM440.10 147.80h1.4v1.4h-1.4zM440.10 153.20h1.4v1.4h-1.4zM440.10 155.90h1.4v1.4h-1.4zM440.10 159.95h1.4v1.4h-1.4zM440.10 168.05h1.4v1.4h-1.4zM440.10 204.50h1.4v1.4h-1.4zM441.45 131.60h1.4v1.4h-1.4zM441.45 135.65h1.4v1.4h-1.4zM441.45 138.35h1.4v1.4h-1.4zM441.45 145.10h1.4v1.4h-1.4zM441.45 146.45h1.4v1.4h-1.4zM441.45 147.80h1.4v1.4h-1.4zM441.45 153.20h1.4v1.4h-1.4zM441.45 154.55h1.4v1.4h-1.4zM441.45 157.25h1.4v1.4h-1.4zM441.45 166.70h1.4v1.4h-1.4zM441.45 177.50h1.4v1.4h-1.4zM441.45 186.95h1.4v1.4h-1.4zM442.80 138.35h1.4v1.4h-1.4zM442.80 141.05h1.4v1.4h-1.4zM442.80 145.10h1.4v1.4h-1.4zM442.80 146.45h1.4v1.4h-1.4zM442.80 149.15h1.4v1.4h-1.4zM442.80 150.50h1.4v1.4h-1.4zM442.80 151.85h1.4v1.4h-1.4zM442.80 154.55h1.4v1.4h-1.4zM442.80 161.30h1.4v1.4h-1.4zM442.80 165.35h1.4v1.4h-1.4zM442.80 170.75h1.4v1.4h-1.4zM442.80 178.85h1.4v1.4h-1.4zM444.15 138.35h1.4v1.4h-1.4zM444.15 141.05h1.4v1.4h-1.4zM444.15 147.80h1.4v1.4h-1.4zM444.15 150.50h1.4v1.4h-1.4zM444.15 153.20h1.4v1.4h-1.4zM444.15 155.90h1.4v1.4h-1.4zM444.15 165.35h1.4v1.4h-1.4zM444.15 168.05h1.4v1.4h-1.4zM444.15 182.90h1.4v1.4h-1.4zM445.50 141.05h1.4v1.4h-1.4zM445.50 147.80h1.4v1.4h-1.4zM445.50 161.30h1.4v1.4h-1.4zM445.50 166.70h1.4v1.4h-1.4zM445.50 169.40h1.4v1.4h-1.4zM445.50 172.10h1.4v1.4h-1.4zM446.85 143.75h1.4v1.4h-1.4zM446.85 153.20h1.4v1.4h-1.4zM446.85 174.80h1.4v1.4h-1.4zM448.20 135.65h1.4v1.4h-1.4zM448.20 158.60h1.4v1.4h-1.4zM448.20 180.20h1.4v1.4h-1.4zM449.55 172.10h1.4v1.4h-1.4zM449.55 174.80h1.4v1.4h-1.4zM450.90 147.80h1.4v1.4h-1.4zM452.25 177.50h1.4v1.4h-1.4zM453.60 151.85h1.4v1.4h-1.4zM454.95 186.95h1.4v1.4h-1.4zM457.65 157.25h1.4v1.4h-1.4zM457.65 161.30h1.4v1.4h-1.4zM457.65 197.75h1.4v1.4h-1.4zM463.05 131.60h1.4v1.4h-1.4z" fill="#0a0a0a"/>
<path d="M50.85 434.5L49.75 259.5L256.75 259.2" fill="none" stroke="#0c0c0c" stroke-width="1.35" stroke-linejoin="miter"/>
<path d="M256.75 259.2L257.5 434.45" fill="none" stroke="#0c0c0c" stroke-width="1.05"/>
<path d="M50.25 434.5L258.0 434.45" fill="none" stroke="#0c0c0c" stroke-width="1.35"/>
<path d="M51.75 434.50v6.4M50.84 433.40h-5.8M67.10 434.50v3.6M50.76 420.38h-3.3M76.08 434.49v3.6M50.71 412.76h-3.3M82.45 434.49v3.6M50.68 407.36h-3.3M87.39 434.49v3.6M50.65 403.17h-3.3M91.43 434.49v3.6M50.63 399.74h-3.3M94.84 434.49v3.6M50.61 396.85h-3.3M97.80 434.49v3.6M50.60 394.34h-3.3M100.40 434.49v3.6M50.58 392.13h-3.3M102.74 434.49v6.4M50.57 390.15h-5.8M118.09 434.48v3.6M50.49 377.13h-3.3M127.06 434.48v3.6M50.44 369.51h-3.3M133.44 434.48v3.6M50.41 364.11h-3.3M138.38 434.48v3.6M50.38 359.92h-3.3M142.41 434.48v3.6M50.36 356.49h-3.3M145.83 434.48v3.6M50.34 353.60h-3.3M148.78 434.48v3.6M50.33 351.09h-3.3M151.39 434.48v3.6M50.31 348.88h-3.3M153.72 434.48v6.4M50.30 346.90h-5.8M169.07 434.47v3.6M50.22 333.88h-3.3M178.05 434.47v3.6M50.17 326.26h-3.3M184.42 434.47v3.6M50.14 320.86h-3.3M189.36 434.47v3.6M50.11 316.67h-3.3M193.40 434.47v3.6M50.09 313.24h-3.3M196.81 434.46v3.6M50.07 310.35h-3.3M199.77 434.46v3.6M50.05 307.84h-3.3M202.38 434.46v3.6M50.04 305.63h-3.3M204.71 434.46v6.4M50.03 303.65h-5.8M220.06 434.46v3.6M49.95 290.63h-3.3M229.04 434.46v3.6M49.90 283.01h-3.3M235.41 434.46v3.6M49.86 277.61h-3.3M240.35 434.45v3.6M49.84 273.42h-3.3M244.39 434.45v3.6M49.82 269.99h-3.3M247.80 434.45v3.6M49.80 267.10h-3.3M250.76 434.45v3.6M49.78 264.59h-3.3M253.37 434.45v3.6M49.77 262.38h-3.3M255.70 434.45v6.4M49.76 260.40h-5.8" stroke="#0c0c0c" stroke-width="1.3" fill="none"/>
<use href="#one" x="46.15" y="454.00"/><g transform="translate(50.95,454.00)"><text class="t" transform="scale(0.92,1)">0</text></g><g transform="translate(57.55,447.10)"><text class="e" transform="scale(0.78,1)">0</text></g>
<g transform="translate(40.50,432.80) rotate(-90)"><use href="#one" x="-6.9"/><g transform="translate(-1.5,0)"><text class="t" transform="scale(0.92,1)">0</text></g><g transform="translate(7.1,-6.5)"><text class="ey" transform="scale(1.0,1)">0</text></g></g>
<use href="#one" x="97.14" y="454.00"/><g transform="translate(101.94,454.00)"><text class="t" transform="scale(0.92,1)">0</text></g><g transform="translate(108.54,447.10)"><use href="#one" x="1.2"/></g>
<g transform="translate(40.50,389.55) rotate(-90)"><use href="#one" x="-6.9"/><g transform="translate(-1.5,0)"><text class="t" transform="scale(0.92,1)">0</text></g><g transform="translate(7.1,-6.5)"><use href="#one" x="1.2"/></g></g>
<use href="#one" x="148.12" y="454.00"/><g transform="translate(152.92,454.00)"><text class="t" transform="scale(0.92,1)">0</text></g><g transform="translate(159.53,447.10)"><text class="e" transform="scale(0.78,1)">2</text></g>
<g transform="translate(40.50,346.30) rotate(-90)"><use href="#one" x="-6.9"/><g transform="translate(-1.5,0)"><text class="t" transform="scale(0.92,1)">0</text></g><g transform="translate(7.1,-6.5)"><text class="ey" transform="scale(1.0,1)">2</text></g></g>
<use href="#one" x="199.11" y="454.00"/><g transform="translate(203.91,454.00)"><text class="t" transform="scale(0.92,1)">0</text></g><g transform="translate(210.51,447.10)"><text class="e" transform="scale(0.78,1)">3</text></g>
<g transform="translate(40.50,303.05) rotate(-90)"><use href="#one" x="-6.9"/><g transform="translate(-1.5,0)"><text class="t" transform="scale(0.92,1)">0</text></g><g transform="translate(7.1,-6.5)"><text class="ey" transform="scale(1.0,1)">3</text></g></g>
<use href="#one" x="250.10" y="454.00"/><g transform="translate(254.90,454.00)"><text class="t" transform="scale(0.92,1)">0</text></g><g transform="translate(261.50,447.10)"><text class="e" transform="scale(0.78,1)">4</text></g>
<g transform="translate(40.50,259.80) rotate(-90)"><use href="#one" x="-6.9"/><g transform="translate(-1.5,0)"><text class="t" transform="scale(0.92,1)">0</text></g><rect x="4.6" y="-8.6" width="1.1" height="1.1" fill="#222"/></g>
<g transform="translate(144.3,466.8)"><text class="a" transform="scale(0.82,1)">FL</text><use href="#one" x="16.1" y="0" transform="scale(1,1.08)" style="stroke-width:1.5"/></g>
<g transform="translate(26.7,357.7) rotate(-90)"><text class="a" style="font-size:12.2px" transform="scale(0.95,1)">FL2</text></g>
<text class="b" font-size="27.2" transform="translate(71.0,296.5) scale(0.995,1.03)" xml:space="preserve">-5GF -STI</text>
<path d="M55.10 412.45h1.4v1.4h-1.4zM61.85 405.70h1.4v1.4h-1.4zM64.55 403.00h1.4v1.4h-1.4zM64.55 423.25h1.4v1.4h-1.4zM68.60 390.85h1.4v1.4h-1.4zM69.95 390.85h1.4v1.4h-1.4zM71.30 386.80h1.4v1.4h-1.4zM78.05 386.80h1.4v1.4h-1.4zM79.40 380.05h1.4v1.4h-1.4zM82.10 373.30h1.4v1.4h-1.4zM83.45 378.70h1.4v1.4h-1.4zM84.80 390.85h1.4v1.4h-1.4zM87.50 373.30h1.4v1.4h-1.4zM91.55 380.05h1.4v1.4h-1.4zM91.55 398.95h1.4v1.4h-1.4zM94.25 385.45h1.4v1.4h-1.4zM98.30 376.00h1.4v1.4h-1.4zM99.65 373.30h1.4v1.4h-1.4zM99.65 380.05h1.4v1.4h-1.4zM101.00 380.05h1.4v1.4h-1.4zM102.35 385.45h1.4v1.4h-1.4zM103.70 371.95h1.4v1.4h-1.4zM109.10 365.20h1.4v1.4h-1.4zM110.45 370.60h1.4v1.4h-1.4zM118.55 392.20h1.4v1.4h-1.4zM119.90 371.95h1.4v1.4h-1.4zM121.25 362.50h1.4v1.4h-1.4zM121.25 370.60h1.4v1.4h-1.4zM122.60 358.45h1.4v1.4h-1.4zM125.30 355.75h1.4v1.4h-1.4zM125.30 371.95h1.4v1.4h-1.4zM126.65 363.85h1.4v1.4h-1.4zM126.65 366.55h1.4v1.4h-1.4zM128.00 386.80h1.4v1.4h-1.4zM129.35 361.15h1.4v1.4h-1.4zM129.35 377.35h1.4v1.4h-1.4zM129.35 393.55h1.4v1.4h-1.4zM130.70 366.55h1.4v1.4h-1.4zM130.70 413.80h1.4v1.4h-1.4zM132.05 351.70h1.4v1.4h-1.4zM132.05 363.85h1.4v1.4h-1.4zM132.05 394.90h1.4v1.4h-1.4zM132.05 397.60h1.4v1.4h-1.4zM133.40 355.75h1.4v1.4h-1.4zM133.40 362.50h1.4v1.4h-1.4zM133.40 365.20h1.4v1.4h-1.4zM133.40 367.90h1.4v1.4h-1.4zM133.40 369.25h1.4v1.4h-1.4zM133.40 371.95h1.4v1.4h-1.4zM133.40 373.30h1.4v1.4h-1.4zM133.40 407.05h1.4v1.4h-1.4zM133.40 420.55h1.4v1.4h-1.4zM134.75 355.75h1.4v1.4h-1.4zM134.75 357.10h1.4v1.4h-1.4zM134.75 359.80h1.4v1.4h-1.4zM134.75 365.20h1.4v1.4h-1.4zM134.75 367.90h1.4v1.4h-1.4zM134.75 371.95h1.4v1.4h-1.4zM134.75 373.30h1.4v1.4h-1.4zM134.75 374.65h1.4v1.4h-1.4zM134.75 377.35h1.4v1.4h-1.4zM134.75 378.70h1.4v1.4h-1.4zM134.75 380.05h1.4v1.4h-1.4zM134.75 381.40h1.4v1.4h-1.4zM134.75 389.50h1.4v1.4h-1.4zM134.75 398.95h1.4v1.4h-1.4zM134.75 405.70h1.4v1.4h-1.4zM134.75 417.85h1.4v1.4h-1.4zM134.75 424.60h1.4v1.4h-1.4zM136.10 344.95h1.4v1.4h-1.4zM136.10 355.75h1.4v1.4h-1.4zM136.10 357.10h1.4v1.4h-1.4zM136.10 358.45h1.4v1.4h-1.4zM136.10 361.15h1.4v1.4h-1.4zM136.10 362.50h1.4v1.4h-1.4zM136.10 365.20h1.4v1.4h-1.4zM136.10 366.55h1.4v1.4h-1.4zM136.10 367.90h1.4v1.4h-1.4zM136.10 369.25h1.4v1.4h-1.4zM136.10 370.60h1.4v1.4h-1.4zM136.10 371.95h1.4v1.4h-1.4zM136.10 373.30h1.4v1.4h-1.4zM136.10 374.65h1.4v1.4h-1.4zM136.10 376.00h1.4v1.4h-1.4zM136.10 377.35h1.4v1.4h-1.4zM136.10 378.70h1.4v1.4h-1.4zM136.10 380.05h1.4v1.4h-1.4zM136.10 381.40h1.4v1.4h-1.4zM136.10 382.75h1.4v1.4h-1.4zM136.10 388.15h1.4v1.4h-1.4zM136.10 401.65h1.4v1.4h-1.4zM137.45 349.00h1.4v1.4h-1.4zM137.45 355.75h1.4v1.4h-1.4zM137.45 358.45h1.4v1.4h-1.4zM137.45 359.80h1.4v1.4h-1.4zM137.45 361.15h1.4v1.4h-1.4zM137.45 363.85h1.4v1.4h-1.4zM137.45 366.55h1.4v1.4h-1.4zM137.45 367.90h1.4v1.4h-1.4zM137.45 369.25h1.4v1.4h-1.4zM137.45 370.60h1.4v1.4h-1.4zM137.45 371.95h1.4v1.4h-1.4zM137.45 373.30h1.4v1.4h-1.4zM137.45 374.65h1.4v1.4h-1.4zM137.45 376.00h1.4v1.4h-1.4zM137.45 377.35h1.4v1.4h-1.4zM137.45 380.05h1.4v1.4h-1.4zM137.45 381.40h1.4v1.4h-1.4zM137.45 382.75h1.4v1.4h-1.4zM137.45 385.45h1.4v1.4h-1.4zM137.45 386.80h1.4v1.4h-1.4zM137.45 416.50h1.4v1.4h-1.4zM138.80 351.70h1.4v1.4h-1.4zM138.80 354.40h1.4v1.4h-1.4zM138.80 357.10h1.4v1.4h-1.4zM138.80 359.80h1.4v1.4h-1.4zM138.80 361.15h1.4v1.4h-1.4zM138.80 362.50h1.4v1.4h-1.4zM138.80 363.85h1.4v1.4h-1.4zM138.80 365.20h1.4v1.4h-1.4zM138.80 366.55h1.4v1.4h-1.4zM138.80 367.90h1.4v1.4h-1.4zM138.80 369.25h1.4v1.4h-1.4zM138.80 370.60h1.4v1.4h-1.4zM138.80 371.95h1.4v1.4h-1.4zM138.80 373.30h1.4v1.4h-1.4zM138.80 374.65h1.4v1.4h-1.4zM138.80 376.00h1.4v1.4h-1.4zM138.80 377.35h1.4v1.4h-1.4zM138.80 378.70h1.4v1.4h-1.4zM138.80 380.05h1.4v1.4h-1.4zM138.80 381.40h1.4v1.4h-1.4zM138.80 382.75h1.4v1.4h-1.4zM138.80 384.10h1.4v1.4h-1.4zM138.80 385.45h1.4v1.4h-1.4zM138.80 386.80h1.4v1.4h-1.4zM138.80 388.15h1.4v1.4h-1.4zM138.80 401.65h1.4v1.4h-1.4zM138.80 416.50h1.4v1.4h-1.4zM140.15 350.35h1.4v1.4h-1.4zM140.15 351.70h1.4v1.4h-1.4zM140.15 354.40h1.4v1.4h-1.4zM140.15 355.75h1.4v1.4h-1.4zM140.15 357.10h1.4v1.4h-1.4zM140.15 358.45h1.4v1.4h-1.4zM140.15 359.80h1.4v1.4h-1.4zM140.15 361.15h1.4v1.4h-1.4zM140.15 362.50h1.4v1.4h-1.4zM140.15 363.85h1.4v1.4h-1.4zM140.15 365.20h1.4v1.4h-1.4zM140.15 366.55h1.4v1.4h-1.4zM140.15 367.90h1.4v1.4h-1.4zM140.15 369.25h1.4v1.4h-1.4zM140.15 370.60h1.4v1.4h-1.4zM140.15 371.95h1.4v1.4h-1.4zM140.15 373.30h1.4v1.4h-1.4zM140.15 374.65h1.4v1.4h-1.4zM140.15 376.00h1.4v1.4h-1.4zM140.15 377.35h1.4v1.4h-1.4zM140.15 378.70h1.4v1.4h-1.4zM140.15 380.05h1.4v1.4h-1.4zM140.15 381.40h1.4v1.4h-1.4zM140.15 382.75h1.4v1.4h-1.4zM140.15 384.10h1.4v1.4h-1.4zM140.15 385.45h1.4v1.4h-1.4zM140.15 386.80h1.4v1.4h-1.4zM140.15 388.15h1.4v1.4h-1.4zM140.15 389.50h1.4v1.4h-1.4zM140.15 390.85h1.4v1.4h-1.4zM140.15 403.00h1.4v1.4h-1.4zM140.15 424.60h1.4v1.4h-1.4zM141.50 351.70h1.4v1.4h-1.4zM141.50 354.40h1.4v1.4h-1.4zM141.50 359.80h1.4v1.4h-1.4zM141.50 361.15h1.4v1.4h-1.4zM141.50 362.50h1.4v1.4h-1.4zM141.50 363.85h1.4v1.4h-1.4zM141.50 365.20h1.4v1.4h-1.4zM141.50 366.55h1.4v1.4h-1.4zM141.50 367.90h1.4v1.4h-1.4zM141.50 369.25h1.4v1.4h-1.4zM141.50 370.60h1.4v1.4h-1.4zM141.50 371.95h1.4v1.4h-1.4zM141.50 373.30h1.4v1.4h-1.4zM141.50 374.65h1.4v1.4h-1.4zM141.50 376.00h1.4v1.4h-1.4zM141.50 377.35h1.4v1.4h-1.4zM141.50 378.70h1.4v1.4h-1.4zM141.50 380.05h1.4v1.4h-1.4zM141.50 381.40h1.4v1.4h-1.4zM141.50 382.75h1.4v1.4h-1.4zM141.50 384.10h1.4v1.4h-1.4zM141.50 385.45h1.4v1.4h-1.4zM141.50 386.80h1.4v1.4h-1.4zM141.50 388.15h1.4v1.4h-1.4zM141.50 390.85h1.4v1.4h-1.4zM141.50 394.90h1.4v1.4h-1.4zM141.50 398.95h1.4v1.4h-1.4zM141.50 403.00h1.4v1.4h-1.4zM141.50 404.35h1.4v1.4h-1.4zM142.85 350.35h1.4v1.4h-1.4zM142.85 351.70h1.4v1.4h-1.4zM142.85 354.40h1.4v1.4h-1.4zM142.85 355.75h1.4v1.4h-1.4zM142.85 357.10h1.4v1.4h-1.4zM142.85 358.45h1.4v1.4h-1.4zM142.85 359.80h1.4v1.4h-1.4zM142.85 361.15h1.4v1.4h-1.4zM142.85 362.50h1.4v1.4h-1.4zM142.85 363.85h1.4v1.4h-1.4zM142.85 365.20h1.4v1.4h-1.4zM142.85 366.55h1.4v1.4h-1.4zM142.85 367.90h1.4v1.4h-1.4zM142.85 369.25h1.4v1.4h-1.4zM142.85 370.60h1.4v1.4h-1.4zM142.85 371.95h1.4v1.4h-1.4zM142.85 373.30h1.4v1.4h-1.4zM142.85 374.65h1.4v1.4h-1.4zM142.85 376.00h1.4v1.4h-1.4zM142.85 377.35h1.4v1.4h-1.4zM142.85 378.70h1.4v1.4h-1.4zM142.85 380.05h1.4v1.4h-1.4zM142.85 382.75h1.4v1.4h-1.4zM142.85 384.10h1.4v1.4h-1.4zM142.85 385.45h1.4v1.4h-1.4zM142.85 386.80h1.4v1.4h-1.4zM142.85 388.15h1.4v1.4h-1.4zM142.85 389.50h1.4v1.4h-1.4zM142.85 404.35h1.4v1.4h-1.4zM142.85 417.85h1.4v1.4h-1.4zM144.20 358.45h1.4v1.4h-1.4zM144.20 359.80h1.4v1.4h-1.4zM144.20 361.15h1.4v1.4h-1.4zM144.20 362.50h1.4v1.4h-1.4zM144.20 363.85h1.4v1.4h-1.4zM144.20 365.20h1.4v1.4h-1.4zM144.20 366.55h1.4v1.4h-1.4zM144.20 367.90h1.4v1.4h-1.4zM144.20 369.25h1.4v1.4h-1.4zM144.20 370.60h1.4v1.4h-1.4zM144.20 371.95h1.4v1.4h-1.4zM144.20 373.30h1.4v1.4h-1.4zM144.20 374.65h1.4v1.4h-1.4zM144.20 376.00h1.4v1.4h-1.4zM144.20 377.35h1.4v1.4h-1.4zM144.20 378.70h1.4v1.4h-1.4zM144.20 380.05h1.4v1.4h-1.4zM144.20 381.40h1.4v1.4h-1.4zM144.20 382.75h1.4v1.4h-1.4zM144.20 384.10h1.4v1.4h-1.4zM144.20 386.80h1.4v1.4h-1.4zM144.20 388.15h1.4v1.4h-1.4zM144.20 390.85h1.4v1.4h-1.4zM144.20 394.90h1.4v1.4h-1.4zM144.20 398.95h1.4v1.4h-1.4zM144.20 411.10h1.4v1.4h-1.4zM145.55 350.35h1.4v1.4h-1.4zM145.55 355.75h1.4v1.4h-1.4zM145.55 357.10h1.4v1.4h-1.4zM145.55 359.80h1.4v1.4h-1.4zM145.55 361.15h1.4v1.4h-1.4zM145.55 362.50h1.4v1.4h-1.4zM145.55 363.85h1.4v1.4h-1.4zM145.55 365.20h1.4v1.4h-1.4zM145.55 366.55h1.4v1.4h-1.4zM145.55 367.90h1.4v1.4h-1.4zM145.55 369.25h1.4v1.4h-1.4zM145.55 370.60h1.4v1.4h-1.4zM145.55 371.95h1.4v1.4h-1.4zM145.55 373.30h1.4v1.4h-1.4zM145.55 374.65h1.4v1.4h-1.4zM145.55 376.00h1.4v1.4h-1.4zM145.55 377.35h1.4v1.4h-1.4zM145.55 378.70h1.4v1.4h-1.4zM145.55 380.05h1.4v1.4h-1.4zM145.55 381.40h1.4v1.4h-1.4zM145.55 384.10h1.4v1.4h-1.4zM145.55 386.80h1.4v1.4h-1.4zM145.55 401.65h1.4v1.4h-1.4zM145.55 425.95h1.4v1.4h-1.4zM146.90 354.40h1.4v1.4h-1.4zM146.90 355.75h1.4v1.4h-1.4zM146.90 357.10h1.4v1.4h-1.4zM146.90 365.20h1.4v1.4h-1.4zM146.90 366.55h1.4v1.4h-1.4zM146.90 370.60h1.4v1.4h-1.4zM146.90 371.95h1.4v1.4h-1.4zM146.90 373.30h1.4v1.4h-1.4zM146.90 374.65h1.4v1.4h-1.4zM146.90 378.70h1.4v1.4h-1.4zM146.90 380.05h1.4v1.4h-1.4zM146.90 381.40h1.4v1.4h-1.4zM146.90 384.10h1.4v1.4h-1.4zM146.90 386.80h1.4v1.4h-1.4zM146.90 390.85h1.4v1.4h-1.4zM146.90 396.25h1.4v1.4h-1.4zM146.90 401.65h1.4v1.4h-1.4zM146.90 403.00h1.4v1.4h-1.4zM146.90 423.25h1.4v1.4h-1.4zM148.25 359.80h1.4v1.4h-1.4zM148.25 361.15h1.4v1.4h-1.4zM148.25 362.50h1.4v1.4h-1.4zM148.25 363.85h1.4v1.4h-1.4zM148.25 366.55h1.4v1.4h-1.4zM148.25 369.25h1.4v1.4h-1.4zM148.25 373.30h1.4v1.4h-1.4zM148.25 376.00h1.4v1.4h-1.4zM148.25 380.05h1.4v1.4h-1.4zM148.25 384.10h1.4v1.4h-1.4zM148.25 386.80h1.4v1.4h-1.4zM148.25 388.15h1.4v1.4h-1.4zM148.25 400.30h1.4v1.4h-1.4zM148.25 403.00h1.4v1.4h-1.4zM149.60 346.30h1.4v1.4h-1.4zM149.60 347.65h1.4v1.4h-1.4zM149.60 351.70h1.4v1.4h-1.4zM149.60 355.75h1.4v1.4h-1.4zM149.60 359.80h1.4v1.4h-1.4zM149.60 361.15h1.4v1.4h-1.4zM149.60 363.85h1.4v1.4h-1.4zM149.60 369.25h1.4v1.4h-1.4zM149.60 370.60h1.4v1.4h-1.4zM149.60 373.30h1.4v1.4h-1.4zM149.60 374.65h1.4v1.4h-1.4zM149.60 376.00h1.4v1.4h-1.4zM149.60 377.35h1.4v1.4h-1.4zM149.60 385.45h1.4v1.4h-1.4zM149.60 392.20h1.4v1.4h-1.4zM149.60 396.25h1.4v1.4h-1.4zM149.60 398.95h1.4v1.4h-1.4zM149.60 400.30h1.4v1.4h-1.4zM149.60 403.00h1.4v1.4h-1.4zM149.60 411.10h1.4v1.4h-1.4zM149.60 415.15h1.4v1.4h-1.4zM149.60 417.85h1.4v1.4h-1.4zM149.60 420.55h1.4v1.4h-1.4zM150.95 346.30h1.4v1.4h-1.4zM150.95 354.40h1.4v1.4h-1.4zM150.95 357.10h1.4v1.4h-1.4zM150.95 358.45h1.4v1.4h-1.4zM150.95 359.80h1.4v1.4h-1.4zM150.95 361.15h1.4v1.4h-1.4zM150.95 362.50h1.4v1.4h-1.4zM150.95 363.85h1.4v1.4h-1.4zM150.95 365.20h1.4v1.4h-1.4zM150.95 366.55h1.4v1.4h-1.4zM150.95 367.90h1.4v1.4h-1.4zM150.95 369.25h1.4v1.4h-1.4zM150.95 370.60h1.4v1.4h-1.4zM150.95 371.95h1.4v1.4h-1.4zM150.95 373.30h1.4v1.4h-1.4zM150.95 376.00h1.4v1.4h-1.4zM150.95 377.35h1.4v1.4h-1.4zM150.95 378.70h1.4v1.4h-1.4zM150.95 380.05h1.4v1.4h-1.4zM150.95 381.40h1.4v1.4h-1.4zM150.95 382.75h1.4v1.4h-1.4zM150.95 385.45h1.4v1.4h-1.4zM150.95 393.55h1.4v1.4h-1.4zM150.95 396.25h1.4v1.4h-1.4zM150.95 397.60h1.4v1.4h-1.4zM150.95 405.70h1.4v1.4h-1.4zM150.95 416.50h1.4v1.4h-1.4zM152.30 349.00h1.4v1.4h-1.4zM152.30 350.35h1.4v1.4h-1.4zM152.30 353.05h1.4v1.4h-1.4zM152.30 354.40h1.4v1.4h-1.4zM152.30 357.10h1.4v1.4h-1.4zM152.30 358.45h1.4v1.4h-1.4zM152.30 359.80h1.4v1.4h-1.4zM152.30 361.15h1.4v1.4h-1.4zM152.30 362.50h1.4v1.4h-1.4zM152.30 363.85h1.4v1.4h-1.4zM152.30 365.20h1.4v1.4h-1.4zM152.30 366.55h1.4v1.4h-1.4zM152.30 367.90h1.4v1.4h-1.4zM152.30 369.25h1.4v1.4h-1.4zM152.30 370.60h1.4v1.4h-1.4zM152.30 371.95h1.4v1.4h-1.4zM152.30 373.30h1.4v1.4h-1.4zM152.30 374.65h1.4v1.4h-1.4zM152.30 376.00h1.4v1.4h-1.4zM152.30 377.35h1.4v1.4h-1.4zM152.30 380.05h1.4v1.4h-1.4zM152.30 381.40h1.4v1.4h-1.4zM152.30 382.75h1.4v1.4h-1.4zM152.30 385.45h1.4v1.4h-1.4zM152.30 393.55h1.4v1.4h-1.4zM152.30 398.95h1.4v1.4h-1.4zM152.30 400.30h1.4v1.4h-1.4zM152.30 405.70h1.4v1.4h-1.4zM152.30 407.05h1.4v1.4h-1.4zM152.30 411.10h1.4v1.4h-1.4zM153.65 344.95h1.4v1.4h-1.4zM153.65 346.30h1.4v1.4h-1.4zM153.65 347.65h1.4v1.4h-1.4zM153.65 349.00h1.4v1.4h-1.4zM153.65 350.35h1.4v1.4h-1.4zM153.65 351.70h1.4v1.4h-1.4zM153.65 353.05h1.4v1.4h-1.4zM153.65 354.40h1.4v1.4h-1.4zM153.65 355.75h1.4v1.4h-1.4zM153.65 357.10h1.4v1.4h-1.4zM153.65 358.45h1.4v1.4h-1.4zM153.65 359.80h1.4v1.4h-1.4zM153.65 361.15h1.4v1.4h-1.4zM153.65 362.50h1.4v1.4h-1.4zM153.65 363.85h1.4v1.4h-1.4zM153.65 365.20h1.4v1.4h-1.4zM153.65 366.55h1.4v1.4h-1.4zM153.65 367.90h1.4v1.4h-1.4zM153.65 369.25h1.4v1.4h-1.4zM153.65 370.60h1.4v1.4h-1.4zM153.65 371.95h1.4v1.4h-1.4zM153.65 373.30h1.4v1.4h-1.4zM153.65 374.65h1.4v1.4h-1.4zM153.65 376.00h1.4v1.4h-1.4zM153.65 377.35h1.4v1.4h-1.4zM153.65 378.70h1.4v1.4h-1.4zM153.65 380.05h1.4v1.4h-1.4zM153.65 381.40h1.4v1.4h-1.4zM153.65 382.75h1.4v1.4h-1.4zM153.65 384.10h1.4v1.4h-1.4zM153.65 385.45h1.4v1.4h-1.4zM153.65 386.80h1.4v1.4h-1.4zM153.65 389.50h1.4v1.4h-1.4zM153.65 393.55h1.4v1.4h-1.4zM153.65 401.65h1.4v1.4h-1.4zM153.65 403.00h1.4v1.4h-1.4zM153.65 408.40h1.4v1.4h-1.4zM155.00 344.95h1.4v1.4h-1.4zM155.00 346.30h1.4v1.4h-1.4zM155.00 347.65h1.4v1.4h-1.4zM155.00 349.00h1.4v1.4h-1.4zM155.00 350.35h1.4v1.4h-1.4zM155.00 351.70h1.4v1.4h-1.4zM155.00 353.05h1.4v1.4h-1.4zM155.00 354.40h1.4v1.4h-1.4zM155.00 355.75h1.4v1.4h-1.4zM155.00 357.10h1.4v1.4h-1.4zM155.00 358.45h1.4v1.4h-1.4zM155.00 359.80h1.4v1.4h-1.4zM155.00 361.15h1.4v1.4h-1.4zM155.00 362.50h1.4v1.4h-1.4zM155.00 363.85h1.4v1.4h-1.4zM155.00 365.20h1.4v1.4h-1.4zM155.00 366.55h1.4v1.4h-1.4zM155.00 367.90h1.4v1.4h-1.4zM155.00 369.25h1.4v1.4h-1.4zM155.00 370.60h1.4v1.4h-1.4zM155.00 371.95h1.4v1.4h-1.4zM155.00 373.30h1.4v1.4h-1.4zM155.00 374.65h1.4v1.4h-1.4zM155.00 376.00h1.4v1.4h-1.4zM155.00 377.35h1.4v1.4h-1.4zM155.00 378.70h1.4v1.4h-1.4zM155.00 380.05h1.4v1.4h-1.4zM155.00 381.40h1.4v1.4h-1.4zM155.00 382.75h1.4v1.4h-1.4zM155.00 384.10h1.4v1.4h-1.4zM155.00 385.45h1.4v1.4h-1.4zM155.00 386.80h1.4v1.4h-1.4zM155.00 398.95h1.4v1.4h-1.4zM155.00 403.00h1.4v1.4h-1.4zM155.00 404.35h1.4v1.4h-1.4zM155.00 407.05h1.4v1.4h-1.4zM155.00 408.40h1.4v1.4h-1.4zM155.00 415.15h1.4v1.4h-1.4zM155.00 419.20h1.4v1.4h-1.4zM156.35 346.30h1.4v1.4h-1.4zM156.35 349.00h1.4v1.4h-1.4zM156.35 350.35h1.4v1.4h-1.4zM156.35 353.05h1.4v1.4h-1.4zM156.35 354.40h1.4v1.4h-1.4zM156.35 355.75h1.4v1.4h-1.4zM156.35 357.10h1.4v1.4h-1.4zM156.35 358.45h1.4v1.4h-1.4zM156.35 359.80h1.4v1.4h-1.4zM156.35 361.15h1.4v1.4h-1.4zM156.35 362.50h1.4v1.4h-1.4zM156.35 363.85h1.4v1.4h-1.4zM156.35 365.20h1.4v1.4h-1.4zM156.35 366.55h1.4v1.4h-1.4zM156.35 367.90h1.4v1.4h-1.4zM156.35 369.25h1.4v1.4h-1.4zM156.35 370.60h1.4v1.4h-1.4zM156.35 371.95h1.4v1.4h-1.4zM156.35 373.30h1.4v1.4h-1.4zM156.35 374.65h1.4v1.4h-1.4zM156.35 376.00h1.4v1.4h-1.4zM156.35 377.35h1.4v1.4h-1.4zM156.35 378.70h1.4v1.4h-1.4zM156.35 380.05h1.4v1.4h-1.4zM156.35 381.40h1.4v1.4h-1.4zM156.35 382.75h1.4v1.4h-1.4zM156.35 384.10h1.4v1.4h-1.4zM156.35 385.45h1.4v1.4h-1.4zM156.35 386.80h1.4v1.4h-1.4zM156.35 388.15h1.4v1.4h-1.4zM156.35 389.50h1.4v1.4h-1.4zM156.35 390.85h1.4v1.4h-1.4zM156.35 411.10h1.4v1.4h-1.4zM157.70 346.30h1.4v1.4h-1.4zM157.70 347.65h1.4v1.4h-1.4zM157.70 350.35h1.4v1.4h-1.4zM157.70 351.70h1.4v1.4h-1.4zM157.70 353.05h1.4v1.4h-1.4zM157.70 355.75h1.4v1.4h-1.4zM157.70 357.10h1.4v1.4h-1.4zM157.70 358.45h1.4v1.4h-1.4zM157.70 359.80h1.4v1.4h-1.4zM157.70 361.15h1.4v1.4h-1.4zM157.70 362.50h1.4v1.4h-1.4zM157.70 363.85h1.4v1.4h-1.4zM157.70 365.20h1.4v1.4h-1.4zM157.70 366.55h1.4v1.4h-1.4zM157.70 367.90h1.4v1.4h-1.4zM157.70 369.25h1.4v1.4h-1.4zM157.70 370.60h1.4v1.4h-1.4zM157.70 371.95h1.4v1.4h-1.4zM157.70 373.30h1.4v1.4h-1.4zM157.70 374.65h1.4v1.4h-1.4zM157.70 376.00h1.4v1.4h-1.4zM157.70 377.35h1.4v1.4h-1.4zM157.70 378.70h1.4v1.4h-1.4zM157.70 380.05h1.4v1.4h-1.4zM157.70 381.40h1.4v1.4h-1.4zM157.70 382.75h1.4v1.4h-1.4zM157.70 384.10h1.4v1.4h-1.4zM157.70 385.45h1.4v1.4h-1.4zM157.70 389.50h1.4v1.4h-1.4zM157.70 392.20h1.4v1.4h-1.4zM157.70 393.55h1.4v1.4h-1.4zM157.70 407.05h1.4v1.4h-1.4zM157.70 408.40h1.4v1.4h-1.4zM159.05 347.65h1.4v1.4h-1.4zM159.05 349.00h1.4v1.4h-1.4zM159.05 351.70h1.4v1.4h-1.4zM159.05 354.40h1.4v1.4h-1.4zM159.05 355.75h1.4v1.4h-1.4zM159.05 357.10h1.4v1.4h-1.4zM159.05 358.45h1.4v1.4h-1.4zM159.05 359.80h1.4v1.4h-1.4zM159.05 361.15h1.4v1.4h-1.4zM159.05 362.50h1.4v1.4h-1.4zM159.05 363.85h1.4v1.4h-1.4zM159.05 365.20h1.4v1.4h-1.4zM159.05 366.55h1.4v1.4h-1.4zM159.05 367.90h1.4v1.4h-1.4zM159.05 369.25h1.4v1.4h-1.4zM159.05 370.60h1.4v1.4h-1.4zM159.05 371.95h1.4v1.4h-1.4zM159.05 373.30h1.4v1.4h-1.4zM159.05 374.65h1.4v1.4h-1.4zM159.05 376.00h1.4v1.4h-1.4zM159.05 377.35h1.4v1.4h-1.4zM159.05 378.70h1.4v1.4h-1.4zM159.05 380.05h1.4v1.4h-1.4zM159.05 384.10h1.4v1.4h-1.4zM159.05 385.45h1.4v1.4h-1.4zM159.05 388.15h1.4v1.4h-1.4zM159.05 389.50h1.4v1.4h-1.4zM159.05 390.85h1.4v1.4h-1.4zM159.05 393.55h1.4v1.4h-1.4zM159.05 394.90h1.4v1.4h-1.4zM159.05 397.60h1.4v1.4h-1.4zM159.05 403.00h1.4v1.4h-1.4zM159.05 408.40h1.4v1.4h-1.4zM159.05 417.85h1.4v1.4h-1.4zM160.40 350.35h1.4v1.4h-1.4zM160.40 354.40h1.4v1.4h-1.4zM160.40 355.75h1.4v1.4h-1.4zM160.40 358.45h1.4v1.4h-1.4zM160.40 359.80h1.4v1.4h-1.4zM160.40 362.50h1.4v1.4h-1.4zM160.40 363.85h1.4v1.4h-1.4zM160.40 365.20h1.4v1.4h-1.4zM160.40 366.55h1.4v1.4h-1.4zM160.40 367.90h1.4v1.4h-1.4zM160.40 369.25h1.4v1.4h-1.4zM160.40 370.60h1.4v1.4h-1.4zM160.40 371.95h1.4v1.4h-1.4zM160.40 373.30h1.4v1.4h-1.4zM160.40 374.65h1.4v1.4h-1.4zM160.40 376.00h1.4v1.4h-1.4zM160.40 377.35h1.4v1.4h-1.4zM160.40 380.05h1.4v1.4h-1.4zM160.40 382.75h1.4v1.4h-1.4zM160.40 384.10h1.4v1.4h-1.4zM160.40 385.45h1.4v1.4h-1.4zM160.40 389.50h1.4v1.4h-1.4zM160.40 390.85h1.4v1.4h-1.4zM160.40 397.60h1.4v1.4h-1.4zM160.40 400.30h1.4v1.4h-1.4zM160.40 415.15h1.4v1.4h-1.4zM161.75 347.65h1.4v1.4h-1.4zM161.75 351.70h1.4v1.4h-1.4zM161.75 353.05h1.4v1.4h-1.4zM161.75 357.10h1.4v1.4h-1.4zM161.75 358.45h1.4v1.4h-1.4zM161.75 361.15h1.4v1.4h-1.4zM161.75 362.50h1.4v1.4h-1.4zM161.75 363.85h1.4v1.4h-1.4zM161.75 365.20h1.4v1.4h-1.4zM161.75 366.55h1.4v1.4h-1.4zM161.75 369.25h1.4v1.4h-1.4zM161.75 371.95h1.4v1.4h-1.4zM161.75 373.30h1.4v1.4h-1.4zM161.75 376.00h1.4v1.4h-1.4zM161.75 377.35h1.4v1.4h-1.4zM161.75 382.75h1.4v1.4h-1.4zM161.75 388.15h1.4v1.4h-1.4zM161.75 389.50h1.4v1.4h-1.4zM161.75 390.85h1.4v1.4h-1.4zM161.75 393.55h1.4v1.4h-1.4zM161.75 400.30h1.4v1.4h-1.4zM161.75 405.70h1.4v1.4h-1.4zM161.75 417.85h1.4v1.4h-1.4zM161.75 427.30h1.4v1.4h-1.4zM163.10 347.65h1.4v1.4h-1.4zM163.10 349.00h1.4v1.4h-1.4zM163.10 355.75h1.4v1.4h-1.4zM163.10 358.45h1.4v1.4h-1.4zM163.10 361.15h1.4v1.4h-1.4zM163.10 362.50h1.4v1.4h-1.4zM163.10 363.85h1.4v1.4h-1.4zM163.10 365.20h1.4v1.4h-1.4zM163.10 366.55h1.4v1.4h-1.4zM163.10 367.90h1.4v1.4h-1.4zM163.10 370.60h1.4v1.4h-1.4zM163.10 371.95h1.4v1.4h-1.4zM163.10 374.65h1.4v1.4h-1.4zM163.10 381.40h1.4v1.4h-1.4zM163.10 382.75h1.4v1.4h-1.4zM163.10 392.20h1.4v1.4h-1.4zM163.10 396.25h1.4v1.4h-1.4zM163.10 398.95h1.4v1.4h-1.4zM163.10 409.75h1.4v1.4h-1.4zM164.45 347.65h1.4v1.4h-1.4zM164.45 349.00h1.4v1.4h-1.4zM164.45 350.35h1.4v1.4h-1.4zM164.45 354.40h1.4v1.4h-1.4zM164.45 358.45h1.4v1.4h-1.4zM164.45 359.80h1.4v1.4h-1.4zM164.45 363.85h1.4v1.4h-1.4zM164.45 365.20h1.4v1.4h-1.4zM164.45 366.55h1.4v1.4h-1.4zM164.45 367.90h1.4v1.4h-1.4zM164.45 369.25h1.4v1.4h-1.4zM164.45 370.60h1.4v1.4h-1.4zM164.45 371.95h1.4v1.4h-1.4zM164.45 373.30h1.4v1.4h-1.4zM164.45 374.65h1.4v1.4h-1.4zM164.45 378.70h1.4v1.4h-1.4zM164.45 384.10h1.4v1.4h-1.4zM164.45 388.15h1.4v1.4h-1.4zM164.45 389.50h1.4v1.4h-1.4zM164.45 390.85h1.4v1.4h-1.4zM164.45 392.20h1.4v1.4h-1.4zM164.45 394.90h1.4v1.4h-1.4zM164.45 401.65h1.4v1.4h-1.4zM164.45 404.35h1.4v1.4h-1.4zM164.45 409.75h1.4v1.4h-1.4zM164.45 412.45h1.4v1.4h-1.4zM164.45 415.15h1.4v1.4h-1.4zM164.45 424.60h1.4v1.4h-1.4zM165.80 347.65h1.4v1.4h-1.4zM165.80 349.00h1.4v1.4h-1.4zM165.80 350.35h1.4v1.4h-1.4zM165.80 351.70h1.4v1.4h-1.4zM165.80 354.40h1.4v1.4h-1.4zM165.80 357.10h1.4v1.4h-1.4zM165.80 358.45h1.4v1.4h-1.4zM165.80 359.80h1.4v1.4h-1.4zM165.80 361.15h1.4v1.4h-1.4zM165.80 363.85h1.4v1.4h-1.4zM165.80 365.20h1.4v1.4h-1.4zM165.80 366.55h1.4v1.4h-1.4zM165.80 377.35h1.4v1.4h-1.4zM165.80 380.05h1.4v1.4h-1.4zM165.80 381.40h1.4v1.4h-1.4zM165.80 389.50h1.4v1.4h-1.4zM165.80 392.20h1.4v1.4h-1.4zM165.80 400.30h1.4v1.4h-1.4zM165.80 407.05h1.4v1.4h-1.4zM165.80 420.55h1.4v1.4h-1.4zM167.15 347.65h1.4v1.4h-1.4zM167.15 351.70h1.4v1.4h-1.4zM167.15 353.05h1.4v1.4h-1.4zM167.15 354.40h1.4v1.4h-1.4zM167.15 355.75h1.4v1.4h-1.4zM167.15 357.10h1.4v1.4h-1.4zM167.15 358.45h1.4v1.4h-1.4zM167.15 359.80h1.4v1.4h-1.4zM167.15 361.15h1.4v1.4h-1.4zM167.15 362.50h1.4v1.4h-1.4zM167.15 363.85h1.4v1.4h-1.4zM167.15 366.55h1.4v1.4h-1.4zM167.15 367.90h1.4v1.4h-1.4zM167.15 371.95h1.4v1.4h-1.4zM167.15 373.30h1.4v1.4h-1.4zM167.15 374.65h1.4v1.4h-1.4zM167.15 376.00h1.4v1.4h-1.4zM167.15 380.05h1.4v1.4h-1.4zM167.15 381.40h1.4v1.4h-1.4zM167.15 385.45h1.4v1.4h-1.4zM167.15 388.15h1.4v1.4h-1.4zM167.15 392.20h1.4v1.4h-1.4zM167.15 401.65h1.4v1.4h-1.4zM167.15 403.00h1.4v1.4h-1.4zM167.15 404.35h1.4v1.4h-1.4zM167.15 412.45h1.4v1.4h-1.4zM167.15 415.15h1.4v1.4h-1.4zM167.15 419.20h1.4v1.4h-1.4zM168.50 346.30h1.4v1.4h-1.4zM168.50 349.00h1.4v1.4h-1.4zM168.50 351.70h1.4v1.4h-1.4zM168.50 353.05h1.4v1.4h-1.4zM168.50 355.75h1.4v1.4h-1.4zM168.50 357.10h1.4v1.4h-1.4zM168.50 358.45h1.4v1.4h-1.4zM168.50 359.80h1.4v1.4h-1.4zM168.50 361.15h1.4v1.4h-1.4zM168.50 362.50h1.4v1.4h-1.4zM168.50 363.85h1.4v1.4h-1.4zM168.50 367.90h1.4v1.4h-1.4zM168.50 369.25h1.4v1.4h-1.4zM168.50 370.60h1.4v1.4h-1.4zM168.50 371.95h1.4v1.4h-1.4zM168.50 373.30h1.4v1.4h-1.4zM168.50 378.70h1.4v1.4h-1.4zM168.50 380.05h1.4v1.4h-1.4zM168.50 382.75h1.4v1.4h-1.4zM168.50 385.45h1.4v1.4h-1.4zM168.50 392.20h1.4v1.4h-1.4zM168.50 394.90h1.4v1.4h-1.4zM168.50 401.65h1.4v1.4h-1.4zM168.50 413.80h1.4v1.4h-1.4zM169.85 347.65h1.4v1.4h-1.4zM169.85 350.35h1.4v1.4h-1.4zM169.85 353.05h1.4v1.4h-1.4zM169.85 354.40h1.4v1.4h-1.4zM169.85 355.75h1.4v1.4h-1.4zM169.85 358.45h1.4v1.4h-1.4zM169.85 359.80h1.4v1.4h-1.4zM169.85 362.50h1.4v1.4h-1.4zM169.85 365.20h1.4v1.4h-1.4zM169.85 366.55h1.4v1.4h-1.4zM169.85 367.90h1.4v1.4h-1.4zM169.85 370.60h1.4v1.4h-1.4zM169.85 371.95h1.4v1.4h-1.4zM169.85 373.30h1.4v1.4h-1.4zM169.85 374.65h1.4v1.4h-1.4zM169.85 376.00h1.4v1.4h-1.4zM169.85 377.35h1.4v1.4h-1.4zM169.85 378.70h1.4v1.4h-1.4zM169.85 396.25h1.4v1.4h-1.4zM169.85 400.30h1.4v1.4h-1.4zM169.85 408.40h1.4v1.4h-1.4zM171.20 344.95h1.4v1.4h-1.4zM171.20 350.35h1.4v1.4h-1.4zM171.20 355.75h1.4v1.4h-1.4zM171.20 357.10h1.4v1.4h-1.4zM171.20 359.80h1.4v1.4h-1.4zM171.20 361.15h1.4v1.4h-1.4zM171.20 362.50h1.4v1.4h-1.4zM171.20 363.85h1.4v1.4h-1.4zM171.20 365.20h1.4v1.4h-1.4zM171.20 366.55h1.4v1.4h-1.4zM171.20 367.90h1.4v1.4h-1.4zM171.20 369.25h1.4v1.4h-1.4zM171.20 370.60h1.4v1.4h-1.4zM171.20 371.95h1.4v1.4h-1.4zM171.20 374.65h1.4v1.4h-1.4zM171.20 384.10h1.4v1.4h-1.4zM171.20 403.00h1.4v1.4h-1.4zM171.20 405.70h1.4v1.4h-1.4zM171.20 412.45h1.4v1.4h-1.4zM172.55 349.00h1.4v1.4h-1.4zM172.55 350.35h1.4v1.4h-1.4zM172.55 351.70h1.4v1.4h-1.4zM172.55 353.05h1.4v1.4h-1.4zM172.55 354.40h1.4v1.4h-1.4zM172.55 355.75h1.4v1.4h-1.4zM172.55 357.10h1.4v1.4h-1.4zM172.55 359.80h1.4v1.4h-1.4zM172.55 361.15h1.4v1.4h-1.4zM172.55 363.85h1.4v1.4h-1.4zM172.55 366.55h1.4v1.4h-1.4zM172.55 369.25h1.4v1.4h-1.4zM172.55 374.65h1.4v1.4h-1.4zM172.55 377.35h1.4v1.4h-1.4zM172.55 381.40h1.4v1.4h-1.4zM172.55 385.45h1.4v1.4h-1.4zM172.55 389.50h1.4v1.4h-1.4zM172.55 411.10h1.4v1.4h-1.4zM172.55 412.45h1.4v1.4h-1.4zM173.90 346.30h1.4v1.4h-1.4zM173.90 351.70h1.4v1.4h-1.4zM173.90 354.40h1.4v1.4h-1.4zM173.90 355.75h1.4v1.4h-1.4zM173.90 361.15h1.4v1.4h-1.4zM173.90 362.50h1.4v1.4h-1.4zM173.90 363.85h1.4v1.4h-1.4zM173.90 365.20h1.4v1.4h-1.4zM173.90 366.55h1.4v1.4h-1.4zM173.90 370.60h1.4v1.4h-1.4zM173.90 373.30h1.4v1.4h-1.4zM173.90 380.05h1.4v1.4h-1.4zM173.90 384.10h1.4v1.4h-1.4zM173.90 385.45h1.4v1.4h-1.4zM173.90 407.05h1.4v1.4h-1.4zM175.25 346.30h1.4v1.4h-1.4zM175.25 359.80h1.4v1.4h-1.4zM175.25 365.20h1.4v1.4h-1.4zM175.25 366.55h1.4v1.4h-1.4zM175.25 376.00h1.4v1.4h-1.4zM175.25 377.35h1.4v1.4h-1.4zM175.25 378.70h1.4v1.4h-1.4zM175.25 386.80h1.4v1.4h-1.4zM176.60 351.70h1.4v1.4h-1.4zM176.60 353.05h1.4v1.4h-1.4zM176.60 362.50h1.4v1.4h-1.4zM176.60 366.55h1.4v1.4h-1.4zM176.60 378.70h1.4v1.4h-1.4zM176.60 381.40h1.4v1.4h-1.4zM176.60 390.85h1.4v1.4h-1.4zM176.60 397.60h1.4v1.4h-1.4zM176.60 405.70h1.4v1.4h-1.4zM177.95 365.20h1.4v1.4h-1.4zM177.95 366.55h1.4v1.4h-1.4zM177.95 370.60h1.4v1.4h-1.4zM177.95 371.95h1.4v1.4h-1.4zM177.95 374.65h1.4v1.4h-1.4zM177.95 377.35h1.4v1.4h-1.4zM177.95 382.75h1.4v1.4h-1.4zM177.95 401.65h1.4v1.4h-1.4zM177.95 407.05h1.4v1.4h-1.4zM179.30 363.85h1.4v1.4h-1.4zM179.30 367.90h1.4v1.4h-1.4zM179.30 369.25h1.4v1.4h-1.4zM179.30 371.95h1.4v1.4h-1.4zM179.30 376.00h1.4v1.4h-1.4zM179.30 377.35h1.4v1.4h-1.4zM179.30 380.05h1.4v1.4h-1.4zM179.30 389.50h1.4v1.4h-1.4zM180.65 346.30h1.4v1.4h-1.4zM180.65 359.80h1.4v1.4h-1.4zM180.65 370.60h1.4v1.4h-1.4zM180.65 371.95h1.4v1.4h-1.4zM180.65 378.70h1.4v1.4h-1.4zM180.65 385.45h1.4v1.4h-1.4zM180.65 393.55h1.4v1.4h-1.4zM180.65 396.25h1.4v1.4h-1.4zM180.65 411.10h1.4v1.4h-1.4zM182.00 351.70h1.4v1.4h-1.4zM182.00 355.75h1.4v1.4h-1.4zM182.00 369.25h1.4v1.4h-1.4zM182.00 370.60h1.4v1.4h-1.4zM182.00 371.95h1.4v1.4h-1.4zM182.00 376.00h1.4v1.4h-1.4zM182.00 381.40h1.4v1.4h-1.4zM182.00 382.75h1.4v1.4h-1.4zM182.00 386.80h1.4v1.4h-1.4zM182.00 397.60h1.4v1.4h-1.4zM182.00 403.00h1.4v1.4h-1.4zM182.00 405.70h1.4v1.4h-1.4zM182.00 415.15h1.4v1.4h-1.4zM183.35 362.50h1.4v1.4h-1.4zM183.35 369.25h1.4v1.4h-1.4zM183.35 370.60h1.4v1.4h-1.4zM183.35 371.95h1.4v1.4h-1.4zM183.35 374.65h1.4v1.4h-1.4zM183.35 380.05h1.4v1.4h-1.4zM183.35 388.15h1.4v1.4h-1.4zM184.70 349.00h1.4v1.4h-1.4zM184.70 354.40h1.4v1.4h-1.4zM184.70 361.15h1.4v1.4h-1.4zM184.70 362.50h1.4v1.4h-1.4zM184.70 370.60h1.4v1.4h-1.4zM184.70 371.95h1.4v1.4h-1.4zM184.70 377.35h1.4v1.4h-1.4zM184.70 378.70h1.4v1.4h-1.4zM184.70 380.05h1.4v1.4h-1.4zM184.70 384.10h1.4v1.4h-1.4zM184.70 385.45h1.4v1.4h-1.4zM184.70 393.55h1.4v1.4h-1.4zM184.70 397.60h1.4v1.4h-1.4zM184.70 398.95h1.4v1.4h-1.4zM186.05 350.35h1.4v1.4h-1.4zM186.05 353.05h1.4v1.4h-1.4zM186.05 355.75h1.4v1.4h-1.4zM186.05 357.10h1.4v1.4h-1.4zM186.05 362.50h1.4v1.4h-1.4zM186.05 365.20h1.4v1.4h-1.4zM186.05 366.55h1.4v1.4h-1.4zM186.05 367.90h1.4v1.4h-1.4zM186.05 370.60h1.4v1.4h-1.4zM186.05 373.30h1.4v1.4h-1.4zM186.05 377.35h1.4v1.4h-1.4zM186.05 378.70h1.4v1.4h-1.4zM186.05 381.40h1.4v1.4h-1.4zM186.05 389.50h1.4v1.4h-1.4zM187.40 347.65h1.4v1.4h-1.4zM187.40 354.40h1.4v1.4h-1.4zM187.40 355.75h1.4v1.4h-1.4zM187.40 361.15h1.4v1.4h-1.4zM187.40 363.85h1.4v1.4h-1.4zM187.40 365.20h1.4v1.4h-1.4zM187.40 366.55h1.4v1.4h-1.4zM187.40 367.90h1.4v1.4h-1.4zM187.40 369.25h1.4v1.4h-1.4zM187.40 370.60h1.4v1.4h-1.4zM187.40 373.30h1.4v1.4h-1.4zM187.40 377.35h1.4v1.4h-1.4zM187.40 390.85h1.4v1.4h-1.4zM187.40 392.20h1.4v1.4h-1.4zM187.40 405.70h1.4v1.4h-1.4zM187.40 409.75h1.4v1.4h-1.4zM187.40 413.80h1.4v1.4h-1.4zM187.40 416.50h1.4v1.4h-1.4zM188.75 355.75h1.4v1.4h-1.4zM188.75 357.10h1.4v1.4h-1.4zM188.75 361.15h1.4v1.4h-1.4zM188.75 365.20h1.4v1.4h-1.4zM188.75 369.25h1.4v1.4h-1.4zM188.75 370.60h1.4v1.4h-1.4zM188.75 378.70h1.4v1.4h-1.4zM188.75 380.05h1.4v1.4h-1.4zM188.75 381.40h1.4v1.4h-1.4zM188.75 394.90h1.4v1.4h-1.4zM188.75 405.70h1.4v1.4h-1.4zM190.10 336.85h1.4v1.4h-1.4zM190.10 362.50h1.4v1.4h-1.4zM190.10 365.20h1.4v1.4h-1.4zM190.10 367.90h1.4v1.4h-1.4zM190.10 370.60h1.4v1.4h-1.4zM190.10 373.30h1.4v1.4h-1.4zM190.10 374.65h1.4v1.4h-1.4zM190.10 380.05h1.4v1.4h-1.4zM190.10 382.75h1.4v1.4h-1.4zM190.10 384.10h1.4v1.4h-1.4zM190.10 385.45h1.4v1.4h-1.4zM190.10 396.25h1.4v1.4h-1.4zM190.10 401.65h1.4v1.4h-1.4zM191.45 366.55h1.4v1.4h-1.4zM191.45 369.25h1.4v1.4h-1.4zM191.45 370.60h1.4v1.4h-1.4zM191.45 376.00h1.4v1.4h-1.4zM191.45 381.40h1.4v1.4h-1.4zM191.45 384.10h1.4v1.4h-1.4zM191.45 386.80h1.4v1.4h-1.4zM191.45 390.85h1.4v1.4h-1.4zM192.80 358.45h1.4v1.4h-1.4zM192.80 362.50h1.4v1.4h-1.4zM192.80 370.60h1.4v1.4h-1.4zM192.80 381.40h1.4v1.4h-1.4zM194.15 367.90h1.4v1.4h-1.4zM194.15 382.75h1.4v1.4h-1.4zM194.15 403.00h1.4v1.4h-1.4zM195.50 381.40h1.4v1.4h-1.4zM200.90 376.00h1.4v1.4h-1.4zM204.95 378.70h1.4v1.4h-1.4z" fill="#0a0a0a"/>
<path d="M304.8 434.9L303.8 259.9L511.4 259.8" fill="none" stroke="#0c0c0c" stroke-width="1.35" stroke-linejoin="miter"/>
<path d="M511.4 259.8L512.3 434.6" fill="none" stroke="#0c0c0c" stroke-width="1.05"/>
<path d="M304.2 434.9L512.8 434.6" fill="none" stroke="#0c0c0c" stroke-width="1.35"/>
<path d="M305.70 434.90v6.4M304.79 433.65h-5.8M321.11 434.88v3.6M304.72 420.63h-3.3M330.12 434.86v3.6M304.67 413.01h-3.3M336.51 434.85v3.6M304.64 407.60h-3.3M341.47 434.85v3.6M304.62 403.41h-3.3M345.52 434.84v3.6M304.60 399.99h-3.3M348.95 434.84v3.6M304.58 397.09h-3.3M351.92 434.83v3.6M304.57 394.58h-3.3M354.53 434.83v3.6M304.56 392.37h-3.3M356.88 434.82v6.4M304.55 390.39h-5.8M372.28 434.80v3.6M304.47 377.36h-3.3M381.29 434.79v3.6M304.43 369.75h-3.3M387.69 434.78v3.6M304.40 364.34h-3.3M392.64 434.77v3.6M304.37 360.15h-3.3M396.70 434.77v3.6M304.35 356.72h-3.3M400.12 434.76v3.6M304.34 353.83h-3.3M403.09 434.76v3.6M304.32 351.32h-3.3M405.71 434.75v3.6M304.31 349.10h-3.3M408.05 434.75v6.4M304.30 347.12h-5.8M423.46 434.73v3.6M304.22 334.10h-3.3M432.47 434.72v3.6M304.18 326.48h-3.3M438.86 434.71v3.6M304.15 321.08h-3.3M443.82 434.70v3.6M304.13 316.89h-3.3M447.87 434.69v3.6M304.11 313.46h-3.3M451.30 434.69v3.6M304.09 310.56h-3.3M454.27 434.68v3.6M304.08 308.06h-3.3M456.88 434.68v3.6M304.06 305.84h-3.3M459.22 434.68v6.4M304.05 303.86h-5.8M474.63 434.65v3.6M303.98 290.84h-3.3M483.64 434.64v3.6M303.93 283.22h-3.3M490.04 434.63v3.6M303.90 277.82h-3.3M494.99 434.63v3.6M303.88 273.62h-3.3M499.05 434.62v3.6M303.86 270.20h-3.3M502.47 434.61v3.6M303.84 267.30h-3.3M505.44 434.61v3.6M303.83 264.79h-3.3M508.06 434.61v3.6M303.82 262.58h-3.3M510.40 434.60v6.4M303.80 260.60h-5.8" stroke="#0c0c0c" stroke-width="1.3" fill="none"/>
<use href="#one" x="300.10" y="454.20"/><g transform="translate(304.90,454.20)"><text class="t" transform="scale(0.92,1)">0</text></g><g transform="translate(311.50,447.30)"><text class="e" transform="scale(0.78,1)">0</text></g>
<g transform="translate(294.50,433.05) rotate(-90)"><use href="#one" x="-6.9"/><g transform="translate(-1.5,0)"><text class="t" transform="scale(0.92,1)">0</text></g><g transform="translate(7.1,-6.5)"><text class="ey" transform="scale(1.0,1)">0</text></g></g>
<use href="#one" x="351.27" y="454.20"/><g transform="translate(356.07,454.20)"><text class="t" transform="scale(0.92,1)">0</text></g><g transform="translate(362.68,447.30)"><use href="#one" x="1.2"/></g>
<g transform="translate(294.50,389.79) rotate(-90)"><use href="#one" x="-6.9"/><g transform="translate(-1.5,0)"><text class="t" transform="scale(0.92,1)">0</text></g><g transform="translate(7.1,-6.5)"><use href="#one" x="1.2"/></g></g>
<use href="#one" x="402.45" y="454.20"/><g transform="translate(407.25,454.20)"><text class="t" transform="scale(0.92,1)">0</text></g><g transform="translate(413.85,447.30)"><text class="e" transform="scale(0.78,1)">2</text></g>
<g transform="translate(294.50,346.52) rotate(-90)"><use href="#one" x="-6.9"/><g transform="translate(-1.5,0)"><text class="t" transform="scale(0.92,1)">0</text></g><g transform="translate(7.1,-6.5)"><text class="ey" transform="scale(1.0,1)">2</text></g></g>
<use href="#one" x="453.62" y="454.20"/><g transform="translate(458.42,454.20)"><text class="t" transform="scale(0.92,1)">0</text></g><g transform="translate(465.02,447.30)"><text class="e" transform="scale(0.78,1)">3</text></g>
<g transform="translate(294.50,303.26) rotate(-90)"><use href="#one" x="-6.9"/><g transform="translate(-1.5,0)"><text class="t" transform="scale(0.92,1)">0</text></g><g transform="translate(7.1,-6.5)"><text class="ey" transform="scale(1.0,1)">3</text></g></g>
<use href="#one" x="504.80" y="454.20"/><g transform="translate(509.60,454.20)"><text class="t" transform="scale(0.92,1)">0</text></g><g transform="translate(516.20,447.30)"><text class="e" transform="scale(0.78,1)">4</text></g>
<g transform="translate(294.50,260.00) rotate(-90)"><use href="#one" x="-6.9"/><g transform="translate(-1.5,0)"><text class="t" transform="scale(0.92,1)">0</text></g><rect x="4.6" y="-8.6" width="1.1" height="1.1" fill="#222"/></g>
<g transform="translate(398.2,466.6)"><text class="a" transform="scale(0.82,1)">FL</text><use href="#one" x="16.1" y="0" transform="scale(1,1.08)" style="stroke-width:1.5"/></g>
<g transform="translate(280.7,357.9) rotate(-90)"><text class="a" style="font-size:12.2px" transform="scale(0.95,1)">FL2</text></g>
<text class="b" font-size="27.2" transform="translate(326.0,297.79999999999995) scale(0.995,1.03)" xml:space="preserve">-5GF +STI</text>
<path d="M306.35 381.65h1.4v1.4h-1.4zM306.35 392.45h1.4v1.4h-1.4zM306.35 407.30h1.4v1.4h-1.4zM306.35 418.10h1.4v1.4h-1.4zM307.70 387.05h1.4v1.4h-1.4zM307.70 415.40h1.4v1.4h-1.4zM310.40 400.55h1.4v1.4h-1.4zM313.10 416.75h1.4v1.4h-1.4zM314.45 415.40h1.4v1.4h-1.4zM315.80 391.10h1.4v1.4h-1.4zM315.80 405.95h1.4v1.4h-1.4zM319.85 383.00h1.4v1.4h-1.4zM323.90 396.50h1.4v1.4h-1.4zM325.25 381.65h1.4v1.4h-1.4zM325.25 387.05h1.4v1.4h-1.4zM326.60 381.65h1.4v1.4h-1.4zM333.35 376.25h1.4v1.4h-1.4zM334.70 383.00h1.4v1.4h-1.4zM336.05 383.00h1.4v1.4h-1.4zM338.75 370.85h1.4v1.4h-1.4zM340.10 383.00h1.4v1.4h-1.4zM341.45 385.70h1.4v1.4h-1.4zM342.80 395.15h1.4v1.4h-1.4zM346.85 392.45h1.4v1.4h-1.4zM349.55 381.65h1.4v1.4h-1.4zM350.90 388.40h1.4v1.4h-1.4zM352.25 373.55h1.4v1.4h-1.4zM354.95 392.45h1.4v1.4h-1.4zM361.70 365.45h1.4v1.4h-1.4zM364.40 410.00h1.4v1.4h-1.4zM375.20 356.00h1.4v1.4h-1.4zM375.20 357.35h1.4v1.4h-1.4zM375.20 374.90h1.4v1.4h-1.4zM376.55 362.75h1.4v1.4h-1.4zM376.55 364.10h1.4v1.4h-1.4zM381.95 361.40h1.4v1.4h-1.4zM381.95 380.30h1.4v1.4h-1.4zM383.30 389.75h1.4v1.4h-1.4zM384.65 357.35h1.4v1.4h-1.4zM384.65 408.65h1.4v1.4h-1.4zM387.35 378.95h1.4v1.4h-1.4zM387.35 401.90h1.4v1.4h-1.4zM388.70 358.70h1.4v1.4h-1.4zM388.70 407.30h1.4v1.4h-1.4zM390.05 385.70h1.4v1.4h-1.4zM391.40 412.70h1.4v1.4h-1.4zM392.75 356.00h1.4v1.4h-1.4zM392.75 374.90h1.4v1.4h-1.4zM392.75 381.65h1.4v1.4h-1.4zM392.75 383.00h1.4v1.4h-1.4zM392.75 405.95h1.4v1.4h-1.4zM394.10 350.60h1.4v1.4h-1.4zM395.45 365.45h1.4v1.4h-1.4zM395.45 373.55h1.4v1.4h-1.4zM395.45 392.45h1.4v1.4h-1.4zM395.45 410.00h1.4v1.4h-1.4zM396.80 361.40h1.4v1.4h-1.4zM396.80 370.85h1.4v1.4h-1.4zM396.80 387.05h1.4v1.4h-1.4zM396.80 392.45h1.4v1.4h-1.4zM396.80 416.75h1.4v1.4h-1.4zM398.15 331.70h1.4v1.4h-1.4zM398.15 357.35h1.4v1.4h-1.4zM398.15 365.45h1.4v1.4h-1.4zM398.15 366.80h1.4v1.4h-1.4zM398.15 383.00h1.4v1.4h-1.4zM399.50 356.00h1.4v1.4h-1.4zM399.50 364.10h1.4v1.4h-1.4zM399.50 366.80h1.4v1.4h-1.4zM400.85 364.10h1.4v1.4h-1.4zM400.85 388.40h1.4v1.4h-1.4zM400.85 412.70h1.4v1.4h-1.4zM402.20 341.15h1.4v1.4h-1.4zM402.20 350.60h1.4v1.4h-1.4zM402.20 356.00h1.4v1.4h-1.4zM402.20 364.10h1.4v1.4h-1.4zM402.20 380.30h1.4v1.4h-1.4zM402.20 401.90h1.4v1.4h-1.4zM402.20 407.30h1.4v1.4h-1.4zM403.55 358.70h1.4v1.4h-1.4zM403.55 361.40h1.4v1.4h-1.4zM403.55 373.55h1.4v1.4h-1.4zM404.90 346.55h1.4v1.4h-1.4zM404.90 349.25h1.4v1.4h-1.4zM404.90 353.30h1.4v1.4h-1.4zM404.90 357.35h1.4v1.4h-1.4zM404.90 364.10h1.4v1.4h-1.4zM404.90 369.50h1.4v1.4h-1.4zM404.90 377.60h1.4v1.4h-1.4zM406.25 339.80h1.4v1.4h-1.4zM406.25 353.30h1.4v1.4h-1.4zM406.25 356.00h1.4v1.4h-1.4zM406.25 360.05h1.4v1.4h-1.4zM406.25 361.40h1.4v1.4h-1.4zM406.25 362.75h1.4v1.4h-1.4zM406.25 365.45h1.4v1.4h-1.4zM406.25 370.85h1.4v1.4h-1.4zM406.25 372.20h1.4v1.4h-1.4zM406.25 401.90h1.4v1.4h-1.4zM407.60 345.20h1.4v1.4h-1.4zM407.60 357.35h1.4v1.4h-1.4zM407.60 360.05h1.4v1.4h-1.4zM407.60 364.10h1.4v1.4h-1.4zM407.60 366.80h1.4v1.4h-1.4zM407.60 391.10h1.4v1.4h-1.4zM408.95 345.20h1.4v1.4h-1.4zM408.95 356.00h1.4v1.4h-1.4zM408.95 358.70h1.4v1.4h-1.4zM408.95 361.40h1.4v1.4h-1.4zM408.95 364.10h1.4v1.4h-1.4zM408.95 370.85h1.4v1.4h-1.4zM408.95 372.20h1.4v1.4h-1.4zM408.95 384.35h1.4v1.4h-1.4zM410.30 350.60h1.4v1.4h-1.4zM410.30 357.35h1.4v1.4h-1.4zM410.30 362.75h1.4v1.4h-1.4zM410.30 364.10h1.4v1.4h-1.4zM410.30 368.15h1.4v1.4h-1.4zM410.30 373.55h1.4v1.4h-1.4zM410.30 378.95h1.4v1.4h-1.4zM410.30 426.20h1.4v1.4h-1.4zM411.65 347.90h1.4v1.4h-1.4zM411.65 356.00h1.4v1.4h-1.4zM411.65 360.05h1.4v1.4h-1.4zM411.65 366.80h1.4v1.4h-1.4zM411.65 370.85h1.4v1.4h-1.4zM411.65 378.95h1.4v1.4h-1.4zM411.65 389.75h1.4v1.4h-1.4zM411.65 392.45h1.4v1.4h-1.4zM413.00 353.30h1.4v1.4h-1.4zM413.00 366.80h1.4v1.4h-1.4zM413.00 372.20h1.4v1.4h-1.4zM413.00 373.55h1.4v1.4h-1.4zM413.00 376.25h1.4v1.4h-1.4zM413.00 385.70h1.4v1.4h-1.4zM414.35 353.30h1.4v1.4h-1.4zM414.35 358.70h1.4v1.4h-1.4zM414.35 360.05h1.4v1.4h-1.4zM414.35 366.80h1.4v1.4h-1.4zM414.35 368.15h1.4v1.4h-1.4zM414.35 370.85h1.4v1.4h-1.4zM414.35 372.20h1.4v1.4h-1.4zM415.70 350.60h1.4v1.4h-1.4zM415.70 356.00h1.4v1.4h-1.4zM415.70 357.35h1.4v1.4h-1.4zM415.70 365.45h1.4v1.4h-1.4zM415.70 369.50h1.4v1.4h-1.4zM415.70 370.85h1.4v1.4h-1.4zM415.70 376.25h1.4v1.4h-1.4zM415.70 377.60h1.4v1.4h-1.4zM415.70 389.75h1.4v1.4h-1.4zM417.05 339.80h1.4v1.4h-1.4zM417.05 354.65h1.4v1.4h-1.4zM417.05 356.00h1.4v1.4h-1.4zM417.05 361.40h1.4v1.4h-1.4zM417.05 365.45h1.4v1.4h-1.4zM417.05 366.80h1.4v1.4h-1.4zM417.05 368.15h1.4v1.4h-1.4zM417.05 370.85h1.4v1.4h-1.4zM417.05 376.25h1.4v1.4h-1.4zM417.05 385.70h1.4v1.4h-1.4zM417.05 387.05h1.4v1.4h-1.4zM417.05 393.80h1.4v1.4h-1.4zM418.40 351.95h1.4v1.4h-1.4zM418.40 358.70h1.4v1.4h-1.4zM418.40 360.05h1.4v1.4h-1.4zM418.40 362.75h1.4v1.4h-1.4zM418.40 365.45h1.4v1.4h-1.4zM418.40 366.80h1.4v1.4h-1.4zM418.40 369.50h1.4v1.4h-1.4zM418.40 373.55h1.4v1.4h-1.4zM418.40 374.90h1.4v1.4h-1.4zM418.40 377.60h1.4v1.4h-1.4zM418.40 378.95h1.4v1.4h-1.4zM419.75 335.75h1.4v1.4h-1.4zM419.75 351.95h1.4v1.4h-1.4zM419.75 353.30h1.4v1.4h-1.4zM419.75 361.40h1.4v1.4h-1.4zM419.75 364.10h1.4v1.4h-1.4zM419.75 365.45h1.4v1.4h-1.4zM419.75 366.80h1.4v1.4h-1.4zM419.75 368.15h1.4v1.4h-1.4zM419.75 370.85h1.4v1.4h-1.4zM419.75 372.20h1.4v1.4h-1.4zM419.75 374.90h1.4v1.4h-1.4zM419.75 383.00h1.4v1.4h-1.4zM419.75 389.75h1.4v1.4h-1.4zM421.10 351.95h1.4v1.4h-1.4zM421.10 353.30h1.4v1.4h-1.4zM421.10 357.35h1.4v1.4h-1.4zM421.10 358.70h1.4v1.4h-1.4zM421.10 361.40h1.4v1.4h-1.4zM421.10 364.10h1.4v1.4h-1.4zM421.10 365.45h1.4v1.4h-1.4zM421.10 366.80h1.4v1.4h-1.4zM421.10 369.50h1.4v1.4h-1.4zM421.10 370.85h1.4v1.4h-1.4zM421.10 372.20h1.4v1.4h-1.4zM421.10 377.60h1.4v1.4h-1.4zM421.10 381.65h1.4v1.4h-1.4zM421.10 383.00h1.4v1.4h-1.4zM421.10 396.50h1.4v1.4h-1.4zM421.10 426.20h1.4v1.4h-1.4zM422.45 346.55h1.4v1.4h-1.4zM422.45 360.05h1.4v1.4h-1.4zM422.45 362.75h1.4v1.4h-1.4zM422.45 364.10h1.4v1.4h-1.4zM422.45 366.80h1.4v1.4h-1.4zM422.45 368.15h1.4v1.4h-1.4zM422.45 370.85h1.4v1.4h-1.4zM422.45 372.20h1.4v1.4h-1.4zM422.45 373.55h1.4v1.4h-1.4zM422.45 391.10h1.4v1.4h-1.4zM423.80 351.95h1.4v1.4h-1.4zM423.80 353.30h1.4v1.4h-1.4zM423.80 354.65h1.4v1.4h-1.4zM423.80 357.35h1.4v1.4h-1.4zM423.80 358.70h1.4v1.4h-1.4zM423.80 361.40h1.4v1.4h-1.4zM423.80 365.45h1.4v1.4h-1.4zM423.80 366.80h1.4v1.4h-1.4zM423.80 368.15h1.4v1.4h-1.4zM423.80 369.50h1.4v1.4h-1.4zM423.80 370.85h1.4v1.4h-1.4zM423.80 373.55h1.4v1.4h-1.4zM423.80 374.90h1.4v1.4h-1.4zM423.80 380.30h1.4v1.4h-1.4zM423.80 384.35h1.4v1.4h-1.4zM425.15 310.10h1.4v1.4h-1.4zM425.15 339.80h1.4v1.4h-1.4zM425.15 343.85h1.4v1.4h-1.4zM425.15 354.65h1.4v1.4h-1.4zM425.15 361.40h1.4v1.4h-1.4zM425.15 362.75h1.4v1.4h-1.4zM425.15 366.80h1.4v1.4h-1.4zM425.15 368.15h1.4v1.4h-1.4zM425.15 370.85h1.4v1.4h-1.4zM425.15 373.55h1.4v1.4h-1.4zM425.15 376.25h1.4v1.4h-1.4zM425.15 377.60h1.4v1.4h-1.4zM425.15 380.30h1.4v1.4h-1.4zM425.15 381.65h1.4v1.4h-1.4zM425.15 384.35h1.4v1.4h-1.4zM425.15 395.15h1.4v1.4h-1.4zM426.50 346.55h1.4v1.4h-1.4zM426.50 357.35h1.4v1.4h-1.4zM426.50 362.75h1.4v1.4h-1.4zM426.50 364.10h1.4v1.4h-1.4zM426.50 365.45h1.4v1.4h-1.4zM426.50 366.80h1.4v1.4h-1.4zM426.50 369.50h1.4v1.4h-1.4zM426.50 370.85h1.4v1.4h-1.4zM426.50 372.20h1.4v1.4h-1.4zM426.50 373.55h1.4v1.4h-1.4zM426.50 376.25h1.4v1.4h-1.4zM426.50 377.60h1.4v1.4h-1.4zM426.50 378.95h1.4v1.4h-1.4zM426.50 380.30h1.4v1.4h-1.4zM426.50 381.65h1.4v1.4h-1.4zM426.50 384.35h1.4v1.4h-1.4zM427.85 354.65h1.4v1.4h-1.4zM427.85 356.00h1.4v1.4h-1.4zM427.85 360.05h1.4v1.4h-1.4zM427.85 361.40h1.4v1.4h-1.4zM427.85 372.20h1.4v1.4h-1.4zM427.85 376.25h1.4v1.4h-1.4zM427.85 377.60h1.4v1.4h-1.4zM427.85 380.30h1.4v1.4h-1.4zM429.20 316.85h1.4v1.4h-1.4zM429.20 349.25h1.4v1.4h-1.4zM429.20 350.60h1.4v1.4h-1.4zM429.20 356.00h1.4v1.4h-1.4zM429.20 358.70h1.4v1.4h-1.4zM429.20 361.40h1.4v1.4h-1.4zM429.20 362.75h1.4v1.4h-1.4zM429.20 364.10h1.4v1.4h-1.4zM429.20 366.80h1.4v1.4h-1.4zM429.20 368.15h1.4v1.4h-1.4zM429.20 369.50h1.4v1.4h-1.4zM429.20 370.85h1.4v1.4h-1.4zM429.20 373.55h1.4v1.4h-1.4zM429.20 374.90h1.4v1.4h-1.4zM429.20 377.60h1.4v1.4h-1.4zM429.20 383.00h1.4v1.4h-1.4zM429.20 385.70h1.4v1.4h-1.4zM429.20 387.05h1.4v1.4h-1.4zM430.55 351.95h1.4v1.4h-1.4zM430.55 354.65h1.4v1.4h-1.4zM430.55 356.00h1.4v1.4h-1.4zM430.55 369.50h1.4v1.4h-1.4zM430.55 370.85h1.4v1.4h-1.4zM430.55 372.20h1.4v1.4h-1.4zM430.55 376.25h1.4v1.4h-1.4zM430.55 380.30h1.4v1.4h-1.4zM430.55 384.35h1.4v1.4h-1.4zM430.55 385.70h1.4v1.4h-1.4zM431.90 338.45h1.4v1.4h-1.4zM431.90 347.90h1.4v1.4h-1.4zM431.90 356.00h1.4v1.4h-1.4zM431.90 357.35h1.4v1.4h-1.4zM431.90 358.70h1.4v1.4h-1.4zM431.90 360.05h1.4v1.4h-1.4zM431.90 361.40h1.4v1.4h-1.4zM431.90 362.75h1.4v1.4h-1.4zM431.90 364.10h1.4v1.4h-1.4zM431.90 365.45h1.4v1.4h-1.4zM431.90 366.80h1.4v1.4h-1.4zM431.90 369.50h1.4v1.4h-1.4zM431.90 370.85h1.4v1.4h-1.4zM431.90 372.20h1.4v1.4h-1.4zM431.90 373.55h1.4v1.4h-1.4zM431.90 374.90h1.4v1.4h-1.4zM431.90 376.25h1.4v1.4h-1.4zM431.90 383.00h1.4v1.4h-1.4zM431.90 391.10h1.4v1.4h-1.4zM433.25 324.95h1.4v1.4h-1.4zM433.25 337.10h1.4v1.4h-1.4zM433.25 343.85h1.4v1.4h-1.4zM433.25 347.90h1.4v1.4h-1.4zM433.25 349.25h1.4v1.4h-1.4zM433.25 351.95h1.4v1.4h-1.4zM433.25 353.30h1.4v1.4h-1.4zM433.25 356.00h1.4v1.4h-1.4zM433.25 357.35h1.4v1.4h-1.4zM433.25 358.70h1.4v1.4h-1.4zM433.25 360.05h1.4v1.4h-1.4zM433.25 361.40h1.4v1.4h-1.4zM433.25 362.75h1.4v1.4h-1.4zM433.25 364.10h1.4v1.4h-1.4zM433.25 365.45h1.4v1.4h-1.4zM433.25 366.80h1.4v1.4h-1.4zM433.25 368.15h1.4v1.4h-1.4zM433.25 369.50h1.4v1.4h-1.4zM433.25 373.55h1.4v1.4h-1.4zM433.25 374.90h1.4v1.4h-1.4zM433.25 376.25h1.4v1.4h-1.4zM433.25 377.60h1.4v1.4h-1.4zM433.25 378.95h1.4v1.4h-1.4zM433.25 380.30h1.4v1.4h-1.4zM433.25 383.00h1.4v1.4h-1.4zM433.25 397.85h1.4v1.4h-1.4zM433.25 408.65h1.4v1.4h-1.4zM434.60 345.20h1.4v1.4h-1.4zM434.60 346.55h1.4v1.4h-1.4zM434.60 347.90h1.4v1.4h-1.4zM434.60 349.25h1.4v1.4h-1.4zM434.60 350.60h1.4v1.4h-1.4zM434.60 351.95h1.4v1.4h-1.4zM434.60 354.65h1.4v1.4h-1.4zM434.60 358.70h1.4v1.4h-1.4zM434.60 360.05h1.4v1.4h-1.4zM434.60 362.75h1.4v1.4h-1.4zM434.60 364.10h1.4v1.4h-1.4zM434.60 366.80h1.4v1.4h-1.4zM434.60 368.15h1.4v1.4h-1.4zM434.60 370.85h1.4v1.4h-1.4zM434.60 372.20h1.4v1.4h-1.4zM434.60 374.90h1.4v1.4h-1.4zM434.60 377.60h1.4v1.4h-1.4zM434.60 378.95h1.4v1.4h-1.4zM434.60 380.30h1.4v1.4h-1.4zM434.60 384.35h1.4v1.4h-1.4zM434.60 385.70h1.4v1.4h-1.4zM434.60 387.05h1.4v1.4h-1.4zM434.60 389.75h1.4v1.4h-1.4zM434.60 391.10h1.4v1.4h-1.4zM434.60 392.45h1.4v1.4h-1.4zM434.60 393.80h1.4v1.4h-1.4zM434.60 396.50h1.4v1.4h-1.4zM434.60 400.55h1.4v1.4h-1.4zM434.60 404.60h1.4v1.4h-1.4zM434.60 405.95h1.4v1.4h-1.4zM435.95 339.80h1.4v1.4h-1.4zM435.95 341.15h1.4v1.4h-1.4zM435.95 343.85h1.4v1.4h-1.4zM435.95 345.20h1.4v1.4h-1.4zM435.95 349.25h1.4v1.4h-1.4zM435.95 353.30h1.4v1.4h-1.4zM435.95 356.00h1.4v1.4h-1.4zM435.95 357.35h1.4v1.4h-1.4zM435.95 358.70h1.4v1.4h-1.4zM435.95 361.40h1.4v1.4h-1.4zM435.95 362.75h1.4v1.4h-1.4zM435.95 364.10h1.4v1.4h-1.4zM435.95 365.45h1.4v1.4h-1.4zM435.95 366.80h1.4v1.4h-1.4zM435.95 368.15h1.4v1.4h-1.4zM435.95 369.50h1.4v1.4h-1.4zM435.95 370.85h1.4v1.4h-1.4zM435.95 372.20h1.4v1.4h-1.4zM435.95 373.55h1.4v1.4h-1.4zM435.95 376.25h1.4v1.4h-1.4zM435.95 380.30h1.4v1.4h-1.4zM435.95 383.00h1.4v1.4h-1.4zM435.95 384.35h1.4v1.4h-1.4zM435.95 387.05h1.4v1.4h-1.4zM435.95 388.40h1.4v1.4h-1.4zM435.95 389.75h1.4v1.4h-1.4zM435.95 395.15h1.4v1.4h-1.4zM435.95 396.50h1.4v1.4h-1.4zM435.95 405.95h1.4v1.4h-1.4zM435.95 407.30h1.4v1.4h-1.4zM435.95 410.00h1.4v1.4h-1.4zM437.30 319.55h1.4v1.4h-1.4zM437.30 342.50h1.4v1.4h-1.4zM437.30 345.20h1.4v1.4h-1.4zM437.30 346.55h1.4v1.4h-1.4zM437.30 349.25h1.4v1.4h-1.4zM437.30 350.60h1.4v1.4h-1.4zM437.30 351.95h1.4v1.4h-1.4zM437.30 353.30h1.4v1.4h-1.4zM437.30 356.00h1.4v1.4h-1.4zM437.30 357.35h1.4v1.4h-1.4zM437.30 358.70h1.4v1.4h-1.4zM437.30 360.05h1.4v1.4h-1.4zM437.30 361.40h1.4v1.4h-1.4zM437.30 362.75h1.4v1.4h-1.4zM437.30 364.10h1.4v1.4h-1.4zM437.30 365.45h1.4v1.4h-1.4zM437.30 366.80h1.4v1.4h-1.4zM437.30 368.15h1.4v1.4h-1.4zM437.30 369.50h1.4v1.4h-1.4zM437.30 370.85h1.4v1.4h-1.4zM437.30 372.20h1.4v1.4h-1.4zM437.30 374.90h1.4v1.4h-1.4zM437.30 376.25h1.4v1.4h-1.4zM437.30 377.60h1.4v1.4h-1.4zM437.30 378.95h1.4v1.4h-1.4zM437.30 380.30h1.4v1.4h-1.4zM437.30 381.65h1.4v1.4h-1.4zM437.30 383.00h1.4v1.4h-1.4zM437.30 385.70h1.4v1.4h-1.4zM437.30 387.05h1.4v1.4h-1.4zM437.30 388.40h1.4v1.4h-1.4zM437.30 389.75h1.4v1.4h-1.4zM438.65 314.15h1.4v1.4h-1.4zM438.65 349.25h1.4v1.4h-1.4zM438.65 351.95h1.4v1.4h-1.4zM438.65 354.65h1.4v1.4h-1.4zM438.65 356.00h1.4v1.4h-1.4zM438.65 357.35h1.4v1.4h-1.4zM438.65 360.05h1.4v1.4h-1.4zM438.65 361.40h1.4v1.4h-1.4zM438.65 362.75h1.4v1.4h-1.4zM438.65 364.10h1.4v1.4h-1.4zM438.65 365.45h1.4v1.4h-1.4zM438.65 366.80h1.4v1.4h-1.4zM438.65 368.15h1.4v1.4h-1.4zM438.65 370.85h1.4v1.4h-1.4zM438.65 373.55h1.4v1.4h-1.4zM438.65 374.90h1.4v1.4h-1.4zM438.65 376.25h1.4v1.4h-1.4zM438.65 377.60h1.4v1.4h-1.4zM438.65 378.95h1.4v1.4h-1.4zM438.65 380.30h1.4v1.4h-1.4zM438.65 383.00h1.4v1.4h-1.4zM438.65 389.75h1.4v1.4h-1.4zM438.65 391.10h1.4v1.4h-1.4zM438.65 393.80h1.4v1.4h-1.4zM438.65 395.15h1.4v1.4h-1.4zM438.65 400.55h1.4v1.4h-1.4zM438.65 401.90h1.4v1.4h-1.4zM438.65 408.65h1.4v1.4h-1.4zM440.00 347.90h1.4v1.4h-1.4zM440.00 351.95h1.4v1.4h-1.4zM440.00 353.30h1.4v1.4h-1.4zM440.00 354.65h1.4v1.4h-1.4zM440.00 356.00h1.4v1.4h-1.4zM440.00 357.35h1.4v1.4h-1.4zM440.00 358.70h1.4v1.4h-1.4zM440.00 360.05h1.4v1.4h-1.4zM440.00 361.40h1.4v1.4h-1.4zM440.00 362.75h1.4v1.4h-1.4zM440.00 364.10h1.4v1.4h-1.4zM440.00 366.80h1.4v1.4h-1.4zM440.00 368.15h1.4v1.4h-1.4zM440.00 369.50h1.4v1.4h-1.4zM440.00 370.85h1.4v1.4h-1.4zM440.00 372.20h1.4v1.4h-1.4zM440.00 374.90h1.4v1.4h-1.4zM440.00 376.25h1.4v1.4h-1.4zM440.00 378.95h1.4v1.4h-1.4zM440.00 384.35h1.4v1.4h-1.4zM440.00 387.05h1.4v1.4h-1.4zM440.00 391.10h1.4v1.4h-1.4zM440.00 393.80h1.4v1.4h-1.4zM440.00 401.90h1.4v1.4h-1.4zM440.00 404.60h1.4v1.4h-1.4zM440.00 408.65h1.4v1.4h-1.4zM440.00 410.00h1.4v1.4h-1.4zM440.00 418.10h1.4v1.4h-1.4zM441.35 314.15h1.4v1.4h-1.4zM441.35 347.90h1.4v1.4h-1.4zM441.35 350.60h1.4v1.4h-1.4zM441.35 353.30h1.4v1.4h-1.4zM441.35 356.00h1.4v1.4h-1.4zM441.35 358.70h1.4v1.4h-1.4zM441.35 362.75h1.4v1.4h-1.4zM441.35 364.10h1.4v1.4h-1.4zM441.35 365.45h1.4v1.4h-1.4zM441.35 368.15h1.4v1.4h-1.4zM441.35 372.20h1.4v1.4h-1.4zM441.35 373.55h1.4v1.4h-1.4zM441.35 380.30h1.4v1.4h-1.4zM441.35 383.00h1.4v1.4h-1.4zM441.35 385.70h1.4v1.4h-1.4zM441.35 399.20h1.4v1.4h-1.4zM441.35 400.55h1.4v1.4h-1.4zM441.35 407.30h1.4v1.4h-1.4zM441.35 418.10h1.4v1.4h-1.4zM442.70 350.60h1.4v1.4h-1.4zM442.70 353.30h1.4v1.4h-1.4zM442.70 356.00h1.4v1.4h-1.4zM442.70 357.35h1.4v1.4h-1.4zM442.70 360.05h1.4v1.4h-1.4zM442.70 361.40h1.4v1.4h-1.4zM442.70 364.10h1.4v1.4h-1.4zM442.70 365.45h1.4v1.4h-1.4zM442.70 366.80h1.4v1.4h-1.4zM442.70 393.80h1.4v1.4h-1.4zM444.05 354.65h1.4v1.4h-1.4zM444.05 357.35h1.4v1.4h-1.4zM444.05 368.15h1.4v1.4h-1.4zM444.05 387.05h1.4v1.4h-1.4zM444.05 391.10h1.4v1.4h-1.4zM444.05 403.25h1.4v1.4h-1.4zM445.40 377.60h1.4v1.4h-1.4zM445.40 397.85h1.4v1.4h-1.4zM445.40 407.30h1.4v1.4h-1.4zM446.75 365.45h1.4v1.4h-1.4zM446.75 369.50h1.4v1.4h-1.4zM446.75 380.30h1.4v1.4h-1.4zM446.75 388.40h1.4v1.4h-1.4zM446.75 393.80h1.4v1.4h-1.4zM448.10 353.30h1.4v1.4h-1.4zM448.10 374.90h1.4v1.4h-1.4zM448.10 376.25h1.4v1.4h-1.4zM449.45 356.00h1.4v1.4h-1.4zM450.80 369.50h1.4v1.4h-1.4zM452.15 361.40h1.4v1.4h-1.4zM452.15 364.10h1.4v1.4h-1.4zM453.50 411.35h1.4v1.4h-1.4zM461.60 397.85h1.4v1.4h-1.4z" fill="#0a0a0a"/>
</svg></body></html>
